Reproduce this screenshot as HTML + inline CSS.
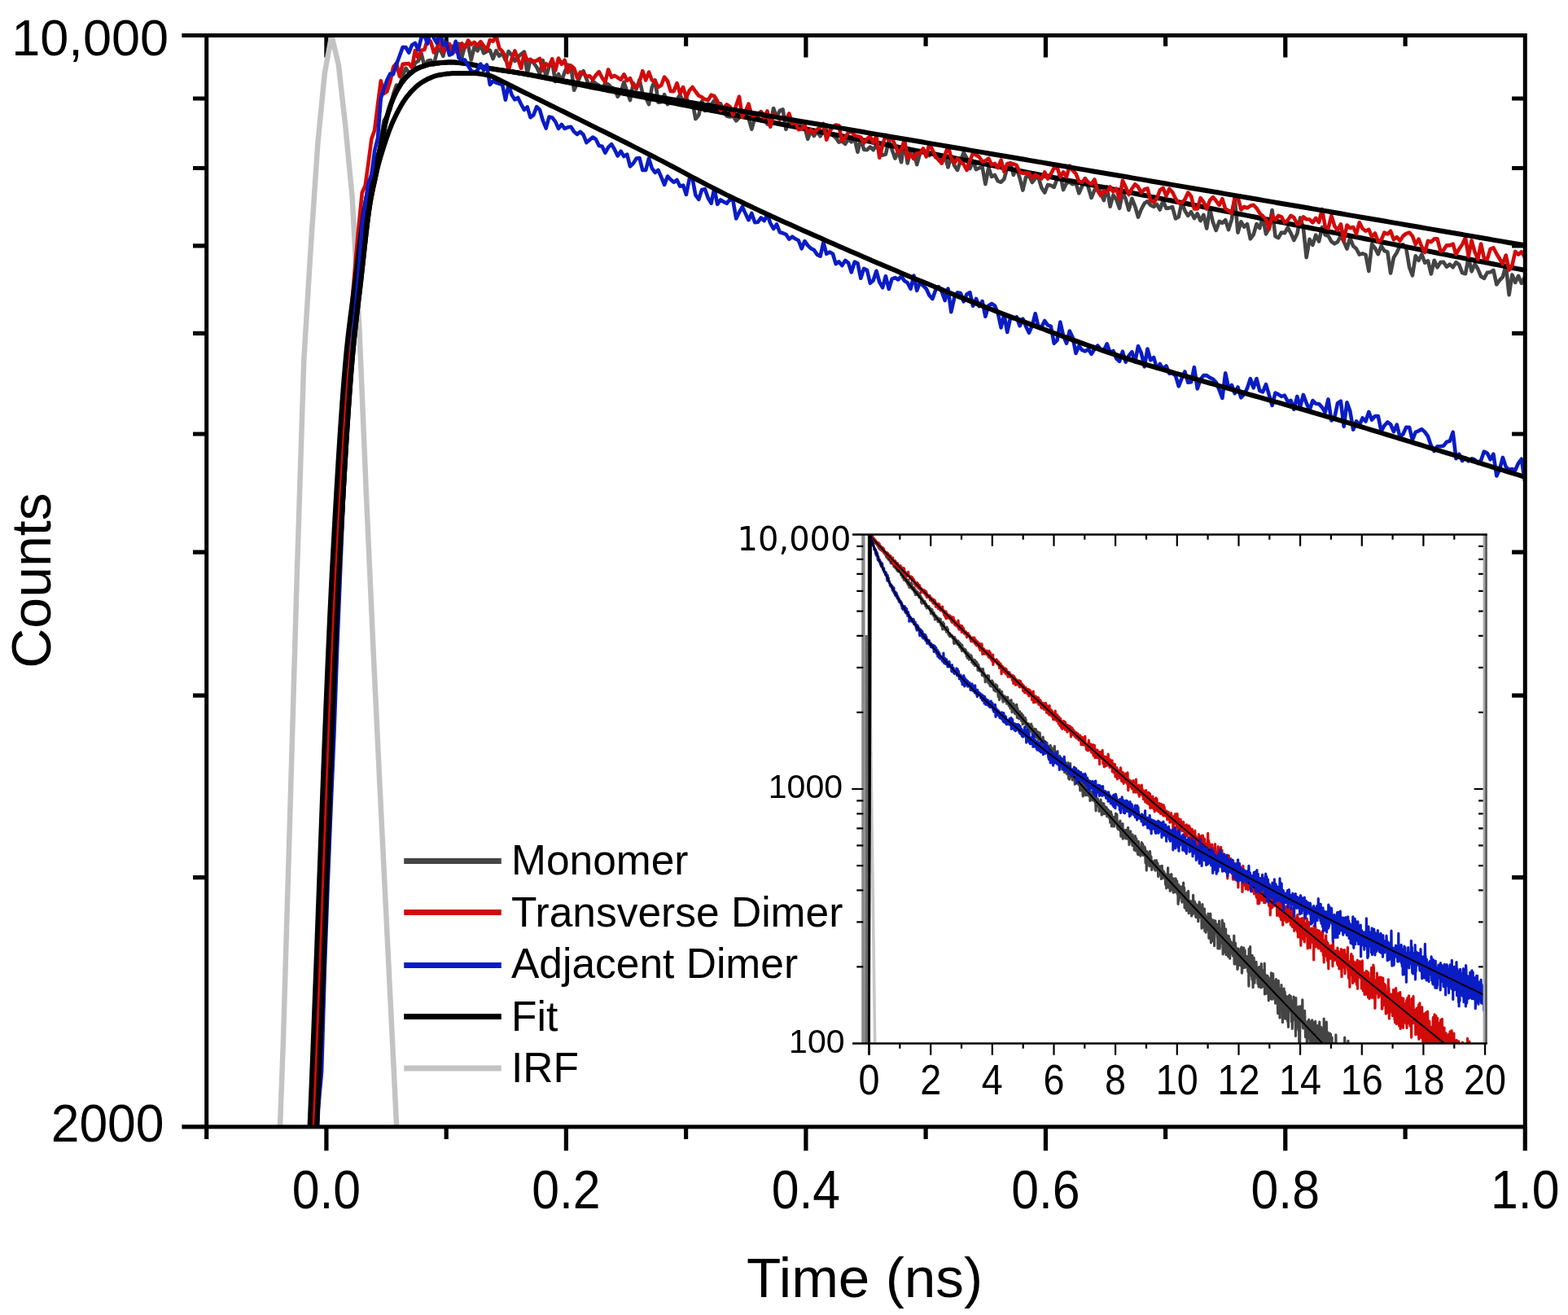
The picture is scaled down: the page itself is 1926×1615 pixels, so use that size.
<!DOCTYPE html>
<html><head><meta charset="utf-8"><title>Fluorescence decay</title>
<style>html,body{margin:0;padding:0;background:#fff;}svg{display:block;}</style>
</head><body>
<svg width="1926" height="1615" viewBox="0 0 1926 1615">
<rect width="1926" height="1615" fill="#fff"/>
<defs>
<clipPath id="cm"><rect x="253.7" y="43.5" width="1619.6" height="1340.4"/></clipPath>
<clipPath id="ci"><rect x="1060.3" y="656.5" width="764.2" height="625.0"/></clipPath>
</defs>
<path d="M253.7,1383.9 v15.1 M400.9,1383.9 v29.3 M400.9,43.5 v27 M548.2,1383.9 v15.1 M548.2,43.5 v13.3 M695.4,1383.9 v29.3 M695.4,43.5 v27 M842.6,1383.9 v15.1 M842.6,43.5 v13.3 M989.9,1383.9 v29.3 M989.9,43.5 v27 M1137.1,1383.9 v15.1 M1137.1,43.5 v13.3 M1284.4,1383.9 v29.3 M1284.4,43.5 v27 M1431.6,1383.9 v15.1 M1431.6,43.5 v13.3 M1578.8,1383.9 v29.3 M1578.8,43.5 v27 M1726.1,1383.9 v15.1 M1726.1,43.5 v13.3 M1873.3,1383.9 v29.3 M253.7,1077.7 h-16.7 M1873.3,1077.7 h-16.2 M253.7,854.2 h-16.7 M1873.3,854.2 h-16.2 M253.7,678.2 h-16.7 M1873.3,678.2 h-16.2 M253.7,533 h-16.7 M1873.3,533 h-16.2 M253.7,409.4 h-16.7 M1873.3,409.4 h-16.2 M253.7,301.8 h-16.7 M1873.3,301.8 h-16.2 M253.7,206.5 h-16.7 M1873.3,206.5 h-16.2 M253.7,121 h-16.7 M1873.3,121 h-16.2 M253.7,43.5 h-30.3 M253.7,1383.9 h-30.3" stroke="#000" stroke-width="5.2" fill="none"/>
<g clip-path="url(#cm)" fill="none" stroke-linejoin="round" stroke-linecap="round">
<polyline points="330.8,1685.5 339.3,1506.9 347.8,1282.4 356.3,997.2 364.8,706.4 373.3,441.6 381.8,302.5 390.3,176.6 398.8,90 407.3,43.5 415.8,79.4 424.3,154.6 432.8,244 441.3,402.3 449.8,604.9 458.3,793.4 466.8,970.9 475.3,1143.2 483.8,1315.2 492.3,1490.5 500.8,1666.6" stroke="#c3c3c3" stroke-width="6.5"/>
<polyline points="356.8,1913.2 360.6,1792.5 364.4,1717.7 368.3,1683.8 372.1,1615.7 375.9,1557.7 379.7,1473.5 383.6,1413.9 387.4,1319.1 391.2,1264.1 395.1,1107.9 398.9,1022.4 402.7,904.8 406.5,813.9 410.4,727.4 414.2,643.6 418,571.7 421.8,520.3 425.7,466.2 429.5,414.8 433.3,395 437.2,369.9 441,319.7 444.8,295.1 448.6,275.5 452.5,242.7 456.3,220.9 460.1,210.1 464,197.5 467.8,170.5 471.6,148.1 475.4,142 479.3,134.2 483.1,115.4 486.9,104.6 490.8,105.5 494.6,92.9 498.4,83.9 502.2,89 506.1,89.7 509.9,77.2 513.7,75 517.6,66 521.4,81.8 525.2,74.8 529,74.1 532.9,79.3 536.7,63.8 540.5,59.9 544.3,68.9 548.2,52.2 552,55.9 555.8,56.9 559.7,58.1 563.5,53.6 567.3,70.6 571.1,55.6 575,55.5 578.8,73.5 582.6,57.5 586.5,62.4 590.3,55.2 594.1,65.3 597.9,63.2 601.8,61.6 605.6,72.1 609.4,62.2 613.3,68.8 617.1,65.4 620.9,74.2 624.7,63.1 628.6,67.9 632.4,75 636.2,70 640.1,66.5 643.9,63.6 647.7,90.6 651.5,72.8 655.4,77.1 659.2,82.5 663,90.6 666.8,74.2 670.7,94.6 674.5,81.4 678.3,76.8 682.2,100.1 686,90.9 689.8,99.7 693.6,88.5 697.5,79.6 701.3,80.6 705.1,110.8 709,102.2 712.8,93.1 716.6,87.2 720.4,97 724.3,106.9 728.1,99.6 731.9,102.8 735.8,105.1 739.6,110.1 743.4,102.2 747.2,103.6 751.1,107.6 754.9,109.4 758.7,118.6 762.6,113.1 766.4,100.8 770.2,112.4 774,123.1 777.9,102.2 781.7,109.3 785.5,97.9 789.3,114.6 793.2,119.5 797,128.1 800.8,107.2 804.7,98.4 808.5,125.6 812.3,125.1 816.1,116.1 820,128.2 823.8,124.5 827.6,126 831.5,122.5 835.3,116.3 839.1,125.5 842.9,119.3 846.8,130.6 850.6,125.5 854.4,146 858.3,141.3 862.1,124.3 865.9,136 869.7,127.6 873.6,128.7 877.4,123.4 881.2,128.2 885.1,127.3 888.9,137 892.7,142.5 896.5,143.5 900.4,142.4 904.2,148.3 908,144.4 911.8,141.6 915.7,139.7 919.5,145.2 923.3,158.7 927.2,144.6 931,143.1 934.8,137.1 938.6,141.9 942.5,152.4 946.3,153.9 950.1,133 954,143.7 957.8,136 961.6,134.5 965.4,158.8 969.3,149.9 973.1,150.2 976.9,150.2 980.8,151.2 984.6,154.8 988.4,156 992.2,170.7 996.1,161 999.9,166.9 1003.7,161.2 1007.6,167.3 1011.4,159.9 1015.2,159.6 1019,164.9 1022.9,166.1 1026.7,169.1 1030.5,174.6 1034.3,173.3 1038.2,176.9 1042,170.5 1045.8,174.3 1049.7,170.4 1053.5,186.7 1057.3,169.4 1061.1,183.6 1065,184.1 1068.8,180.5 1072.6,184.2 1076.5,178 1080.3,185.8 1084.1,190.6 1087.9,189.5 1091.8,172.7 1095.6,183.8 1099.4,194.5 1103.3,185.6 1107.1,199.2 1110.9,172.6 1114.7,200.4 1118.6,184.7 1122.4,184.9 1126.2,202.1 1130.1,188.4 1133.9,183.5 1137.7,188.5 1141.5,191 1145.4,186.1 1149.2,193.3 1153,192.6 1156.8,197.2 1160.7,191.7 1164.5,205.4 1168.3,191.9 1172.2,203.3 1176,208.9 1179.8,197.6 1183.6,187.5 1187.5,194.2 1191.3,207.1 1195.1,197.9 1199,208.1 1202.8,206.2 1206.6,205.2 1210.4,226.1 1214.3,206 1218.1,217 1221.9,215 1225.8,222.4 1229.6,223.7 1233.4,219.8 1237.2,206 1241.1,200.1 1244.9,214.9 1248.7,206.6 1252.6,218.8 1256.4,233.6 1260.2,217.3 1264,215.8 1267.9,224 1271.7,218.9 1275.5,217.6 1279.3,230.5 1283.2,236.6 1287,227 1290.8,227.8 1294.7,229.9 1298.5,219.6 1302.3,214.4 1306.1,233.1 1310,224.7 1313.8,223.6 1317.6,226.3 1321.5,224.5 1325.3,237.4 1329.1,228.8 1332.9,219.1 1336.8,230.1 1340.6,243 1344.4,233.5 1348.3,229 1352.1,237.3 1355.9,246.1 1359.7,229.3 1363.6,253.7 1367.4,239.7 1371.2,244.9 1375.1,255.8 1378.9,236.2 1382.7,244.3 1386.5,258 1390.4,243.8 1394.2,253.3 1398,266.7 1401.9,257 1405.7,249.7 1409.5,247.3 1413.3,252 1417.2,253.8 1421,250.9 1424.8,257.5 1428.6,246.5 1432.5,255.9 1436.3,255.4 1440.1,254.1 1444,268.5 1447.8,266.3 1451.6,248 1455.4,258.8 1459.3,264.9 1463.1,260.3 1466.9,268.1 1470.8,262.3 1474.6,271.2 1478.4,263.8 1482.2,280.6 1486.1,256.4 1489.9,272.9 1493.7,282.9 1497.6,271.9 1501.4,273.9 1505.2,270.2 1509,282.1 1512.9,269.6 1516.7,243.1 1520.5,285.6 1524.4,272.3 1528.2,278.7 1532,275.1 1535.8,293.3 1539.7,288.2 1543.5,275 1547.3,280.1 1551.1,266.5 1555,287.4 1558.8,280.5 1562.6,258 1566.5,290.2 1570.3,292.2 1574.1,285.5 1577.9,286.3 1581.8,279.5 1585.6,286.4 1589.4,295 1593.3,287.3 1597.1,267.4 1600.9,279.8 1604.7,316.2 1608.6,293.7 1612.4,300.9 1616.2,288.7 1620.1,296.5 1623.9,279.1 1627.7,288.5 1631.5,289.7 1635.4,296.6 1639.2,299.4 1643,297 1646.9,289.5 1650.7,296.9 1654.5,305.5 1658.3,292.1 1662.2,302.3 1666,305.5 1669.8,312.6 1673.6,311.4 1677.5,312.8 1681.3,332.9 1685.1,299.9 1689,304.6 1692.8,312.2 1696.6,302 1700.4,308 1704.3,309.4 1708.1,335.5 1711.9,316.2 1715.8,310.2 1719.6,301.5 1723.4,300.3 1727.2,304.6 1731.1,328.2 1734.9,338.3 1738.7,314.3 1742.6,319.8 1746.4,312.3 1750.2,322.7 1754,320.3 1757.9,336.4 1761.7,319.8 1765.5,328.4 1769.4,322.1 1773.2,321.9 1777,327.7 1780.8,324.6 1784.7,328.2 1788.5,322.1 1792.3,325.1 1796.1,335.1 1800,336.2 1803.8,316.3 1807.6,333.3 1811.5,324.3 1815.3,330.3 1819.1,339.5 1822.9,341.9 1826.8,334.8 1830.6,334.3 1834.4,331.8 1838.3,349.3 1842.1,344 1845.9,340.2 1849.7,325.8 1853.6,362.1 1857.4,337.4 1861.2,346.9 1865.1,338.8 1868.9,347.8 1872.7,340.8 1876.5,330.8 1880.4,342.2 1884.2,342.2 1888,343.5 1891.9,354.4 1895.7,343.5 1899.5,351" stroke="#444444" stroke-width="4.6"/>
<polyline points="377,1596.5 377.5,1588.2 378,1579.9 378.5,1571.6 379,1563.3 379.5,1555 380,1546.7 380.5,1538.4 381,1530 381.5,1521.6 382,1513.1 382.5,1504.6 383,1496 383.5,1487.3 384,1478.5 384.5,1469.6 385,1460.6 385.5,1451.6 386,1442.3 386.5,1433 387,1423.5 387.5,1413.9 388,1404.1 388.5,1394.1 389,1384 389.5,1373.6 390,1363 390.5,1352.2 391,1341.1 391.5,1329.8 392,1318.3 392.5,1306.6 393,1294.7 393.5,1282.6 394,1270.4 394.5,1258 395,1245.4 395.5,1232.7 396,1219.9 396.5,1206.9 397,1193.8 397.5,1180.6 398,1167.4 398.5,1154 399,1140.6 399.5,1127.1 400,1113.5 400.5,1099.9 401,1086.3 401.5,1072.6 402,1058.9 402.5,1045.3 403,1031.6 403.5,1017.9 404,1004.3 404.5,990.7 405,977.1 405.5,963.6 406,950.2 406.5,936.8 407,923.5 407.5,910.3 408,897.2 408.5,884.2 409,871.3 409.5,858.6 410,846 410.5,833.6 411,821.3 411.5,809.2 412,797.2 412.5,785.5 413,774 413.5,762.6 414,751.5 414.5,740.6 415,730 415.5,719.6 416,709.5 416.5,699.6 417,690 417.5,680.6 418,671.2 418.5,661.9 419,652.7 419.5,643.5 420,634.4 420.5,625.4 421,616.5 421.5,607.7 422,598.9 422.5,590.3 423,581.7 423.5,573.3 424,564.9 424.5,556.7 425,548.6 425.5,540.6 426,532.7 426.5,525 427,517.4 427.5,509.9 428,502.5 428.5,495.3 429,488.3 429.5,481.4 430,474.6 430.5,468 431,461.6 431.5,455.3 432,449.3 432.5,443.3 433,437.6 433.5,432.1 434,426.7 434.5,421.5 435,416.5 435.5,411.6 436,406.9 436.5,402.3 437,397.8 437.5,393.4 438,389 438.5,384.7 439,380.5 439.5,376.3 440,372.2 440.5,368 441,363.8 441.5,359.6 442,355.4 442.5,351.1 443,346.8 443.5,342.4 444,337.9 444.5,333.4 445,328.8 445.5,324.3 446,319.7 446.5,315.1 447,310.5 447.5,305.9 448,301.3 448.5,296.8 449,292.3 449.5,287.9 450,283.6 450.5,279.4 451,275.3 451.5,271.2 452,267.3 452.5,263.5 453,259.9 453.5,256.4 454,253.1 454.5,250 455,247.1 455.5,244.3 456,241.6 456.5,239.1 457,236.7 457.5,234.4 458,232.1 458.5,229.9 459,227.7 459.5,225.5 460,223.3 460.5,221 461,218.6 461.5,216.2 462,213.7 462.5,211 463,208.2 463.5,205.2 464,202 464.5,198.8 465,195.6 465.5,192.4 466,189.2 466.5,186 467,183 467.5,180.1 468,177.4 468.5,174.7 469,172 469.5,169.4 470,166.8 470.5,164.2 471,161.7 471.5,159.3 472,156.9 472.5,154.7 473,152.5 473.5,150.4 474,148.5 474.5,146.6 475,144.8 475.5,143 476,141.2 476.5,139.5 477,137.8 477.5,136.2 478,134.6 478.5,133 479,131.5 479.5,130 480,128.5 480.5,127.1 481,125.7 481.5,124.4 482,123.1 482.5,121.8 483,120.6 483.5,119.5 484,118.4 484.5,117.3 485,116.3 485.5,115.3 486,114.3 486.5,113.3 487,112.3 487.5,111.4 488,110.5 488.5,109.6 489,108.7 489.5,107.8 490,107 490.5,106.1 491,105.3 491.5,104.5 492,103.8 492.5,103 493,102.3 493.5,101.6 494,100.9 494.5,100.2 495,99.5 495.5,98.9 496,98.3 496.5,97.7 497,97.1 497.5,96.5 498,96 498.5,95.5 499,94.9 499.5,94.4 500,93.9 502,91.9 504,90.1 506,88.4 508,86.9 510,85.6 512,84.5 514,83.6 516,82.7 518,82 520,81.2 522,80.6 524,80 526,79.4 528,78.9 530,78.5 532,78.2 534,77.9 536,77.7 538,77.5 540,77.3 542,77.1 544,76.9 546,76.8 548,76.7 550,76.6 552,76.5 554,76.5 556,76.5 558,76.6 560,76.7 562,76.9 564,77.1 566,77.3 568,77.6 570,77.8 572,78.1 574,78.4 576,78.6 578,79 580,79.4 582,79.8 584,80.3 586,80.7 588,81.2 590,81.7 592,82.2 594,82.6 596,83 598,83.4 600,83.7 602,84.1 604,84.4 606,84.7 608,85 610,85.3 612,85.6 614,85.9 616,86.2 618,86.5 620,86.8 622,87.1 624,87.4 626,87.7 628,88 630,88.3 632,88.7 634,89 636,89.3 638,89.7 640,90 642,90.4 644,90.7 646,91.1 648,91.5 650,91.9 652,92.2 654,92.6 656,93 658,93.4 660,93.8 662,94.2 664,94.6 666,95 668,95.4 670,95.8 672,96.2 674,96.6 676,97 678,97.4 680,97.8 682,98.2 684,98.6 686,99 688,99.4 690,99.8 692,100.2 694,100.6 696,101 698,101.4 700,101.8 706,103 712,104.1 718,105.3 724,106.5 730,107.7 736,108.8 742,110 748,111.2 754,112.3 760,113.5 766,114.7 772,115.9 778,117 784,118.2 790,119.4 796,120.5 802,121.7 808,122.9 814,124.1 820,125.2 826,126.4 832,127.6 838,128.7 844,129.9 850,131.1 856,132.3 862,133.4 868,134.6 874,135.8 880,136.9 886,138.1 892,139.3 898,140.5 904,141.6 910,142.8 916,144 922,145.1 928,146.3 934,147.5 940,148.7 946,149.8 952,151 958,152.2 964,153.4 970,154.5 976,155.7 982,156.9 988,158.1 994,159.2 1000,160.4 1006,161.6 1012,162.7 1018,163.9 1024,165.1 1030,166.3 1036,167.4 1042,168.6 1048,169.8 1054,171 1060,172.1 1066,173.3 1072,174.5 1078,175.7 1084,176.8 1090,178 1096,179.2 1102,180.4 1108,181.5 1114,182.7 1120,183.9 1126,185.1 1132,186.3 1138,187.4 1144,188.6 1150,189.8 1156,191 1162,192.1 1168,193.3 1174,194.5 1180,195.7 1186,196.8 1192,198 1198,199.2 1204,200.4 1210,201.5 1216,202.7 1222,203.9 1228,205.1 1234,206.3 1240,207.4 1246,208.6 1252,209.8 1258,211 1264,212.1 1270,213.3 1276,214.5 1282,215.7 1288,216.8 1294,218 1300,219.2 1306,220.4 1312,221.6 1318,222.7 1324,223.9 1330,225.1 1336,226.3 1342,227.4 1348,228.6 1354,229.8 1360,231 1366,232.1 1372,233.3 1378,234.5 1384,235.7 1390,236.9 1396,238 1402,239.2 1408,240.4 1414,241.6 1420,242.7 1426,243.9 1432,245.1 1438,246.3 1444,247.5 1450,248.6 1456,249.8 1462,251 1468,252.2 1474,253.3 1480,254.5 1486,255.7 1492,256.9 1498,258.1 1504,259.2 1510,260.4 1516,261.6 1522,262.8 1528,263.9 1534,265.1 1540,266.3 1546,267.5 1552,268.7 1558,269.8 1564,271 1570,272.2 1576,273.4 1582,274.6 1588,275.7 1594,276.9 1600,278.1 1606,279.3 1612,280.5 1618,281.6 1624,282.8 1630,284 1636,285.2 1642,286.4 1648,287.5 1654,288.7 1660,289.9 1666,291.1 1672,292.3 1678,293.5 1684,294.6 1690,295.8 1696,297 1702,298.2 1708,299.4 1714,300.5 1720,301.7 1726,302.9 1732,304.1 1738,305.3 1744,306.5 1750,307.6 1756,308.8 1762,310 1768,311.2 1774,312.4 1780,313.6 1786,314.7 1792,315.9 1798,317.1 1804,318.3 1810,319.5 1816,320.7 1822,321.8 1828,323 1834,324.2 1840,325.4 1846,326.6 1852,327.8 1858,329 1864,330.1 1870,331.3 1876,332.5" stroke="#000" stroke-width="6"/>
<polyline points="356.8,1999.6 360.6,1889.8 364.4,1796.7 368.3,1750.5 372.1,1630.6 375.9,1600.1 379.7,1485.2 383.6,1416.1 387.4,1330.6 391.2,1236.3 395.1,1139.9 398.9,1042.2 402.7,933.1 406.5,814 410.4,741.3 414.2,658 418,589.2 421.8,520.5 425.7,458.5 429.5,402.2 433.3,361 437.2,314.9 441,274.1 444.8,236.5 448.6,228 452.5,200.1 456.3,170.8 460.1,160.1 464,128.5 467.8,99.3 471.6,115 475.4,112.3 479.3,100 483.1,82.5 486.9,77.6 490.8,93.8 494.6,78.9 498.4,78.4 502.2,78.1 506.1,83.1 509.9,62 513.7,71 517.6,61.7 521.4,60.9 525.2,48.2 529,51.1 532.9,64.5 536.7,58.5 540.5,50.1 544.3,64 548.2,57.9 552,53.9 555.8,64.9 559.7,62.5 563.5,65.4 567.3,53.3 571.1,58.5 575,49.6 578.8,54.6 582.6,51.9 586.5,56 590.3,51.1 594.1,56.4 597.9,61.9 601.8,49 605.6,50.7 609.4,43.8 613.3,59.3 617.1,63.2 620.9,69.9 624.7,86.3 628.6,72 632.4,62.5 636.2,72.2 640.1,84 643.9,65.5 647.7,73.9 651.5,73.6 655.4,75.2 659.2,74.5 663,71.9 666.8,86.6 670.7,78.4 674.5,81.3 678.3,72.3 682.2,86.7 686,71.5 689.8,78.8 693.6,73.8 697.5,89.1 701.3,80.7 705.1,83.8 709,95.8 712.8,88.6 716.6,90.2 720.4,93.9 724.3,93.2 728.1,97.9 731.9,92.4 735.8,88.1 739.6,95.5 743.4,101 747.2,85.4 751.1,94.8 754.9,92.9 758.7,95.2 762.6,97.7 766.4,91.3 770.2,98.9 774,96.1 777.9,105.9 781.7,107.8 785.5,100.6 789.3,87.1 793.2,98.5 797,88.5 800.8,98.5 804.7,99.5 808.5,107 812.3,104.6 816.1,94.6 820,99.5 823.8,112 827.6,112.2 831.5,102.2 835.3,114.9 839.1,107.1 842.9,119.7 846.8,111.3 850.6,107 854.4,112.5 858.3,117.5 862.1,119.4 865.9,122.1 869.7,123 873.6,116.7 877.4,118 881.2,123.9 885.1,135.7 888.9,132.2 892.7,128.3 896.5,131.1 900.4,141.2 904.2,129.6 908,118.6 911.8,143.8 915.7,136.6 919.5,127.7 923.3,141.5 927.2,142.2 931,139.4 934.8,137.6 938.6,144.6 942.5,136.5 946.3,155.7 950.1,140.1 954,142.6 957.8,146.7 961.6,144 965.4,146.9 969.3,139.5 973.1,151.7 976.9,149.8 980.8,159.2 984.6,158.3 988.4,153.5 992.2,162.9 996.1,159.2 999.9,163.3 1003.7,159 1007.6,156.1 1011.4,151.9 1015.2,171.6 1019,161.4 1022.9,155.6 1026.7,153.4 1030.5,154.3 1034.3,173.7 1038.2,168.7 1042,162.8 1045.8,161.3 1049.7,166.4 1053.5,167.4 1057.3,168.4 1061.1,175.8 1065,170.7 1068.8,167.3 1072.6,175.6 1076.5,166.7 1080.3,193.8 1084.1,178.1 1087.9,165.8 1091.8,171.9 1095.6,169.1 1099.4,178.3 1103.3,187.7 1107.1,184.1 1110.9,171.8 1114.7,194.5 1118.6,189.4 1122.4,195.2 1126.2,188.2 1130.1,188.3 1133.9,182.5 1137.7,192.4 1141.5,176.6 1145.4,184.3 1149.2,192.3 1153,196.5 1156.8,200.6 1160.7,190.6 1164.5,179.2 1168.3,193.9 1172.2,200.4 1176,194.7 1179.8,198.4 1183.6,201.7 1187.5,209 1191.3,197.5 1195.1,188.1 1199,190.5 1202.8,192.8 1206.6,198.6 1210.4,197.5 1214.3,194.7 1218.1,202.4 1221.9,200.9 1225.8,206.1 1229.6,196.7 1233.4,211 1237.2,201 1241.1,200.6 1244.9,201.4 1248.7,202.9 1252.6,211.4 1256.4,212.7 1260.2,212.4 1264,212.8 1267.9,218.6 1271.7,214.7 1275.5,216.7 1279.3,219.5 1283.2,211.4 1287,219.6 1290.8,213.6 1294.7,206.2 1298.5,205.5 1302.3,217.2 1306.1,211.3 1310,217.1 1313.8,203.6 1317.6,209.2 1321.5,213.4 1325.3,222.6 1329.1,224 1332.9,219.4 1336.8,224 1340.6,226.1 1344.4,220.5 1348.3,234.3 1352.1,240.2 1355.9,234.2 1359.7,235.9 1363.6,229.4 1367.4,235.4 1371.2,231.6 1375.1,244.7 1378.9,221.8 1382.7,229.7 1386.5,239 1390.4,231.7 1394.2,226.3 1398,229.6 1401.9,236.6 1405.7,232.5 1409.5,231.4 1413.3,246.3 1417.2,248.6 1421,243.5 1424.8,233.5 1428.6,230.9 1432.5,240.6 1436.3,232 1440.1,236.1 1444,244 1447.8,249.2 1451.6,249.2 1455.4,244.9 1459.3,236.6 1463.1,241.1 1466.9,256.4 1470.8,256.5 1474.6,243.2 1478.4,248.1 1482.2,256.5 1486.1,246.1 1489.9,242.1 1493.7,246.6 1497.6,251.9 1501.4,244.2 1505.2,256.6 1509,258.7 1512.9,261.6 1516.7,243 1520.5,242.1 1524.4,257.5 1528.2,253.8 1532,255.4 1535.8,252.8 1539.7,251.7 1543.5,255.8 1547.3,261.8 1551.1,265.4 1555,269.5 1558.8,281.3 1562.6,264.4 1566.5,270.2 1570.3,264.9 1574.1,266.4 1577.9,273.5 1581.8,270.5 1585.6,264.8 1589.4,267.2 1593.3,275.1 1597.1,274.9 1600.9,266.4 1604.7,269.3 1608.6,269.5 1612.4,273.4 1616.2,267.9 1620.1,273 1623.9,257 1627.7,278.2 1631.5,280.5 1635.4,264.9 1639.2,277.4 1643,283 1646.9,275.3 1650.7,295.1 1654.5,276.5 1658.3,280.1 1662.2,279.1 1666,287.2 1669.8,273.2 1673.6,280.7 1677.5,283.7 1681.3,281.8 1685.1,290.8 1689,286.5 1692.8,296.8 1696.6,294.7 1700.4,285.6 1704.3,287.5 1708.1,283.8 1711.9,294.3 1715.8,291.1 1719.6,295.8 1723.4,289.9 1727.2,286.9 1731.1,285.6 1734.9,289.7 1738.7,300 1742.6,293.6 1746.4,303 1750.2,310 1754,295.9 1757.9,297.2 1761.7,293.3 1765.5,293.4 1769.4,308.5 1773.2,306.9 1777,301.3 1780.8,301.4 1784.7,299.7 1788.5,312.5 1792.3,305.7 1796.1,300.2 1800,292.1 1803.8,314.9 1807.6,295.4 1811.5,309.4 1815.3,318.3 1819.1,299.5 1822.9,317 1826.8,318.4 1830.6,305.8 1834.4,304.3 1838.3,311.7 1842.1,318 1845.9,324.2 1849.7,313.5 1853.6,331.6 1857.4,326 1861.2,308.9 1865.1,312.7 1868.9,309.1 1872.7,315.5 1876.5,327.2 1880.4,316.5 1884.2,333.4 1888,316.2 1891.9,312.2 1895.7,329.6 1899.5,315.9" stroke="#d20a0a" stroke-width="4.6"/>
<polyline points="377,1463.6 377.5,1452.5 378,1441.2 378.5,1429.9 379,1418.6 379.5,1407.1 380,1395.6 380.5,1384 381,1372.3 381.5,1360.4 382,1348.3 382.5,1336.1 383,1323.8 383.5,1311.3 384,1298.8 384.5,1286.1 385,1273.3 385.5,1260.4 386,1247.4 386.5,1234.4 387,1221.2 387.5,1208 388,1194.8 388.5,1181.5 389,1168.1 389.5,1154.7 390,1141.3 390.5,1127.8 391,1114.4 391.5,1100.9 392,1087.4 392.5,1073.9 393,1060.5 393.5,1047 394,1033.6 394.5,1020.2 395,1006.9 395.5,993.6 396,980.4 396.5,967.2 397,954.2 397.5,941.1 398,928.2 398.5,915.4 399,902.7 399.5,890.1 400,877.5 400.5,865.2 401,852.9 401.5,840.8 402,828.9 402.5,817.1 403,805.4 403.5,793.9 404,782.6 404.5,771.5 405,760.6 405.5,749.8 406,739.3 406.5,729 407,718.9 407.5,709 408,699.4 408.5,690 409,680.8 409.5,671.6 410,662.4 410.5,653.4 411,644.4 411.5,635.5 412,626.6 412.5,617.9 413,609.2 413.5,600.6 414,592.1 414.5,583.7 415,575.4 415.5,567.2 416,559.1 416.5,551.2 417,543.3 417.5,535.6 418,528 418.5,520.6 419,513.3 419.5,506.1 420,499 420.5,492.2 421,485.4 421.5,478.8 422,472.4 422.5,466.2 423,460.1 423.5,454.2 424,448.5 424.5,443 425,437.6 425.5,432.4 426,427.4 426.5,422.6 427,417.9 427.5,413.4 428,409 428.5,404.7 429,400.5 429.5,396.5 430,392.5 430.5,388.5 431,384.7 431.5,380.8 432,377.1 432.5,373.3 433,369.6 433.5,365.8 434,362.1 434.5,358.3 435,354.5 435.5,350.7 436,346.8 436.5,342.9 437,338.9 437.5,334.9 438,330.8 438.5,326.7 439,322.7 439.5,318.6 440,314.5 440.5,310.4 441,306.4 441.5,302.4 442,298.4 442.5,294.4 443,290.5 443.5,286.7 444,282.9 444.5,279.2 445,275.5 445.5,272 446,268.5 446.5,265.1 447,261.8 447.5,258.7 448,255.7 448.5,252.8 449,250 449.5,247.3 450,244.8 450.5,242.3 451,239.8 451.5,237.5 452,235.2 452.5,233 453,230.8 453.5,228.6 454,226.5 454.5,224.5 455,222.5 455.5,220.5 456,218.6 456.5,216.7 457,214.8 457.5,212.9 458,211 458.5,209.2 459,207.4 459.5,205.7 460,204.1 460.5,202.5 461,201 461.5,199.5 462,198 462.5,196.5 463,195 463.5,193.5 464,192 464.5,190.4 465,188.8 465.5,187.2 466,185.5 466.5,183.7 467,181.9 467.5,180 468,177.9 468.5,175.7 469,173.3 469.5,170.8 470,168.2 470.5,165.5 471,162.8 471.5,160.2 472,157.6 472.5,155.1 473,152.7 473.5,150.5 474,148.5 474.5,146.6 475,144.8 475.5,143 476,141.2 476.5,139.5 477,137.8 477.5,136.2 478,134.6 478.5,133 479,131.5 479.5,130 480,128.5 480.5,127.1 481,125.7 481.5,124.4 482,123.1 482.5,121.8 483,120.6 483.5,119.5 484,118.4 484.5,117.3 485,116.3 485.5,115.3 486,114.3 486.5,113.3 487,112.3 487.5,111.4 488,110.5 488.5,109.6 489,108.7 489.5,107.8 490,107 490.5,106.1 491,105.3 491.5,104.5 492,103.8 492.5,103 493,102.3 493.5,101.6 494,100.9 494.5,100.2 495,99.5 495.5,98.9 496,98.3 496.5,97.7 497,97.1 497.5,96.5 498,96 498.5,95.5 499,94.9 499.5,94.4 500,93.9 502,91.9 504,90.1 506,88.4 508,86.9 510,85.6 512,84.5 514,83.6 516,82.7 518,82 520,81.2 522,80.6 524,80 526,79.4 528,78.9 530,78.5 532,78.2 534,77.9 536,77.7 538,77.5 540,77.3 542,77.1 544,76.9 546,76.8 548,76.7 550,76.6 552,76.5 554,76.5 556,76.5 558,76.6 560,76.7 562,76.9 564,77.1 566,77.3 568,77.6 570,77.8 572,78.1 574,78.4 576,78.6 578,79 580,79.4 582,79.8 584,80.3 586,80.7 588,81.2 590,81.7 592,82.2 594,82.6 596,83 598,83.4 600,83.7 602,84.1 604,84.4 606,84.7 608,85 610,85.4 612,85.7 614,86 616,86.3 618,86.6 620,86.9 622,87.2 624,87.5 626,87.8 628,88.1 630,88.4 632,88.7 634,89 636,89.3 638,89.7 640,90 642,90.3 644,90.7 646,91 648,91.4 650,91.7 652,92 654,92.4 656,92.7 658,93.1 660,93.4 662,93.8 664,94.1 666,94.5 668,94.9 670,95.2 672,95.6 674,95.9 676,96.3 678,96.6 680,97 682,97.3 684,97.7 686,98 688,98.4 690,98.8 692,99.1 694,99.5 696,99.8 698,100.2 700,100.5 706,101.5 712,102.6 718,103.6 724,104.6 730,105.7 736,106.7 742,107.8 748,108.8 754,109.8 760,110.8 766,111.9 772,112.9 778,113.9 784,115 790,116 796,117 802,118 808,119.1 814,120.1 820,121.1 826,122.1 832,123.2 838,124.2 844,125.2 850,126.2 856,127.3 862,128.3 868,129.3 874,130.3 880,131.3 886,132.4 892,133.4 898,134.4 904,135.4 910,136.5 916,137.5 922,138.5 928,139.5 934,140.5 940,141.6 946,142.6 952,143.6 958,144.6 964,145.7 970,146.7 976,147.7 982,148.7 988,149.8 994,150.8 1000,151.8 1006,152.8 1012,153.8 1018,154.9 1024,155.9 1030,156.9 1036,157.9 1042,159 1048,160 1054,161 1060,162 1066,163.1 1072,164.1 1078,165.1 1084,166.1 1090,167.2 1096,168.2 1102,169.2 1108,170.2 1114,171.3 1120,172.3 1126,173.3 1132,174.3 1138,175.4 1144,176.4 1150,177.4 1156,178.4 1162,179.4 1168,180.5 1174,181.5 1180,182.5 1186,183.5 1192,184.6 1198,185.6 1204,186.6 1210,187.6 1216,188.7 1222,189.7 1228,190.7 1234,191.7 1240,192.8 1246,193.8 1252,194.8 1258,195.8 1264,196.9 1270,197.9 1276,198.9 1282,199.9 1288,201 1294,202 1300,203 1306,204 1312,205 1318,206.1 1324,207.1 1330,208.1 1336,209.1 1342,210.2 1348,211.2 1354,212.2 1360,213.2 1366,214.3 1372,215.3 1378,216.3 1384,217.3 1390,218.4 1396,219.4 1402,220.4 1408,221.4 1414,222.5 1420,223.5 1426,224.5 1432,225.5 1438,226.6 1444,227.6 1450,228.6 1456,229.6 1462,230.7 1468,231.7 1474,232.7 1480,233.8 1486,234.8 1492,235.8 1498,236.8 1504,237.9 1510,238.9 1516,239.9 1522,240.9 1528,242 1534,243 1540,244 1546,245 1552,246.1 1558,247.1 1564,248.1 1570,249.2 1576,250.2 1582,251.2 1588,252.2 1594,253.3 1600,254.3 1606,255.3 1612,256.4 1618,257.4 1624,258.4 1630,259.4 1636,260.5 1642,261.5 1648,262.5 1654,263.6 1660,264.6 1666,265.6 1672,266.7 1678,267.7 1684,268.7 1690,269.8 1696,270.8 1702,271.8 1708,272.9 1714,273.9 1720,274.9 1726,276 1732,277 1738,278 1744,279 1750,280.1 1756,281.1 1762,282.1 1768,283.2 1774,284.2 1780,285.2 1786,286.3 1792,287.3 1798,288.4 1804,289.4 1810,290.4 1816,291.5 1822,292.5 1828,293.5 1834,294.6 1840,295.6 1846,296.6 1852,297.7 1858,298.7 1864,299.7 1870,300.8 1876,301.8" stroke="#000" stroke-width="6"/>
<polyline points="356.8,1976.4 360.6,1907.2 364.4,1841.2 368.3,1735.5 372.1,1668.9 375.9,1618.8 379.7,1612.3 383.6,1537.1 387.4,1441.8 391.2,1359 395.1,1315.8 398.9,1188.4 402.7,1084.9 406.5,992.2 410.4,902.1 414.2,795.6 418,703.6 421.8,613.9 425.7,536.5 429.5,483.8 433.3,419.4 437.2,372.9 441,329.3 444.8,275.1 448.6,250.3 452.5,224.8 456.3,214.9 460.1,185.5 464,169.6 467.8,120.8 471.6,109.5 475.4,98.3 479.3,90.6 483.1,91.1 486.9,79.1 490.8,68.7 494.6,58.1 498.4,58 502.2,64.7 506.1,55.2 509.9,52.9 513.7,61.2 517.6,45.9 521.4,43.6 525.2,53.7 529,34.6 532.9,46.6 536.7,53 540.5,38 544.3,55.2 548.2,52.6 552,67.6 555.8,65.9 559.7,50.8 563.5,71.1 567.3,73.5 571.1,73.5 575,80.8 578.8,87 582.6,88.7 586.5,86.4 590.3,78.6 594.1,86.3 597.9,79.6 601.8,104 605.6,99.5 609.4,101.6 613.3,102.7 617.1,104 620.9,122.6 624.7,104.3 628.6,116.6 632.4,122.4 636.2,120 640.1,128 643.9,134.9 647.7,131.4 651.5,144.2 655.4,141.1 659.2,131.1 663,134.9 666.8,148 670.7,157.5 674.5,143.5 678.3,144.4 682.2,149.4 686,157.9 689.8,152.9 693.6,157.9 697.5,156.3 701.3,155.7 705.1,161.8 709,164.9 712.8,161.8 716.6,165.5 720.4,175.1 724.3,171.7 728.1,168.5 731.9,171 735.8,178.9 739.6,179.8 743.4,187.7 747.2,180.9 751.1,177.1 754.9,183.5 758.7,191.4 762.6,185.8 766.4,192 770.2,189.6 774,204.4 777.9,200.6 781.7,194.5 785.5,194.1 789.3,209 793.2,209 797,194.7 800.8,206.6 804.7,211.8 808.5,208.9 812.3,217.6 816.1,226.9 820,216.5 823.8,220.5 827.6,223.8 831.5,221 835.3,228.7 839.1,227.6 842.9,239 846.8,219.4 850.6,219.7 854.4,239.7 858.3,244.9 862.1,233 865.9,232.2 869.7,243 873.6,249.7 877.4,231.1 881.2,250.8 885.1,245.3 888.9,247.9 892.7,249.8 896.5,245 900.4,246.2 904.2,268.4 908,260.7 911.8,254 915.7,262.4 919.5,270.2 923.3,261.9 927.2,273.1 931,272.7 934.8,267.4 938.6,271.1 942.5,263.7 946.3,274.1 950.1,281 954,275.5 957.8,285.2 961.6,286.3 965.4,287.8 969.3,293.7 973.1,290.7 976.9,293.3 980.8,295.2 984.6,305.3 988.4,296.1 992.2,301.4 996.1,305.1 999.9,307 1003.7,312.6 1007.6,314.7 1011.4,297.8 1015.2,311.9 1019,309.6 1022.9,311.8 1026.7,324.1 1030.5,321.4 1034.3,326.1 1038.2,319.9 1042,322.8 1045.8,334.3 1049.7,321.7 1053.5,323.3 1057.3,341.7 1061.1,329.9 1065,331.8 1068.8,347.8 1072.6,344.5 1076.5,332.8 1080.3,346.7 1084.1,353.2 1087.9,339.1 1091.8,355 1095.6,342.6 1099.4,341.1 1103.3,343.4 1107.1,339.2 1110.9,344.9 1114.7,347.3 1118.6,354.7 1122.4,338.5 1126.2,356.8 1130.1,346.5 1133.9,350.9 1137.7,354.6 1141.5,362.7 1145.4,367 1149.2,356.3 1153,352.1 1156.8,358.2 1160.7,369 1164.5,354.5 1168.3,383.1 1172.2,365.7 1176,359.3 1179.8,359.9 1183.6,370.3 1187.5,361.5 1191.3,359.1 1195.1,375.8 1199,366.8 1202.8,376.2 1206.6,369.9 1210.4,388.7 1214.3,375.4 1218.1,373 1221.9,375.4 1225.8,384.7 1229.6,402.3 1233.4,386.2 1237.2,407.9 1241.1,390.2 1244.9,391.2 1248.7,389.2 1252.6,400.2 1256.4,391.7 1260.2,401 1264,408.7 1267.9,399.8 1271.7,385.2 1275.5,401.2 1279.3,401.6 1283.2,394 1287,399.4 1290.8,400.7 1294.7,421.7 1298.5,417.8 1302.3,395.6 1306.1,412.3 1310,421.7 1313.8,406.5 1317.6,414.4 1321.5,433.8 1325.3,424.9 1329.1,429.8 1332.9,431.4 1336.8,428.8 1340.6,434.8 1344.4,428.8 1348.3,424.5 1352.1,429.1 1355.9,430.2 1359.7,422.3 1363.6,433.2 1367.4,431 1371.2,440.2 1375.1,443.8 1378.9,431.6 1382.7,444.6 1386.5,437 1390.4,432.2 1394.2,444.4 1398,425.1 1401.9,433.8 1405.7,450.3 1409.5,428.5 1413.3,442.3 1417.2,439 1421,452.5 1424.8,447 1428.6,452.9 1432.5,449.5 1436.3,458.6 1440.1,458.2 1444,461.4 1447.8,474.4 1451.6,464.6 1455.4,456.5 1459.3,469.8 1463.1,469.2 1466.9,451 1470.8,477.4 1474.6,465.8 1478.4,461.1 1482.2,461 1486.1,463.9 1489.9,465.6 1493.7,469.5 1497.6,478.8 1501.4,488.9 1505.2,458.3 1509,476.2 1512.9,472.9 1516.7,483.1 1520.5,475.5 1524.4,488.3 1528.2,484.2 1532,476.9 1535.8,465.1 1539.7,476.3 1543.5,465 1547.3,479.9 1551.1,481.3 1555,472.2 1558.8,484.8 1562.6,497.9 1566.5,482.5 1570.3,484.3 1574.1,486.9 1577.9,485.7 1581.8,493.1 1585.6,491.9 1589.4,502.7 1593.3,486.9 1597.1,499.6 1600.9,484.9 1604.7,495 1608.6,503.8 1612.4,492 1616.2,495.7 1620.1,496.1 1623.9,500.2 1627.7,506.2 1631.5,490.4 1635.4,516.5 1639.2,513.2 1643,495.2 1646.9,492.7 1650.7,523.8 1654.5,494.3 1658.3,504.9 1662.2,527.6 1666,517.4 1669.8,522.2 1673.6,513.4 1677.5,517.5 1681.3,505.9 1685.1,515.6 1689,511.1 1692.8,511 1696.6,529.6 1700.4,522.7 1704.3,518.5 1708.1,521.1 1711.9,530.2 1715.8,521.7 1719.6,536.8 1723.4,533.2 1727.2,524.8 1731.1,524.7 1734.9,540.4 1738.7,530.8 1742.6,529.1 1746.4,527.1 1750.2,530.7 1754,535.9 1757.9,547.4 1761.7,554.1 1765.5,548.3 1769.4,548.2 1773.2,547.4 1777,542.7 1780.8,541.7 1784.7,530.7 1788.5,563.2 1792.3,557.8 1796.1,565.9 1800,562.5 1803.8,566.3 1807.6,563.2 1811.5,564.7 1815.3,569 1819.1,565.5 1822.9,554.6 1826.8,556.6 1830.6,564.3 1834.4,557.7 1838.3,584.5 1842.1,576.1 1845.9,561.9 1849.7,573.4 1853.6,576.7 1857.4,576.1 1861.2,577.5 1865.1,568.8 1868.9,563.8 1872.7,589.6 1876.5,588.7 1880.4,585.3 1884.2,579.2 1888,576.6 1891.9,584.4 1895.7,581.6 1899.5,588.7" stroke="#0a1cc4" stroke-width="4.6"/>
<polyline points="377,1596.5 377.5,1588.2 378,1579.9 378.5,1571.6 379,1563.3 379.5,1555 380,1546.7 380.5,1538.4 381,1530 381.5,1521.6 382,1513.1 382.5,1504.6 383,1496 383.5,1487.3 384,1478.5 384.5,1469.6 385,1460.6 385.5,1451.6 386,1442.3 386.5,1433 387,1423.5 387.5,1413.9 388,1404.1 388.5,1394.1 389,1384 389.5,1373.6 390,1363 390.5,1352.2 391,1341.1 391.5,1329.8 392,1318.3 392.5,1306.6 393,1294.7 393.5,1282.6 394,1270.4 394.5,1258 395,1245.4 395.5,1232.7 396,1219.9 396.5,1206.9 397,1193.8 397.5,1180.6 398,1167.4 398.5,1154 399,1140.6 399.5,1127.1 400,1113.5 400.5,1099.9 401,1086.3 401.5,1072.6 402,1058.9 402.5,1045.3 403,1031.6 403.5,1017.9 404,1004.3 404.5,990.7 405,977.1 405.5,963.6 406,950.2 406.5,936.8 407,923.5 407.5,910.3 408,897.2 408.5,884.2 409,871.3 409.5,858.6 410,846 410.5,833.6 411,821.3 411.5,809.2 412,797.2 412.5,785.5 413,774 413.5,762.6 414,751.5 414.5,740.6 415,730 415.5,719.6 416,709.5 416.5,699.6 417,690 417.5,680.6 418,671.2 418.5,661.9 419,652.7 419.5,643.5 420,634.4 420.5,625.4 421,616.5 421.5,607.7 422,598.9 422.5,590.3 423,581.7 423.5,573.3 424,564.9 424.5,556.7 425,548.6 425.5,540.6 426,532.7 426.5,525 427,517.4 427.5,509.9 428,502.5 428.5,495.3 429,488.3 429.5,481.4 430,474.6 430.5,468 431,461.6 431.5,455.3 432,449.3 432.5,443.3 433,437.6 433.5,432.1 434,426.7 434.5,421.5 435,416.5 435.5,411.6 436,406.9 436.5,402.3 437,397.8 437.5,393.4 438,389 438.5,384.7 439,380.5 439.5,376.3 440,372.2 440.5,368 441,363.8 441.5,359.6 442,355.4 442.5,351.1 443,346.8 443.5,342.4 444,337.9 444.5,333.4 445,328.8 445.5,324.3 446,319.7 446.5,315.1 447,310.5 447.5,305.9 448,301.3 448.5,296.8 449,292.3 449.5,287.9 450,283.6 450.5,279.4 451,275.3 451.5,271.2 452,267.3 452.5,263.5 453,259.9 453.5,256.4 454,253.1 454.5,250 455,247 455.5,244.1 456,241.3 456.5,238.6 457,236 457.5,233.4 458,230.9 458.5,228.5 459,226.1 459.5,223.8 460,221.6 460.5,219.4 461,217.3 461.5,215.1 462,213.1 462.5,211 463,209 463.5,207 464,205.1 464.5,203.2 465,201.3 465.5,199.5 466,197.7 466.5,195.9 467,194.2 467.5,192.4 468,190.8 468.5,189.1 469,187.5 469.5,185.9 470,184.3 470.5,182.7 471,181.1 471.5,179.6 472,178.1 472.5,176.6 473,175 473.5,173.5 474,172.1 474.5,170.6 475,169.1 475.5,167.7 476,166.2 476.5,164.8 477,163.4 477.5,162 478,160.7 478.5,159.4 479,158 479.5,156.8 480,155.5 480.5,154.3 481,153 481.5,151.9 482,150.7 482.5,149.6 483,148.5 483.5,147.4 484,146.4 484.5,145.3 485,144.3 485.5,143.2 486,142.2 486.5,141.2 487,140.2 487.5,139.2 488,138.2 488.5,137.2 489,136.3 489.5,135.3 490,134.4 490.5,133.5 491,132.6 491.5,131.7 492,130.8 492.5,129.9 493,129 493.5,128.2 494,127.3 494.5,126.5 495,125.7 495.5,124.9 496,124.2 496.5,123.4 497,122.7 497.5,121.9 498,121.2 498.5,120.5 499,119.8 499.5,119.2 500,118.5 502,116.1 504,113.8 506,111.6 508,109.6 510,107.6 512,105.8 514,104.1 516,102.6 518,101.2 520,100 522,98.9 524,97.8 526,96.8 528,95.9 530,95 532,94.2 534,93.5 536,92.9 538,92.4 540,92 542,91.7 544,91.4 546,91.1 548,90.8 550,90.6 552,90.4 554,90.2 556,90.1 558,90 560,90 562,90 564,90 566,90 568,90 570,90 572,90 574,90 576,90 578,90 580,90 582,90 584,90.1 586,90.3 588,90.5 590,90.8 592,91 594,91.4 596,91.7 598,92.1 600,92.5 602,93 604,93.7 606,94.5 608,95.5 610,96.5 612,97.5 614,98.5 616,99.5 618,100.4 620,101.4 622,102.4 624,103.4 626,104.4 628,105.4 630,106.5 632,107.5 634,108.5 636,109.5 638,110.5 640,111.5 642,112.5 644,113.5 646,114.5 648,115.4 650,116.4 652,117.4 654,118.4 656,119.4 658,120.4 660,121.3 662,122.3 664,123.3 666,124.3 668,125.3 670,126.2 672,127.2 674,128.2 676,129.2 678,130.2 680,131.1 682,132.1 684,133.1 686,134.1 688,135.1 690,136.1 692,137 694,138 696,139 698,140 700,141 706,144 712,146.9 718,149.9 724,152.9 730,155.9 736,158.9 742,161.8 748,164.8 754,167.8 760,170.8 766,173.8 772,176.8 778,179.9 784,182.9 790,185.9 796,189 802,192 808,195.1 814,198.2 820,201.4 826,204.5 832,207.7 838,210.9 844,214.1 850,217.3 856,220.5 862,223.6 868,226.8 874,229.9 880,233 886,236 892,239.1 898,242 904,244.9 910,247.8 916,250.7 922,253.5 928,256.4 934,259.2 940,262 946,264.7 952,267.5 958,270.2 964,272.9 970,275.6 976,278.3 982,281 988,283.7 994,286.3 1000,289 1006,291.6 1012,294.3 1018,296.9 1024,299.6 1030,302.2 1036,304.8 1042,307.4 1048,310 1054,312.6 1060,315.2 1066,317.8 1072,320.4 1078,323 1084,325.5 1090,328.1 1096,330.6 1102,333.1 1108,335.7 1114,338.2 1120,340.7 1126,343.2 1132,345.6 1138,348.1 1144,350.6 1150,353 1156,355.4 1162,357.9 1168,360.3 1174,362.7 1180,365.1 1186,367.5 1192,369.9 1198,372.2 1204,374.6 1210,377 1216,379.3 1222,381.6 1228,384 1234,386.3 1240,388.6 1246,390.8 1252,393.1 1258,395.4 1264,397.6 1270,399.9 1276,402.1 1282,404.3 1288,406.6 1294,408.8 1300,411 1306,413.2 1312,415.4 1318,417.6 1324,419.7 1330,421.9 1336,424 1342,426.1 1348,428.2 1354,430.3 1360,432.4 1366,434.4 1372,436.4 1378,438.4 1384,440.3 1390,442.2 1396,444.1 1402,445.9 1408,447.8 1414,449.6 1420,451.4 1426,453.2 1432,455 1438,456.7 1444,458.5 1450,460.2 1456,461.9 1462,463.6 1468,465.4 1474,467.1 1480,468.8 1486,470.5 1492,472.2 1498,474 1504,475.7 1510,477.4 1516,479.2 1522,480.9 1528,482.6 1534,484.3 1540,486 1546,487.7 1552,489.4 1558,491.1 1564,492.8 1570,494.4 1576,496.1 1582,497.8 1588,499.5 1594,501.2 1600,502.9 1606,504.6 1612,506.4 1618,508.1 1624,509.8 1630,511.6 1636,513.4 1642,515.1 1648,516.9 1654,518.7 1660,520.5 1666,522.3 1672,524.2 1678,526 1684,527.8 1690,529.6 1696,531.5 1702,533.3 1708,535.1 1714,537 1720,538.8 1726,540.7 1732,542.5 1738,544.3 1744,546.2 1750,548 1756,549.8 1762,551.7 1768,553.5 1774,555.3 1780,557.2 1786,559 1792,560.9 1798,562.7 1804,564.5 1810,566.4 1816,568.2 1822,570.1 1828,571.9 1834,573.8 1840,575.6 1846,577.5 1852,579.3 1858,581.2 1864,583 1870,584.9 1876,586.8" stroke="#000" stroke-width="6"/>
</g>
<rect x="253.7" y="43.5" width="1619.6" height="1340.4" fill="none" stroke="#000" stroke-width="5"/>
<rect x="1060.3" y="656.5" width="764.2" height="625.0" fill="#fff"/>
<g clip-path="url(#ci)" fill="none" stroke-linejoin="round">
<polyline points="1063.5,1289.5 1066.2,900 1067.3,656.5 1069.5,900 1074.8,1289.5" stroke="#c6c6c6" stroke-width="3.6"/>
<polyline points="1067.5,655.8 1067.8,656.9 1068.1,655.8 1068.4,655.2 1068.6,654.6 1068.9,656.4 1069.2,657.6 1069.5,658.3 1069.8,656.6 1070.1,655.8 1070.3,658 1070.6,660.4 1070.9,660.4 1071.2,657.3 1071.5,659.5 1071.8,662.6 1072,660.7 1072.3,662.5 1072.6,662.2 1072.9,662.3 1073.2,663 1073.5,661.6 1073.7,662.8 1074,663.9 1074.3,662.9 1074.6,662.7 1074.9,666.5 1075.2,664.9 1075.4,666.3 1075.7,665.6 1076,667.5 1076.3,666 1076.6,666.5 1076.9,667.2 1077.1,668.6 1077.4,668.1 1077.7,669.4 1078,670.2 1078.3,668.3 1078.6,670.5 1078.8,667.7 1079.1,668.7 1079.4,672.9 1079.7,670 1080,672.4 1080.3,671.1 1080.6,671.4 1080.8,674.7 1081.1,672.6 1081.4,673 1081.7,671.6 1082,675 1082.3,672.6 1082.5,675.6 1082.8,674.9 1083.1,676 1083.4,673 1083.7,674.7 1084,672.4 1084.2,675.3 1084.5,675.3 1084.8,675.7 1085.1,678.2 1085.4,677.8 1085.7,676.1 1085.9,679 1086.2,678.5 1086.5,679.1 1086.8,678.6 1087.1,680.4 1087.4,680.4 1087.6,680.2 1087.9,680.8 1088.2,682.6 1088.5,680.3 1088.8,684 1089.1,684.2 1089.3,684.7 1089.6,681.6 1089.9,684 1090.2,685.3 1090.5,685.9 1090.8,683.9 1091,686.5 1091.3,687.2 1091.6,684.7 1091.9,687.8 1092.2,686.8 1092.5,686.7 1092.8,687.7 1093,687.5 1093.3,685.7 1093.6,688.9 1093.9,690.4 1094.2,691.7 1094.5,689.5 1094.7,690.1 1095,689.5 1095.3,691 1095.6,691.4 1095.9,692.1 1096.2,692.2 1096.4,691.5 1096.7,692.7 1097,692.3 1097.3,689.9 1097.6,692.4 1097.9,696 1098.1,691.2 1098.4,693.7 1098.7,696.1 1099,693.5 1099.3,695.3 1099.6,696.6 1099.8,697 1100.1,697.9 1100.4,696.7 1100.7,695.4 1101,698 1101.3,697.1 1101.5,695.2 1101.8,700.5 1102.1,698.5 1102.4,699.7 1102.7,701.3 1103,701.6 1103.2,700.3 1103.5,700 1103.8,701.9 1104.1,701.3 1104.4,700.6 1104.7,701.6 1105,701.1 1105.2,702.1 1105.5,702.4 1105.8,700.6 1106.1,702.9 1106.4,704 1106.7,703.4 1106.9,706.4 1107.2,705.8 1107.5,704.4 1107.8,705 1108.1,703.9 1108.4,706.7 1108.6,709.5 1108.9,704.3 1109.2,706 1109.5,709.9 1109.8,706.3 1110.1,708.8 1110.3,712.2 1110.6,710.3 1110.9,710.8 1111.2,707.7 1111.5,711.9 1111.8,711.4 1112,711.8 1112.3,712.3 1112.6,713.6 1112.9,712 1113.2,711 1113.5,712.1 1113.7,715 1114,715.8 1114.3,714 1114.6,715.7 1114.9,715.9 1115.2,718.1 1115.4,712.3 1115.7,714.4 1116,717.9 1116.3,715.1 1116.6,714.7 1116.9,721.5 1117.2,718.6 1117.4,718.7 1117.7,717.3 1118,719 1118.3,719.5 1118.6,719.6 1118.9,716.7 1119.1,716.5 1119.4,721.4 1119.7,722.5 1120,716.7 1120.3,723.3 1120.6,722.9 1120.8,722.2 1121.1,721.8 1121.4,721.2 1121.7,722.7 1122,725.2 1122.3,723.2 1122.5,724 1122.8,721.5 1123.1,725.1 1123.4,727.8 1123.7,727.7 1124,723.6 1124.2,727.5 1124.5,730.6 1124.8,728.2 1125.1,727.6 1125.4,725.8 1125.7,730.1 1125.9,727.4 1126.2,727.6 1126.5,730.6 1126.8,730 1127.1,726.9 1127.4,727.3 1127.6,729.2 1127.9,730.5 1128.2,729.4 1128.5,732 1128.8,732.3 1129.1,734 1129.4,732.8 1129.6,733.3 1129.9,728.6 1130.2,734.2 1130.5,731.9 1130.8,732.2 1131.1,735.3 1131.3,733.2 1131.6,739.6 1131.9,735.8 1132.2,734.8 1132.5,741.1 1132.8,739.1 1133,735.4 1133.3,738.2 1133.6,740.1 1133.9,739.1 1134.2,739.8 1134.5,737.8 1134.7,738.6 1135,740.3 1135.3,741.4 1135.6,740.6 1135.9,738.4 1136.2,740.6 1136.4,740.4 1136.7,742.2 1137,744.7 1137.3,743.9 1137.6,741.7 1137.9,743.1 1138.1,745.3 1138.4,747 1138.7,744.1 1139,745.3 1139.3,745.7 1139.6,746 1139.8,745.2 1140.1,745.5 1140.4,744.6 1140.7,745 1141,744.6 1141.3,745.9 1141.6,748.4 1141.8,748.3 1142.1,747.6 1142.4,749.4 1142.7,748.1 1143,747.3 1143.3,751.4 1143.5,753.7 1143.8,748.3 1144.1,750.9 1144.4,749.9 1144.7,754.2 1145,748.7 1145.2,750.9 1145.5,752.9 1145.8,753.7 1146.1,753.1 1146.4,754 1146.7,754.6 1146.9,756.6 1147.2,752.3 1147.5,755.2 1147.8,755.3 1148.1,755.6 1148.4,760.8 1148.6,755.4 1148.9,757.4 1149.2,757.7 1149.5,757.4 1149.8,759.8 1150.1,756.5 1150.3,759.9 1150.6,760.7 1150.9,760.9 1151.2,759.2 1151.5,758.4 1151.8,761.4 1152.1,763.6 1152.3,758.8 1152.6,763.4 1152.9,759.3 1153.2,762.1 1153.5,763.7 1153.8,763.9 1154,762.1 1154.3,761.6 1154.6,764.1 1154.9,762.1 1155.2,760.2 1155.5,765.1 1155.7,767.4 1156,767.6 1156.3,768.6 1156.6,767.4 1156.9,767.9 1157.2,769.5 1157.4,766 1157.7,772.9 1158,770.5 1158.3,764.1 1158.6,766.4 1158.9,767.8 1159.1,768.2 1159.4,765.9 1159.7,768.8 1160,770 1160.3,773.1 1160.6,771 1160.8,772.8 1161.1,773.1 1161.4,773.4 1161.7,772.4 1162,773.3 1162.3,771.1 1162.5,776.1 1162.8,774 1163.1,770.1 1163.4,774.2 1163.7,772.2 1164,772.6 1164.3,772.6 1164.5,774.1 1164.8,779 1165.1,776.9 1165.4,777.5 1165.7,780.4 1166,778.4 1166.2,780.4 1166.5,781.7 1166.8,778 1167.1,778.8 1167.4,780.6 1167.7,781.5 1167.9,780.9 1168.2,781 1168.5,781.3 1168.8,780.9 1169.1,782.1 1169.4,780.6 1169.6,780.7 1169.9,781.4 1170.2,783.9 1170.5,784.2 1170.8,782.2 1171.1,783.9 1171.3,784 1171.6,789.7 1171.9,790.5 1172.2,784.1 1172.5,784.5 1172.8,782.5 1173,784.3 1173.3,785.8 1173.6,786.5 1173.9,790.1 1174.2,785.3 1174.5,788.9 1174.7,786.8 1175,787.8 1175.3,788 1175.6,787 1175.9,790.4 1176.2,790.5 1176.5,791.9 1176.7,791.1 1177,787 1177.3,791.8 1177.6,788.7 1177.9,789.8 1178.2,790.4 1178.4,790.5 1178.7,795 1179,792.2 1179.3,789.8 1179.6,795.3 1179.9,794.1 1180.1,795.9 1180.4,794 1180.7,797.5 1181,791.8 1181.3,796.6 1181.6,799.6 1181.8,792.4 1182.1,794.5 1182.4,795.9 1182.7,796.2 1183,798.6 1183.3,798.6 1183.5,796.8 1183.8,796.7 1184.1,797 1184.4,798.9 1184.7,800.8 1185,800.5 1185.2,797.9 1185.5,797.5 1185.8,801.9 1186.1,802.6 1186.4,798.9 1186.7,800.5 1186.9,800.8 1187.2,805.9 1187.5,804 1187.8,804.7 1188.1,803.3 1188.4,808.1 1188.7,801.5 1188.9,804.1 1189.2,804.1 1189.5,808.3 1189.8,805.9 1190.1,803.1 1190.4,810.2 1190.6,806.1 1190.9,805.5 1191.2,809.1 1191.5,805.9 1191.8,809 1192.1,805.6 1192.3,807.6 1192.6,808.6 1192.9,804.8 1193.2,807.9 1193.5,807.1 1193.8,813.4 1194,812.4 1194.3,809.2 1194.6,809.4 1194.9,812 1195.2,810.3 1195.5,815.1 1195.7,812.3 1196,816 1196.3,812.7 1196.6,815.1 1196.9,815.8 1197.2,814.4 1197.4,810.5 1197.7,817.7 1198,817 1198.3,813.3 1198.6,817.2 1198.9,812.3 1199.1,816.3 1199.4,817 1199.7,816.7 1200,813.7 1200.3,816.6 1200.6,817.3 1200.9,818.3 1201.1,823.1 1201.4,821.8 1201.7,816.3 1202,818.2 1202.3,819.3 1202.6,819.3 1202.8,822.6 1203.1,820.7 1203.4,824.1 1203.7,821.2 1204,824.3 1204.3,823.4 1204.5,822.1 1204.8,824.4 1205.1,822.3 1205.4,823.1 1205.7,823.6 1206,821.6 1206.2,829 1206.5,829.6 1206.8,824.3 1207.1,823.8 1207.4,821.5 1207.7,825 1207.9,825.1 1208.2,829.8 1208.5,826 1208.8,826.5 1209.1,831.3 1209.4,831.2 1209.6,829.5 1209.9,828.8 1210.2,837.7 1210.5,830 1210.8,829.9 1211.1,831.3 1211.3,830.5 1211.6,830.3 1211.9,834.5 1212.2,831.1 1212.5,833.2 1212.8,835.3 1213.1,832.6 1213.3,829.7 1213.6,837.7 1213.9,838.6 1214.2,838.9 1214.5,829.8 1214.8,835.8 1215,835.7 1215.3,837.9 1215.6,838.7 1215.9,841.9 1216.2,836.4 1216.5,836.5 1216.7,842.8 1217,840.6 1217.3,840.1 1217.6,838.5 1217.9,838.2 1218.2,836.2 1218.4,835.9 1218.7,837 1219,836.6 1219.3,843.6 1219.6,842.3 1219.9,838.1 1220.1,840.7 1220.4,841.7 1220.7,847.5 1221,847.5 1221.3,840.8 1221.6,842.2 1221.8,844.2 1222.1,844.9 1222.4,848.8 1222.7,843.4 1223,842 1223.3,840.7 1223.5,845.3 1223.8,846.3 1224.1,849.1 1224.4,843.1 1224.7,842.1 1225,848.7 1225.3,846.6 1225.5,847.5 1225.8,849.6 1226.1,855.4 1226.4,849.7 1226.7,847.4 1227,853.4 1227.2,852 1227.5,859.4 1227.8,846.8 1228.1,849.3 1228.4,850.9 1228.7,852.1 1228.9,853.4 1229.2,852.2 1229.5,853.2 1229.8,853.3 1230.1,853.1 1230.4,852.9 1230.6,849.3 1230.9,858.1 1231.2,853.5 1231.5,856.4 1231.8,858.2 1232.1,862.1 1232.3,853.9 1232.6,858.8 1232.9,858.4 1233.2,855.3 1233.5,860 1233.8,857.2 1234,857.8 1234.3,855.6 1234.6,855.4 1234.9,861.1 1235.2,856.3 1235.5,859.5 1235.7,859.2 1236,860.5 1236.3,858 1236.6,864.1 1236.9,860.1 1237.2,857.8 1237.5,862.3 1237.7,856.1 1238,864.3 1238.3,861.9 1238.6,864.2 1238.9,865 1239.2,866.8 1239.4,865.4 1239.7,864.3 1240,866.8 1240.3,862.2 1240.6,860.7 1240.9,870 1241.1,863.3 1241.4,865.5 1241.7,865.7 1242,859.7 1242.3,863.6 1242.6,866.4 1242.8,867.2 1243.1,874.6 1243.4,866.1 1243.7,870.9 1244,868.5 1244.3,869 1244.5,866.8 1244.8,864.1 1245.1,867.4 1245.4,866.9 1245.7,871.7 1246,869.9 1246.2,869.3 1246.5,876.3 1246.8,866.3 1247.1,874.7 1247.4,876.8 1247.7,868.4 1247.9,867.3 1248.2,876 1248.5,876.1 1248.8,865.4 1249.1,874.5 1249.4,881.3 1249.7,877.4 1249.9,869.9 1250.2,874.2 1250.5,874.2 1250.8,873.1 1251.1,875.1 1251.4,878.5 1251.6,882.8 1251.9,876.7 1252.2,881.9 1252.5,878.9 1252.8,873.8 1253.1,877.7 1253.3,879.5 1253.6,879.8 1253.9,878.1 1254.2,877.9 1254.5,885.2 1254.8,880.8 1255,876.4 1255.3,879.7 1255.6,884.7 1255.9,884.8 1256.2,889.6 1256.5,885.8 1256.7,878.7 1257,884.2 1257.3,887 1257.6,886.4 1257.9,885.3 1258.2,885.6 1258.4,886.7 1258.7,888.3 1259,884.2 1259.3,881.7 1259.6,888.7 1259.9,888.9 1260.1,883.8 1260.4,892.6 1260.7,890 1261,889.7 1261.3,888.3 1261.6,890 1261.9,892.3 1262.1,888.8 1262.4,893.9 1262.7,896.1 1263,897.4 1263.3,888.7 1263.6,897.1 1263.8,890.3 1264.1,889.9 1264.4,889.8 1264.7,893.2 1265,894.8 1265.3,893 1265.5,895.6 1265.8,898.2 1266.1,890.2 1266.4,897.5 1266.7,889.2 1267,893.6 1267.2,897.1 1267.5,894.5 1267.8,892.2 1268.1,901.1 1268.4,899.9 1268.7,900.7 1268.9,897 1269.2,896.5 1269.5,898 1269.8,900.9 1270.1,900.5 1270.4,895.2 1270.6,895.8 1270.9,899.3 1271.2,904.5 1271.5,898.3 1271.8,899.8 1272.1,900.2 1272.3,895.7 1272.6,899 1272.9,905.3 1273.2,905.6 1273.5,898.1 1273.8,902.3 1274.1,900.3 1274.3,904 1274.6,907.2 1274.9,903.2 1275.2,899.2 1275.5,903.5 1275.8,908.9 1276,906.4 1276.3,907.3 1276.6,905.3 1276.9,902.8 1277.2,900 1277.5,906.1 1277.7,908.6 1278,907.2 1278.3,907.7 1278.6,909.6 1278.9,908.3 1279.2,908.7 1279.4,913.2 1279.7,907.5 1280,910.9 1280.3,913.5 1280.6,908.7 1280.9,912.4 1281.1,905.1 1281.4,909.7 1281.7,911.4 1282,914.6 1282.3,913.7 1282.6,909.7 1282.8,915.3 1283.1,910.6 1283.4,921.1 1283.7,913.2 1284,911.4 1284.3,913.4 1284.5,914.9 1284.8,911.7 1285.1,918.6 1285.4,919.4 1285.7,915.8 1286,912.3 1286.3,915.3 1286.5,917.8 1286.8,916.4 1287.1,916.2 1287.4,922.6 1287.7,928.8 1288,922.4 1288.2,924.5 1288.5,921.4 1288.8,924 1289.1,923.1 1289.4,918.8 1289.7,920.3 1289.9,921 1290.2,915.4 1290.5,923.2 1290.8,923.2 1291.1,917.7 1291.4,926.6 1291.6,928.8 1291.9,918.5 1292.2,922.2 1292.5,921.6 1292.8,921.8 1293.1,921.1 1293.3,926.4 1293.6,925.3 1293.9,929.4 1294.2,925.1 1294.5,925.1 1294.8,927.9 1295,924.1 1295.3,916.4 1295.6,931.5 1295.9,924.5 1296.2,924.4 1296.5,924.2 1296.7,931.4 1297,924.4 1297.3,926.6 1297.6,929.8 1297.9,930.9 1298.2,929 1298.5,926.8 1298.7,927.3 1299,922.6 1299.3,932.5 1299.6,929.2 1299.9,933.4 1300.2,929.2 1300.4,931.9 1300.7,935 1301,938.1 1301.3,936.3 1301.6,932.8 1301.9,928.6 1302.1,931.4 1302.4,939.2 1302.7,936.8 1303,935.2 1303.3,936.1 1303.6,935.8 1303.8,933.4 1304.1,935.9 1304.4,939.8 1304.7,945 1305,939.1 1305.3,944.7 1305.5,939.1 1305.8,937.6 1306.1,944.4 1306.4,940.1 1306.7,941.2 1307,933.1 1307.2,938.9 1307.5,948.5 1307.8,939.6 1308.1,940.1 1308.4,942.8 1308.7,943.8 1308.9,940.4 1309.2,940.5 1309.5,941.7 1309.8,947.6 1310.1,945 1310.4,950.6 1310.7,950.7 1310.9,947.2 1311.2,949.6 1311.5,947.3 1311.8,936.6 1312.1,944.4 1312.4,950.2 1312.6,955.9 1312.9,950.7 1313.2,953.5 1313.5,957.1 1313.8,945.5 1314.1,950.6 1314.3,947.3 1314.6,937.5 1314.9,948.6 1315.2,949.5 1315.5,948.9 1315.8,951.7 1316,954.3 1316.3,952.1 1316.6,947 1316.9,952.9 1317.2,957.8 1317.5,957.6 1317.7,957 1318,953.1 1318.3,951.5 1318.6,951.8 1318.9,949.3 1319.2,955.1 1319.4,951.2 1319.7,953.6 1320,952.3 1320.3,963.2 1320.6,950.7 1320.9,962.5 1321.2,961 1321.4,953.5 1321.7,958.5 1322,950.1 1322.3,956.8 1322.6,962.1 1322.9,957.5 1323.1,960.1 1323.4,952.4 1323.7,952.4 1324,956.3 1324.3,961.3 1324.6,959.6 1324.8,955.9 1325.1,963.9 1325.4,964.2 1325.7,957.7 1326,958.4 1326.3,962.8 1326.5,963.2 1326.8,970.9 1327.1,957.9 1327.4,963.5 1327.7,969.5 1328,968.5 1328.2,967.8 1328.5,957.3 1328.8,961.7 1329.1,970.7 1329.4,957.6 1329.7,960 1329.9,970.4 1330.2,978 1330.5,962.4 1330.8,969.4 1331.1,967.7 1331.4,969.7 1331.6,962.5 1331.9,961.9 1332.2,964.9 1332.5,969.3 1332.8,967.9 1333.1,966.7 1333.4,976.6 1333.6,964.7 1333.9,971.6 1334.2,969.4 1334.5,970.3 1334.8,967.3 1335.1,966.9 1335.3,962.5 1335.6,973.6 1335.9,976.4 1336.2,972.1 1336.5,975.9 1336.8,969.6 1337,977.2 1337.3,973.3 1337.6,970.2 1337.9,970.2 1338.2,974 1338.5,969.1 1338.7,969.9 1339,983.5 1339.3,974.5 1339.6,975.6 1339.9,978 1340.2,979.8 1340.4,977.1 1340.7,975.9 1341,976.7 1341.3,972.3 1341.6,974.2 1341.9,981.5 1342.1,982.6 1342.4,975.7 1342.7,982.9 1343,979.4 1343.3,978.3 1343.6,976.2 1343.8,978.7 1344.1,975 1344.4,983.7 1344.7,979 1345,985.3 1345.3,981.7 1345.6,982.3 1345.8,987.5 1346.1,995.8 1346.4,979.6 1346.7,982.5 1347,983.8 1347.3,988 1347.5,986.6 1347.8,983.3 1348.1,985.6 1348.4,980.8 1348.7,985.8 1349,990.4 1349.2,984.2 1349.5,990.2 1349.8,986.6 1350.1,996.5 1350.4,989.8 1350.7,986 1350.9,991.9 1351.2,989.3 1351.5,986.8 1351.8,989.5 1352.1,982.1 1352.4,991.6 1352.6,991.6 1352.9,991.8 1353.2,1000.9 1353.5,999 1353.8,989.5 1354.1,993.9 1354.3,986.3 1354.6,993.3 1354.9,994 1355.2,988.8 1355.5,992.6 1355.8,986.8 1356,999.6 1356.3,992.7 1356.6,991.9 1356.9,992.8 1357.2,990.4 1357.5,991.2 1357.8,996.2 1358,999.3 1358.3,992.3 1358.6,997 1358.9,993 1359.2,991.5 1359.5,997.1 1359.7,1002.7 1360,999.9 1360.3,995.2 1360.6,1000.4 1360.9,994 1361.2,999.6 1361.4,999.5 1361.7,1003.5 1362,1001.2 1362.3,995.8 1362.6,1003 1362.9,1003.3 1363.1,1005.8 1363.4,998.6 1363.7,1010.2 1364,1006.2 1364.3,998.9 1364.6,996.8 1364.8,1005 1365.1,999.6 1365.4,1014.6 1365.7,1001.2 1366,1003.8 1366.3,1011.6 1366.5,1014.8 1366.8,1008.6 1367.1,1005.2 1367.4,1005 1367.7,1006.5 1368,1003.6 1368.2,1004.3 1368.5,1015 1368.8,1010.2 1369.1,1011.2 1369.4,1003.9 1369.7,1011.7 1370,1004.7 1370.2,1009.4 1370.5,999 1370.8,1010.8 1371.1,1010.8 1371.4,1011.7 1371.7,1010.7 1371.9,1000.1 1372.2,1014.6 1372.5,1016.8 1372.8,1013.7 1373.1,1009.7 1373.4,1018.4 1373.6,1009.7 1373.9,1010.1 1374.2,1015.1 1374.5,1015.9 1374.8,1018.9 1375.1,1016.6 1375.3,1019.6 1375.6,1009.6 1375.9,1008.1 1376.2,1017.9 1376.5,1017 1376.8,1027.2 1377,1020.1 1377.3,1016 1377.6,1016.6 1377.9,1017.7 1378.2,1014.4 1378.5,1018.5 1378.7,1021.3 1379,1011.6 1379.3,1030.2 1379.6,1026.3 1379.9,1024.4 1380.2,1024.7 1380.4,1025.2 1380.7,1022.7 1381,1025.6 1381.3,1022.4 1381.6,1019.4 1381.9,1022.6 1382.2,1022.4 1382.4,1028.4 1382.7,1029.8 1383,1025.6 1383.3,1019.6 1383.6,1022.7 1383.9,1019.4 1384.1,1020.1 1384.4,1019.8 1384.7,1030.2 1385,1019.8 1385.3,1022.6 1385.6,1016.3 1385.8,1024 1386.1,1025.7 1386.4,1028.4 1386.7,1027.2 1387,1037.4 1387.3,1030 1387.5,1029.2 1387.8,1024.1 1388.1,1033.1 1388.4,1029.2 1388.7,1020.8 1389,1033.4 1389.2,1026.4 1389.5,1034 1389.8,1032 1390.1,1029.3 1390.4,1027.4 1390.7,1035 1390.9,1038.3 1391.2,1025 1391.5,1032.3 1391.8,1029.4 1392.1,1029 1392.4,1030.2 1392.6,1035.9 1392.9,1035.6 1393.2,1043.8 1393.5,1034.5 1393.8,1038.3 1394.1,1036.2 1394.4,1026.5 1394.6,1033 1394.9,1036.7 1395.2,1044.9 1395.5,1033.7 1395.8,1029.8 1396.1,1042.8 1396.3,1036.2 1396.6,1041.7 1396.9,1040 1397.2,1041.5 1397.5,1048.9 1397.8,1042.9 1398,1049.6 1398.3,1033.3 1398.6,1035.4 1398.9,1041.1 1399.2,1040.1 1399.5,1041.6 1399.7,1041.1 1400,1041.4 1400.3,1044.2 1400.6,1044.1 1400.9,1051.1 1401.2,1049.4 1401.4,1047.5 1401.7,1043.2 1402,1046.8 1402.3,1034.7 1402.6,1046.3 1402.9,1047.6 1403.1,1043.5 1403.4,1040.6 1403.7,1036.5 1404,1041.5 1404.3,1050.5 1404.6,1048.4 1404.8,1041.9 1405.1,1046.6 1405.4,1043.9 1405.7,1049.1 1406,1040.2 1406.3,1041.3 1406.6,1043.3 1406.8,1049 1407.1,1059.6 1407.4,1058.3 1407.7,1048.9 1408,1047.4 1408.3,1069 1408.5,1054.4 1408.8,1045.6 1409.1,1046.9 1409.4,1055.4 1409.7,1049.3 1410,1053 1410.2,1054.7 1410.5,1047.5 1410.8,1047.7 1411.1,1057.4 1411.4,1060.2 1411.7,1062.7 1411.9,1063.8 1412.2,1048.1 1412.5,1045.5 1412.8,1055 1413.1,1050.6 1413.4,1060.8 1413.6,1057.5 1413.9,1052.2 1414.2,1055.9 1414.5,1058.2 1414.8,1068.4 1415.1,1067.4 1415.3,1061.4 1415.6,1062.5 1415.9,1060 1416.2,1063.6 1416.5,1061.4 1416.8,1060.1 1417,1057.8 1417.3,1060.7 1417.6,1064.7 1417.9,1063.4 1418.2,1056.8 1418.5,1063.5 1418.8,1068.5 1419,1069 1419.3,1061.6 1419.6,1060.3 1419.9,1056.8 1420.2,1066.1 1420.5,1056.6 1420.7,1066.9 1421,1066.5 1421.3,1068.8 1421.6,1062.6 1421.9,1059.9 1422.2,1066.5 1422.4,1069.7 1422.7,1076.5 1423,1066.4 1423.3,1069.7 1423.6,1069.1 1423.9,1072 1424.1,1073.9 1424.4,1071.4 1424.7,1066.5 1425,1063.8 1425.3,1069.8 1425.6,1068.1 1425.8,1071.6 1426.1,1071.4 1426.4,1079.5 1426.7,1066 1427,1068 1427.3,1063.3 1427.5,1076 1427.8,1071.7 1428.1,1078.6 1428.4,1071.7 1428.7,1074.2 1429,1069.7 1429.2,1074.9 1429.5,1070.5 1429.8,1077.7 1430.1,1071.3 1430.4,1077.1 1430.7,1078.3 1431,1075.3 1431.2,1073.9 1431.5,1085.5 1431.8,1086.5 1432.1,1075.9 1432.4,1077.7 1432.7,1090.9 1432.9,1089 1433.2,1083.2 1433.5,1076.6 1433.8,1077.6 1434.1,1073.1 1434.4,1072.4 1434.6,1065.8 1434.9,1089.5 1435.2,1080.7 1435.5,1074.2 1435.8,1089.2 1436.1,1090.5 1436.3,1080.4 1436.6,1075.2 1436.9,1074.6 1437.2,1094.3 1437.5,1090.8 1437.8,1083.8 1438,1086.9 1438.3,1081.7 1438.6,1083.2 1438.9,1073.6 1439.2,1085.1 1439.5,1083.8 1439.7,1084.8 1440,1078.7 1440.3,1093.2 1440.6,1083.7 1440.9,1091.5 1441.2,1096.2 1441.4,1079.7 1441.7,1084 1442,1079 1442.3,1086.3 1442.6,1084.1 1442.9,1087.7 1443.2,1085.2 1443.4,1091.9 1443.7,1078.8 1444,1095.6 1444.3,1079.4 1444.6,1091.6 1444.9,1085.1 1445.1,1090 1445.4,1088.3 1445.7,1082.1 1446,1090.9 1446.3,1098.5 1446.6,1090.9 1446.8,1088.5 1447.1,1110.3 1447.4,1087 1447.7,1086.6 1448,1106.2 1448.3,1095.3 1448.5,1089.2 1448.8,1102.8 1449.1,1098 1449.4,1097.7 1449.7,1092.1 1450,1088.8 1450.2,1096.6 1450.5,1096.2 1450.8,1090.9 1451.1,1093.7 1451.4,1098.3 1451.7,1089.2 1451.9,1108.1 1452.2,1097.5 1452.5,1101.7 1452.8,1102.6 1453.1,1098.1 1453.4,1099.5 1453.6,1084.2 1453.9,1096 1454.2,1098.3 1454.5,1090.1 1454.8,1094.5 1455.1,1115 1455.4,1101 1455.6,1097.1 1455.9,1106.7 1456.2,1100.8 1456.5,1106.3 1456.8,1100.8 1457.1,1115.5 1457.3,1118.3 1457.6,1108.2 1457.9,1103.1 1458.2,1096 1458.5,1107.2 1458.8,1110.9 1459,1099.6 1459.3,1105.9 1459.6,1094.4 1459.9,1107.4 1460.2,1121.6 1460.5,1113.2 1460.7,1114.6 1461,1118.2 1461.3,1114 1461.6,1113.6 1461.9,1111 1462.2,1113.2 1462.4,1106.7 1462.7,1107 1463,1109 1463.3,1109.1 1463.6,1125 1463.9,1123.6 1464.1,1117.9 1464.4,1109.9 1464.7,1123 1465,1115.4 1465.3,1110.9 1465.6,1099.4 1465.8,1111.4 1466.1,1117.5 1466.4,1106.2 1466.7,1112.7 1467,1116.7 1467.3,1107 1467.6,1122 1467.8,1114.1 1468.1,1115.2 1468.4,1109.6 1468.7,1125.1 1469,1126.5 1469.3,1119.9 1469.5,1119.4 1469.8,1117.4 1470.1,1120.8 1470.4,1115.1 1470.7,1113.6 1471,1117.3 1471.2,1127.3 1471.5,1111.2 1471.8,1131.7 1472.1,1121.7 1472.4,1114 1472.7,1125.4 1472.9,1111.8 1473.2,1107.8 1473.5,1110.4 1473.8,1118.8 1474.1,1115.1 1474.4,1126.5 1474.6,1119.9 1474.9,1119.8 1475.2,1122.8 1475.5,1122.7 1475.8,1125.7 1476.1,1140.1 1476.3,1121.7 1476.6,1122.7 1476.9,1110.6 1477.2,1120.3 1477.5,1125.4 1477.8,1119.7 1478.1,1121.9 1478.3,1127 1478.6,1130.1 1478.9,1139.2 1479.2,1126.8 1479.5,1116.1 1479.8,1143.5 1480,1136.2 1480.3,1123.3 1480.6,1127.8 1480.9,1126.4 1481.2,1145.1 1481.5,1134.8 1481.7,1126.6 1482,1126.3 1482.3,1128.8 1482.6,1138.4 1482.9,1127.6 1483.2,1141.6 1483.4,1139.8 1483.7,1142 1484,1122.1 1484.3,1136.5 1484.6,1133.1 1484.9,1152.3 1485.1,1125.8 1485.4,1130.8 1485.7,1148.4 1486,1148.3 1486.3,1122.8 1486.6,1143.3 1486.8,1122.1 1487.1,1140 1487.4,1157.8 1487.7,1128.3 1488,1133.2 1488.3,1132.1 1488.5,1141.9 1488.8,1139.8 1489.1,1130.9 1489.4,1145.4 1489.7,1155.7 1490,1132.2 1490.3,1144.7 1490.5,1130 1490.8,1144.1 1491.1,1144 1491.4,1142.9 1491.7,1161.6 1492,1132.2 1492.2,1146.9 1492.5,1143.6 1492.8,1130.9 1493.1,1141.7 1493.4,1135.8 1493.7,1140.5 1493.9,1137.4 1494.2,1141.6 1494.5,1135 1494.8,1146.2 1495.1,1141 1495.4,1151 1495.6,1135.9 1495.9,1164.9 1496.2,1144.4 1496.5,1143.3 1496.8,1143.7 1497.1,1146.9 1497.3,1136.5 1497.6,1131 1497.9,1152.8 1498.2,1164.9 1498.5,1157.7 1498.8,1155.6 1499,1150.1 1499.3,1149.7 1499.6,1140.8 1499.9,1153.5 1500.2,1150.5 1500.5,1149.5 1500.7,1158.3 1501,1153.8 1501.3,1130 1501.6,1152.5 1501.9,1160.3 1502.2,1172 1502.5,1144.1 1502.7,1155.6 1503,1158.7 1503.3,1134.2 1503.6,1142.2 1503.9,1169.5 1504.2,1157.4 1504.4,1146.5 1504.7,1148.1 1505,1165.1 1505.3,1141.2 1505.6,1140.9 1505.9,1166 1506.1,1172.6 1506.4,1169.3 1506.7,1151.5 1507,1148.5 1507.3,1156.2 1507.6,1163.3 1507.8,1159.2 1508.1,1153.9 1508.4,1169.9 1508.7,1174.8 1509,1160.3 1509.3,1149.6 1509.5,1158.5 1509.8,1158.8 1510.1,1166.8 1510.4,1153.3 1510.7,1177.2 1511,1162.3 1511.2,1167.3 1511.5,1163.7 1511.8,1171 1512.1,1156.5 1512.4,1163.9 1512.7,1168.9 1512.9,1159.5 1513.2,1164.6 1513.5,1169.2 1513.8,1170.1 1514.1,1158.4 1514.4,1174 1514.7,1167.7 1514.9,1168.4 1515.2,1163.6 1515.5,1168.4 1515.8,1149 1516.1,1183.8 1516.4,1162.4 1516.6,1168.2 1516.9,1158.6 1517.2,1183.9 1517.5,1158.3 1517.8,1182.1 1518.1,1163.3 1518.3,1165.2 1518.6,1169.7 1518.9,1177.1 1519.2,1178.2 1519.5,1170 1519.8,1178.2 1520,1190.4 1520.3,1189.3 1520.6,1165 1520.9,1165.1 1521.2,1168.1 1521.5,1172.5 1521.7,1169.8 1522,1169.1 1522.3,1171.6 1522.6,1181.6 1522.9,1181.3 1523.2,1185.7 1523.4,1173.6 1523.7,1184.7 1524,1177.1 1524.3,1164.3 1524.6,1179.7 1524.9,1167.8 1525.1,1163.1 1525.4,1195.1 1525.7,1191.3 1526,1173.3 1526.3,1184.7 1526.6,1173.4 1526.9,1172.1 1527.1,1183.7 1527.4,1171.6 1527.7,1164 1528,1171 1528.3,1188.4 1528.6,1181.6 1528.8,1185.7 1529.1,1166.9 1529.4,1182.9 1529.7,1188.1 1530,1181.3 1530.3,1177.2 1530.5,1185.9 1530.8,1181.6 1531.1,1182.9 1531.4,1176.3 1531.7,1174.5 1532,1181.2 1532.2,1188.5 1532.5,1180.5 1532.8,1193.3 1533.1,1175 1533.4,1181.9 1533.7,1183.1 1533.9,1211.1 1534.2,1165.1 1534.5,1173.1 1534.8,1175 1535.1,1185.7 1535.4,1180.9 1535.6,1162.5 1535.9,1194.4 1536.2,1181 1536.5,1182.6 1536.8,1187.2 1537.1,1185.5 1537.3,1198.9 1537.6,1183.3 1537.9,1202.9 1538.2,1173.3 1538.5,1182.7 1538.8,1199 1539.1,1212.7 1539.3,1190 1539.6,1186.5 1539.9,1201.6 1540.2,1176.4 1540.5,1189.5 1540.8,1197 1541,1207.1 1541.3,1194.2 1541.6,1195.2 1541.9,1187.3 1542.2,1183.9 1542.5,1193.8 1542.7,1190 1543,1181.4 1543.3,1189.1 1543.6,1197.9 1543.9,1189.6 1544.2,1201.2 1544.4,1191.8 1544.7,1196 1545,1208.1 1545.3,1191.2 1545.6,1196.6 1545.9,1190.6 1546.1,1211.9 1546.4,1187.7 1546.7,1187.6 1547,1202.5 1547.3,1200.2 1547.6,1199.1 1547.8,1200.1 1548.1,1192 1548.4,1207.8 1548.7,1212.9 1549,1203.6 1549.3,1183.5 1549.5,1205.8 1549.8,1212.6 1550.1,1212 1550.4,1201.1 1550.7,1191.6 1551,1211.1 1551.3,1201.9 1551.5,1201.8 1551.8,1199.7 1552.1,1203.2 1552.4,1194.6 1552.7,1198.4 1553,1212 1553.2,1183 1553.5,1220.9 1553.8,1220.7 1554.1,1196.5 1554.4,1205.2 1554.7,1210 1554.9,1205.6 1555.2,1201.1 1555.5,1212.7 1555.8,1215.3 1556.1,1220.2 1556.4,1218.5 1556.6,1218.1 1556.9,1198.4 1557.2,1207.3 1557.5,1204.9 1557.8,1216.8 1558.1,1200.5 1558.3,1228.8 1558.6,1206.8 1558.9,1204.9 1559.2,1218.5 1559.5,1223.8 1559.8,1207.5 1560,1220.9 1560.3,1223.3 1560.6,1214.1 1560.9,1226.5 1561.2,1215.9 1561.5,1194.8 1561.7,1219.8 1562,1206 1562.3,1227.3 1562.6,1215.1 1562.9,1219.2 1563.2,1218.3 1563.5,1209 1563.7,1195.9 1564,1218.8 1564.3,1204.4 1564.6,1214.3 1564.9,1210.7 1565.2,1223.8 1565.4,1226.8 1565.7,1221.4 1566,1228.2 1566.3,1220 1566.6,1232.1 1566.9,1220.4 1567.1,1218.9 1567.4,1202.7 1567.7,1203.8 1568,1216.2 1568.3,1227.5 1568.6,1215.8 1568.8,1213.9 1569.1,1225 1569.4,1232.8 1569.7,1244.6 1570,1224.2 1570.3,1204.4 1570.5,1226.6 1570.8,1220.5 1571.1,1221 1571.4,1220 1571.7,1217.2 1572,1250 1572.2,1227.8 1572.5,1222.3 1572.8,1227.7 1573.1,1214.1 1573.4,1231.5 1573.7,1217.7 1573.9,1209.5 1574.2,1231 1574.5,1228.1 1574.8,1232 1575.1,1220.7 1575.4,1255.6 1575.7,1247 1575.9,1233.2 1576.2,1220.7 1576.5,1223.9 1576.8,1240.2 1577.1,1214 1577.4,1230 1577.6,1238.8 1577.9,1226 1578.2,1218.2 1578.5,1233.2 1578.8,1251.1 1579.1,1239.4 1579.3,1232.3 1579.6,1223.3 1579.9,1245.8 1580.2,1231.2 1580.5,1248.7 1580.8,1233.9 1581,1251.2 1581.3,1240.8 1581.6,1254.3 1581.9,1247.7 1582.2,1255.9 1582.5,1261.3 1582.7,1223.5 1583,1224.2 1583.3,1232 1583.6,1241.9 1583.9,1222 1584.2,1241.6 1584.4,1233.7 1584.7,1226.3 1585,1236.6 1585.3,1223.3 1585.6,1241.4 1585.9,1241.8 1586.1,1238.8 1586.4,1254.8 1586.7,1254 1587,1232.4 1587.3,1263.3 1587.6,1229.1 1587.9,1238.9 1588.1,1229.1 1588.4,1233.9 1588.7,1236 1589,1224.1 1589.3,1244.4 1589.6,1245 1589.8,1231.3 1590.1,1252.4 1590.4,1231.8 1590.7,1237 1591,1251.3 1591.3,1261.6 1591.5,1272.3 1591.8,1225.5 1592.1,1265.5 1592.4,1262 1592.7,1237.1 1593,1241.8 1593.2,1245.2 1593.5,1247 1593.8,1253.5 1594.1,1260.2 1594.4,1258.2 1594.7,1242.3 1594.9,1237.2 1595.2,1236.3 1595.5,1250.7 1595.8,1280.9 1596.1,1244.8 1596.4,1253 1596.6,1288.7 1596.9,1235.9 1597.2,1249.4 1597.5,1253 1597.8,1250.2 1598.1,1251.4 1598.3,1250.3 1598.6,1252.1 1598.9,1253.5 1599.2,1247.2 1599.5,1250.1 1599.8,1227.8 1600.1,1253.1 1600.3,1261.6 1600.6,1263 1600.9,1251 1601.2,1254.4 1601.5,1253.2 1601.8,1259 1602,1259 1602.3,1248 1602.6,1241.4 1602.9,1253.4 1603.2,1259.3 1603.5,1273.5 1603.7,1273.8 1604,1258.3 1604.3,1262.3 1604.6,1260.8 1604.9,1274.5 1605.2,1261.8 1605.4,1287.5 1605.7,1276.8 1606,1271.6 1606.3,1254.3 1606.6,1269.8 1606.9,1274.7 1607.1,1259.2 1607.4,1264.2 1607.7,1252 1608,1259.5 1608.3,1261.2 1608.6,1266.7 1608.8,1256.4 1609.1,1274.6 1609.4,1286.4 1609.7,1254.5 1610,1272.2 1610.3,1265.6 1610.5,1258.8 1610.8,1254.4 1611.1,1311 1611.4,1281.8 1611.7,1252.8 1612,1292.2 1612.3,1262.4 1612.5,1273.5 1612.8,1281.1 1613.1,1271.1 1613.4,1293.7 1613.7,1264.8 1614,1255.7 1614.2,1290.6 1614.5,1279.9 1614.8,1256.3 1615.1,1266.7 1615.4,1276.1 1615.7,1254.4 1615.9,1296.5 1616.2,1276.4 1616.5,1271.8 1616.8,1277.6 1617.1,1263.4 1617.4,1298.1 1617.6,1273.6 1617.9,1285.4 1618.2,1259.7 1618.5,1261.8 1618.8,1285.7 1619.1,1291.2 1619.3,1276.6 1619.6,1288.3 1619.9,1284.4 1620.2,1271.3 1620.5,1283.5 1620.8,1255.1 1621,1276.9 1621.3,1285.3 1621.6,1294.4 1621.9,1285.9 1622.2,1264.8 1622.5,1272.1 1622.7,1261.5 1623,1263.2 1623.3,1272.9 1623.6,1290.3 1623.9,1282.9 1624.2,1280.2 1624.5,1306 1624.7,1277.3 1625,1297 1625.3,1283.5 1625.6,1289.8 1625.9,1275.1 1626.2,1251.2 1626.4,1300.9 1626.7,1284 1627,1258.5 1627.3,1297.8 1627.6,1287.8 1627.9,1286.4 1628.1,1281 1628.4,1310 1628.7,1281.6 1629,1277.9 1629.3,1255 1629.6,1287.7 1629.8,1295.2 1630.1,1285.4 1630.4,1329.9 1630.7,1283.2 1631,1267.9 1631.3,1288.9 1631.5,1289.2 1631.8,1292.4 1632.1,1287.3 1632.4,1308.2 1632.7,1269.7 1633,1296.7 1633.2,1297 1633.5,1269.1 1633.8,1290.6 1634.1,1297.3 1634.4,1270 1634.7,1289.2 1634.9,1279.3 1635.2,1300.6 1635.5,1320.3 1635.8,1290.4 1636.1,1274.2 1636.4,1300.2 1636.7,1288.6 1636.9,1284.1 1637.2,1290.6 1637.5,1293.5 1637.8,1284.2 1638.1,1292.1 1638.4,1303.3 1638.6,1281.3 1638.9,1284.9 1639.2,1290.9 1639.5,1286.5 1639.8,1341.4 1640.1,1293.3 1640.3,1296.8 1640.6,1330 1640.9,1270.9 1641.2,1293.3 1641.5,1305.1 1641.8,1304.4 1642,1295.3 1642.3,1299.7 1642.6,1325.4 1642.9,1306 1643.2,1293.9 1643.5,1291.9 1643.7,1288.8 1644,1317.6 1644.3,1311 1644.6,1296.4 1644.9,1311.2 1645.2,1299.2 1645.4,1315.4 1645.7,1294.5 1646,1302.2 1646.3,1295 1646.6,1303.1 1646.9,1316 1647.2,1323.5 1647.4,1303.8 1647.7,1314.1 1648,1329 1648.3,1313.6 1648.6,1294.3 1648.9,1288.6 1649.1,1295.2 1649.4,1287.5 1649.7,1312.2 1650,1309.1 1650.3,1322.2 1650.6,1319.5 1650.8,1285.5 1651.1,1301.6 1651.4,1298.9 1651.7,1274.2 1652,1282.6 1652.3,1322.8 1652.5,1295.4 1652.8,1321.6 1653.1,1295.8 1653.4,1342.1 1653.7,1325.5 1654,1325.5 1654.2,1283.7 1654.5,1341.5 1654.8,1295.8 1655.1,1296.6 1655.4,1310.5 1655.7,1300.4 1655.9,1278.3 1656.2,1309.4 1656.5,1317.8 1656.8,1294.5 1657.1,1302.5 1657.4,1333.3 1657.6,1311.8 1657.9,1310.6 1658.2,1334.2 1658.5,1331.1 1658.8,1326.5 1659.1,1336.2 1659.4,1308.7 1659.6,1312.2 1659.9,1357 1660.2,1324.2 1660.5,1315.3 1660.8,1341 1661.1,1322.8 1661.3,1314.2 1661.6,1348.8 1661.9,1324.3 1662.2,1363.3 1662.5,1308.7 1662.8,1332.5 1663,1345.9 1663.3,1354.1 1663.6,1350.6 1663.9,1302.9 1664.2,1336.3 1664.5,1332 1664.7,1329.4 1665,1349.8 1665.3,1311.9 1665.6,1371.7 1665.9,1310.6 1666.2,1337.4 1666.4,1324.3 1666.7,1320.6 1667,1312.7 1667.3,1347.7 1667.6,1316.7 1667.9,1327.4 1668.1,1329.5 1668.4,1331.9 1668.7,1310.4 1669,1320.4 1669.3,1308.8 1669.6,1314.2 1669.8,1365.9 1670.1,1330.8 1670.4,1313.7 1670.7,1345.5 1671,1361.1 1671.3,1374.8 1671.6,1301.2 1671.8,1347.2 1672.1,1328.5 1672.4,1350.8 1672.7,1325 1673,1307.1 1673.3,1359.2 1673.5,1333.9 1673.8,1346.6 1674.1,1369.2 1674.4,1349.6 1674.7,1333.5 1675,1314.9 1675.2,1314.6 1675.5,1335.1 1675.8,1366.4 1676.1,1324.7 1676.4,1335.8 1676.7,1336.3 1676.9,1357.3 1677.2,1339.3 1677.5,1307 1677.8,1313.9 1678.1,1317.3 1678.4,1326.8 1678.6,1345 1678.9,1338.3 1679.2,1336.1 1679.5,1332.4 1679.8,1345.3 1680.1,1355.3 1680.3,1321.8 1680.6,1346.7 1680.9,1326.6 1681.2,1343.7 1681.5,1329.7 1681.8,1332.6 1682,1329.3 1682.3,1330.4 1682.6,1359.7 1682.9,1368.3 1683.2,1343.5 1683.5,1316.9 1683.8,1358.7 1684,1360.9 1684.3,1309.1 1684.6,1374.3 1684.9,1354.9 1685.2,1352.2 1685.5,1357.6 1685.7,1357.2 1686,1328 1686.3,1342.4 1686.6,1343.2 1686.9,1379.5 1687.2,1333.6 1687.4,1344.3 1687.7,1344.9 1688,1333.9 1688.3,1342.7 1688.6,1348.9 1688.9,1341.5 1689.1,1362.1 1689.4,1366.4 1689.7,1376 1690,1333.7 1690.3,1362.3 1690.6,1347.3 1690.8,1332.2 1691.1,1322 1691.4,1357.9 1691.7,1348.7 1692,1350.2 1692.3,1377.9 1692.5,1361.4 1692.8,1310 1693.1,1354.2 1693.4,1324.7 1693.7,1340.5 1694,1325.4 1694.2,1332.2 1694.5,1350.5 1694.8,1379.3 1695.1,1331.4 1695.4,1343.1 1695.7,1347.2 1696,1341.1 1696.2,1371.6 1696.5,1354.3 1696.8,1357 1697.1,1387.5 1697.4,1381.5 1697.7,1360.1 1697.9,1406.4 1698.2,1345.6 1698.5,1345.3 1698.8,1360.5 1699.1,1354.3 1699.4,1398.2 1699.6,1356.9 1699.9,1347.1 1700.2,1351.6 1700.5,1344.9 1700.8,1362.4 1701.1,1328.8 1701.3,1354 1701.6,1348.1 1701.9,1343.7 1702.2,1377.8 1702.5,1385.8 1702.8,1349.5 1703,1389.4 1703.3,1375.7 1703.6,1346.9 1703.9,1386.8 1704.2,1384.7 1704.5,1390.8 1704.7,1386.7 1705,1334.4 1705.3,1356.1 1705.6,1349.3 1705.9,1409.4 1706.2,1422.5 1706.4,1391 1706.7,1349 1707,1347.2 1707.3,1412.3 1707.6,1406.7 1707.9,1356.9 1708.2,1364.5 1708.4,1361.4 1708.7,1357.7 1709,1391 1709.3,1368.1 1709.6,1376.3 1709.9,1349.2 1710.1,1377.5 1710.4,1414.2 1710.7,1349.5 1711,1341.2 1711.3,1355 1711.6,1379.4 1711.8,1393 1712.1,1355.2 1712.4,1384.5 1712.7,1364.3 1713,1360 1713.3,1377.4 1713.5,1421.2 1713.8,1365.9 1714.1,1396.9 1714.4,1410.7 1714.7,1377.2 1715,1373.9 1715.2,1378.7 1715.5,1365.3 1715.8,1421.7 1716.1,1366.8 1716.4,1349.2 1716.7,1380 1716.9,1389 1717.2,1382.5 1717.5,1356.9 1717.8,1383.4 1718.1,1396.6 1718.4,1419 1718.6,1354.9 1718.9,1354.8 1719.2,1380.8 1719.5,1345.1 1719.8,1389.7 1720.1,1368 1720.4,1411.3 1720.6,1404.3 1720.9,1382.8 1721.2,1373.7 1721.5,1371.4 1721.8,1402.9 1722.1,1394.9 1722.3,1386.4 1722.6,1390.2 1722.9,1390 1723.2,1369.4 1723.5,1363.5 1723.8,1429.4 1724,1361.4 1724.3,1382.5 1724.6,1379.9 1724.9,1380 1725.2,1369.1 1725.5,1373.7 1725.7,1423 1726,1371.1 1726.3,1413.3 1726.6,1380.7 1726.9,1384.3 1727.2,1424.9 1727.4,1388.9 1727.7,1394.8 1728,1404.3 1728.3,1353.6 1728.6,1387.1 1728.9,1398.5 1729.1,1359 1729.4,1391.8 1729.7,1394.3 1730,1441.3 1730.3,1380.2 1730.6,1373.1 1730.8,1357.9 1731.1,1415.8 1731.4,1373.1 1731.7,1367.1 1732,1379.5 1732.3,1394.1 1732.6,1434.2 1732.8,1390.8 1733.1,1407.2 1733.4,1437.9 1733.7,1383.5 1734,1398.5 1734.3,1401.3 1734.5,1360.3 1734.8,1408.6 1735.1,1450.1 1735.4,1455 1735.7,1387.1 1736,1402.8 1736.2,1415.5 1736.5,1453.5 1736.8,1417.9 1737.1,1425.7 1737.4,1402.1 1737.7,1419.7 1737.9,1420.5 1738.2,1401.7 1738.5,1419.1 1738.8,1394.6 1739.1,1499.9 1739.4,1431.7 1739.6,1378.4 1739.9,1398.3 1740.2,1428.7 1740.5,1407.4 1740.8,1416.7 1741.1,1412.2 1741.3,1376.3 1741.6,1413.9 1741.9,1400.4 1742.2,1425.1 1742.5,1422.7 1742.8,1444.6 1743,1421.2 1743.3,1415.7 1743.6,1413.6 1743.9,1405.8 1744.2,1405.2 1744.5,1393.9 1744.8,1412.6 1745,1382 1745.3,1395.7 1745.6,1381.2 1745.9,1410.1 1746.2,1384.8 1746.5,1407.5 1746.7,1452.4 1747,1410.6 1747.3,1414.4 1747.6,1447.6 1747.9,1434.9 1748.2,1425.5 1748.4,1368.5 1748.7,1405.1 1749,1376.8 1749.3,1393 1749.6,1390.5 1749.9,1395.9 1750.1,1451.4 1750.4,1388 1750.7,1438.3 1751,1404.6 1751.3,1416.6 1751.6,1382.4 1751.8,1390.3 1752.1,1379.2 1752.4,1404.8 1752.7,1415.5 1753,1399.6 1753.3,1370.8 1753.5,1405.2 1753.8,1415.8 1754.1,1448.1 1754.4,1435.3 1754.7,1419.5 1755,1403.4 1755.2,1404.8 1755.5,1420.7 1755.8,1415.8 1756.1,1388.1 1756.4,1382.8 1756.7,1394.8 1757,1388.9 1757.2,1394.4 1757.5,1384.2 1757.8,1453 1758.1,1433.2 1758.4,1416 1758.7,1413 1758.9,1394.2 1759.2,1472.6 1759.5,1419.1 1759.8,1416.8 1760.1,1439.5 1760.4,1426.5 1760.6,1402.3 1760.9,1413.5 1761.2,1427.1 1761.5,1419.7 1761.8,1427.6 1762.1,1404.9 1762.3,1427.6 1762.6,1404.5 1762.9,1439.4 1763.2,1426.9 1763.5,1455.2 1763.8,1431.5 1764,1408.7 1764.3,1453.2 1764.6,1436 1764.9,1425.3 1765.2,1436.6 1765.5,1410 1765.7,1461.3 1766,1410.1 1766.3,1401.3 1766.6,1395.2 1766.9,1431.3 1767.2,1450.4 1767.4,1473.8 1767.7,1415.4 1768,1412.7 1768.3,1424.5 1768.6,1423.5 1768.9,1416.7 1769.2,1440.9 1769.4,1472.7 1769.7,1471.7 1770,1453.1 1770.3,1457.1 1770.6,1478 1770.9,1444.5 1771.1,1461.5 1771.4,1419.5 1771.7,1436.4 1772,1417.1 1772.3,1471.5 1772.6,1465 1772.8,1481 1773.1,1429.4 1773.4,1376.6 1773.7,1431.5 1774,1447.9 1774.3,1432.2 1774.5,1438.3 1774.8,1416.3 1775.1,1438.3 1775.4,1461.8 1775.7,1495.4 1776,1430.6 1776.2,1416.9 1776.5,1436 1776.8,1463.6 1777.1,1451.3 1777.4,1448.7 1777.7,1427.3 1777.9,1442.6 1778.2,1415.3 1778.5,1446.7 1778.8,1458.9 1779.1,1403 1779.4,1469.8 1779.6,1463.9 1779.9,1399.5 1780.2,1436.7 1780.5,1405.4 1780.8,1499.9 1781.1,1416.3 1781.4,1444.7 1781.6,1442.4 1781.9,1433.5 1782.2,1499.9 1782.5,1470.4 1782.8,1435.4 1783.1,1382.9 1783.3,1467 1783.6,1397.8 1783.9,1432.2 1784.2,1423.9 1784.5,1474.6 1784.8,1433.6 1785,1472.1 1785.3,1483.5 1785.6,1420.1 1785.9,1468.5 1786.2,1463.3 1786.5,1433.4 1786.7,1472.7 1787,1487.3 1787.3,1445.2 1787.6,1444.4 1787.9,1417.3 1788.2,1484.1 1788.4,1434.9 1788.7,1435.2 1789,1464.5 1789.3,1457.4 1789.6,1452.8 1789.9,1483.2 1790.1,1493.2 1790.4,1437.1 1790.7,1485.4 1791,1482.9 1791.3,1436.1 1791.6,1470.4 1791.8,1466.8 1792.1,1498.7 1792.4,1493.3 1792.7,1499 1793,1499.1 1793.3,1428.4 1793.6,1486.1 1793.8,1499.9 1794.1,1491.6 1794.4,1441.8 1794.7,1494.5 1795,1461.3 1795.3,1488.1 1795.5,1499.9 1795.8,1476.7 1796.1,1492.1 1796.4,1457.3 1796.7,1444.5 1797,1464.4 1797.2,1406 1797.5,1495.1 1797.8,1431.6 1798.1,1453 1798.4,1430.9 1798.7,1450.8 1798.9,1499.9 1799.2,1473.5 1799.5,1440 1799.8,1465.2 1800.1,1499.9 1800.4,1482.2 1800.6,1458.1 1800.9,1437.2 1801.2,1484.9 1801.5,1465.1 1801.8,1496.4 1802.1,1499.9 1802.3,1483.9 1802.6,1436.4 1802.9,1451 1803.2,1477.7 1803.5,1470.9 1803.8,1456.5 1804.1,1474.4 1804.3,1483.9 1804.6,1480.2 1804.9,1455.2 1805.2,1483.8 1805.5,1452.4 1805.8,1499.9 1806,1496.5 1806.3,1486.2 1806.6,1458.4 1806.9,1499.9 1807.2,1490.8 1807.5,1466.4 1807.7,1478.4 1808,1496.2 1808.3,1485.8 1808.6,1499.9 1808.9,1455.6 1809.2,1465.1 1809.4,1454.8 1809.7,1425 1810,1445.9 1810.3,1464.2 1810.6,1480.4 1810.9,1425.2 1811.1,1471 1811.4,1484 1811.7,1445.4 1812,1466.1 1812.3,1485 1812.6,1465.9 1812.8,1431.6 1813.1,1473.7 1813.4,1467.4 1813.7,1499.9 1814,1491.5 1814.3,1454.9 1814.5,1480.4 1814.8,1474.7 1815.1,1450.5 1815.4,1487.8 1815.7,1440.9 1816,1498 1816.3,1499.9 1816.5,1499.9 1816.8,1499.9 1817.1,1465.3 1817.4,1479.7 1817.7,1446.7 1818,1499.9 1818.2,1461.6 1818.5,1448.4 1818.8,1488.5 1819.1,1487.3 1819.4,1499.9 1819.7,1437 1819.9,1487.3 1820.2,1465.6 1820.5,1499.9 1820.8,1475.1 1821.1,1499.9 1821.4,1465.4 1821.6,1482.7 1821.9,1497 1822.2,1474.3 1822.5,1499.9 1822.8,1482.3 1823.1,1499.9 1823.3,1451.1 1823.6,1467.3 1823.9,1493.8 1824.2,1497.5 1824.5,1421.9 1824.8,1499.9 1825,1443.2 1825.3,1465.4 1825.6,1469.2 1825.9,1499.9 1826.2,1468.7 1826.5,1499.9 1826.7,1499.9 1827,1475.6 1827.3,1499.9 1827.6,1476.8 1827.9,1499.9 1828.2,1477 1828.5,1481.4 1828.7,1499.9 1829,1499.9 1829.3,1499.9 1829.6,1499.9 1829.9,1499.9 1830.2,1449.6 1830.4,1484.5 1830.7,1499.9 1831,1499.9 1831.3,1499.9 1831.6,1489.8" stroke="#444444" stroke-width="3.2"/>
<polyline points="1067.5,1291.5 1067.5,654.7 1069.4,657.1 1071.3,659.6 1073.2,662 1075.1,664.5 1077,666.9 1078.8,669.3 1080.7,671.7 1082.6,674.2 1084.5,676.6 1086.4,679 1088.3,681.4 1090.2,683.8 1092.1,686.2 1094,688.6 1095.9,691 1097.8,693.4 1099.7,695.8 1101.5,698.2 1103.4,700.5 1105.3,702.9 1114.8,714.8 1124.2,726.5 1133.7,738.2 1143.2,749.8 1152.6,761.3 1162.1,772.7 1171.5,784.1 1181,795.4 1190.4,806.6 1199.9,817.8 1209.4,828.9 1218.8,839.9 1228.3,850.9 1237.7,861.8 1247.2,872.7 1256.7,883.5 1266.1,894.3 1275.6,905 1285,915.7 1294.5,926.3 1303.9,936.9 1313.4,947.5 1322.9,958 1332.3,968.5 1341.8,978.9 1351.2,989.3 1360.7,999.7 1370.1,1010.1 1379.6,1020.4 1389.1,1030.7 1398.5,1040.9 1408,1051.2 1417.4,1061.4 1426.9,1071.6 1436.3,1081.8 1445.8,1092 1455.3,1102.1 1464.7,1112.2 1474.2,1122.3 1483.6,1132.4 1493.1,1142.5 1502.5,1152.6 1512,1162.6 1521.5,1172.7 1530.9,1182.7 1540.4,1192.7 1549.8,1202.7 1559.3,1212.7 1568.7,1222.7 1578.2,1232.6 1587.7,1242.6 1597.1,1252.5 1606.6,1262.5 1616,1272.4 1625.5,1282.4 1634.9,1292.3 1644.4,1302.2 1653.9,1312.1 1663.3,1322 1672.8,1331.9 1682.2,1341.8 1691.7,1351.7 1701.2,1361.6 1710.6,1371.5 1720.1,1381.3 1729.5,1391.2 1739,1401.1 1748.4,1410.9 1757.9,1420.8 1767.4,1430.7 1776.8,1440.5 1786.3,1450.4 1795.7,1460.2 1805.2,1470.1 1814.6,1479.9 1824.1,1489.8" stroke="#000" stroke-width="2"/>
<polyline points="1067.5,655.6 1067.8,654.9 1068.1,661.1 1068.4,658.1 1068.6,656.8 1068.9,656.7 1069.2,657.9 1069.5,657.1 1069.8,659 1070.1,659 1070.3,659.8 1070.6,661.8 1070.9,661.8 1071.2,660.4 1071.5,662 1071.8,659.8 1072,660.1 1072.3,659.7 1072.6,662.5 1072.9,660.8 1073.2,664.3 1073.5,664.5 1073.7,663.5 1074,663.6 1074.3,666.5 1074.6,667 1074.9,664.3 1075.2,666.4 1075.4,663.8 1075.7,665.2 1076,665.6 1076.3,666.1 1076.6,665.4 1076.9,667.2 1077.1,665.7 1077.4,668.3 1077.7,668.2 1078,669.1 1078.3,667.6 1078.6,668.7 1078.8,670.3 1079.1,666.5 1079.4,670.2 1079.7,670.1 1080,669.7 1080.3,668.1 1080.6,671 1080.8,670.1 1081.1,671.3 1081.4,673.8 1081.7,670.9 1082,670.9 1082.3,673 1082.5,672.9 1082.8,675.4 1083.1,675.7 1083.4,674.4 1083.7,673.2 1084,675.1 1084.2,674.3 1084.5,673.6 1084.8,675.2 1085.1,674.8 1085.4,673.8 1085.7,678 1085.9,675.4 1086.2,679.6 1086.5,676.5 1086.8,677.1 1087.1,678.5 1087.4,679.6 1087.6,678.4 1087.9,679.2 1088.2,678.7 1088.5,680.5 1088.8,678.7 1089.1,681.3 1089.3,680.5 1089.6,680.9 1089.9,678.8 1090.2,683.2 1090.5,681.9 1090.8,679.8 1091,682.8 1091.3,684 1091.6,682 1091.9,683.2 1092.2,681.8 1092.5,684.7 1092.8,683.3 1093,682.9 1093.3,682.7 1093.6,686.2 1093.9,682.7 1094.2,686.5 1094.5,687.7 1094.7,687.1 1095,685.7 1095.3,686.8 1095.6,685.9 1095.9,686.1 1096.2,686.7 1096.4,687.8 1096.7,685 1097,691.5 1097.3,691 1097.6,689.4 1097.9,690.9 1098.1,693.2 1098.4,690.7 1098.7,691 1099,693.9 1099.3,689.1 1099.6,688.7 1099.8,689.1 1100.1,692.1 1100.4,691.3 1100.7,693.6 1101,691.8 1101.3,693.5 1101.5,692.1 1101.8,693.6 1102.1,691.7 1102.4,692.3 1102.7,692 1103,696.7 1103.2,697.4 1103.5,694.2 1103.8,696 1104.1,694.8 1104.4,695.2 1104.7,695.7 1105,694.8 1105.2,695.7 1105.5,696.1 1105.8,698.6 1106.1,694.7 1106.4,697.5 1106.7,696.3 1106.9,697.8 1107.2,696.6 1107.5,698.7 1107.8,698.8 1108.1,699.3 1108.4,700.9 1108.6,701 1108.9,700.6 1109.2,700.8 1109.5,702.5 1109.8,697.5 1110.1,703.1 1110.3,702.3 1110.6,698.2 1110.9,703.5 1111.2,701.5 1111.5,701.9 1111.8,703.6 1112,705.9 1112.3,706.4 1112.6,704.2 1112.9,703.7 1113.2,708.3 1113.5,704.8 1113.7,706.4 1114,704.1 1114.3,705.6 1114.6,707.5 1114.9,707.2 1115.2,706.7 1115.4,704.9 1115.7,702.4 1116,707 1116.3,707.7 1116.6,707 1116.9,708.4 1117.2,707.6 1117.4,708.3 1117.7,709.2 1118,710.8 1118.3,709.5 1118.6,708.6 1118.9,710.2 1119.1,708.2 1119.4,709.4 1119.7,711.4 1120,708.7 1120.3,713.7 1120.6,710.2 1120.8,709.3 1121.1,713.1 1121.4,713.1 1121.7,711.7 1122,711.1 1122.3,713.1 1122.5,713.7 1122.8,712.8 1123.1,714.2 1123.4,717 1123.7,715.5 1124,715.5 1124.2,718.4 1124.5,715.4 1124.8,717.6 1125.1,715.4 1125.4,719.5 1125.7,718.8 1125.9,720 1126.2,715.6 1126.5,716 1126.8,715.9 1127.1,716.2 1127.4,717.4 1127.6,717.7 1127.9,722.5 1128.2,719.3 1128.5,721 1128.8,720.9 1129.1,722.8 1129.4,718.7 1129.6,721 1129.9,724.1 1130.2,721 1130.5,722.3 1130.8,724.3 1131.1,723.3 1131.3,724.4 1131.6,727.4 1131.9,726.3 1132.2,723.1 1132.5,723.7 1132.8,724.1 1133,726.9 1133.3,726.2 1133.6,725.4 1133.9,724.5 1134.2,727.5 1134.5,728.2 1134.7,724.6 1135,726.8 1135.3,727.9 1135.6,728.8 1135.9,728.9 1136.2,725.3 1136.4,726.6 1136.7,729.3 1137,731.1 1137.3,726.2 1137.6,726.7 1137.9,727.6 1138.1,728.5 1138.4,733.7 1138.7,732.9 1139,729.9 1139.3,731.7 1139.6,731 1139.8,732.7 1140.1,733.2 1140.4,731.3 1140.7,733.3 1141,732.9 1141.3,732.7 1141.6,733 1141.8,731.7 1142.1,731.6 1142.4,736.8 1142.7,735.1 1143,736 1143.3,733.8 1143.5,737.4 1143.8,734.3 1144.1,734.7 1144.4,735.2 1144.7,738.4 1145,737.2 1145.2,739.1 1145.5,736.7 1145.8,736 1146.1,740.8 1146.4,739.8 1146.7,738.8 1146.9,739.8 1147.2,736.4 1147.5,739.7 1147.8,739.2 1148.1,742 1148.4,737.4 1148.6,740.2 1148.9,739.4 1149.2,740.9 1149.5,745.4 1149.8,744.7 1150.1,744.4 1150.3,741.3 1150.6,743.5 1150.9,742 1151.2,742.5 1151.5,742.9 1151.8,741.9 1152.1,743.6 1152.3,747.3 1152.6,745.7 1152.9,741.7 1153.2,747.1 1153.5,742.8 1153.8,742.5 1154,747 1154.3,745.5 1154.6,749.1 1154.9,745.3 1155.2,748.5 1155.5,749.8 1155.7,748.3 1156,748.7 1156.3,749.2 1156.6,748 1156.9,749 1157.2,750.2 1157.4,747.4 1157.7,745 1158,749.7 1158.3,751.4 1158.6,752.3 1158.9,749.5 1159.1,751.4 1159.4,751.2 1159.7,755.4 1160,754 1160.3,754.3 1160.6,750.5 1160.8,753.1 1161.1,757.8 1161.4,752.2 1161.7,751.3 1162,751.2 1162.3,759.6 1162.5,754 1162.8,753 1163.1,753.7 1163.4,755.6 1163.7,759 1164,756.5 1164.3,756.6 1164.5,755.1 1164.8,755.3 1165.1,757.3 1165.4,755.4 1165.7,759.4 1166,759 1166.2,758 1166.5,757.1 1166.8,759.1 1167.1,756.3 1167.4,758.2 1167.7,761.2 1167.9,759.4 1168.2,761.6 1168.5,762.1 1168.8,763.3 1169.1,757.9 1169.4,759.2 1169.6,764.5 1169.9,759.3 1170.2,759.9 1170.5,762.8 1170.8,761.3 1171.1,758.2 1171.3,762.3 1171.6,762.3 1171.9,761.2 1172.2,765.8 1172.5,766.6 1172.8,767.2 1173,764.7 1173.3,763.1 1173.6,766.9 1173.9,768.2 1174.2,765.2 1174.5,766.7 1174.7,765 1175,766.7 1175.3,767.1 1175.6,767.2 1175.9,767.2 1176.2,769.5 1176.5,770.1 1176.7,764.9 1177,762.2 1177.3,766.3 1177.6,772.3 1177.9,769.1 1178.2,767 1178.4,773.1 1178.7,771 1179,771.1 1179.3,772.4 1179.6,772.6 1179.9,769 1180.1,772.3 1180.4,772.1 1180.7,768.4 1181,774 1181.3,776.5 1181.6,771.4 1181.8,768.9 1182.1,772.8 1182.4,772.9 1182.7,776.6 1183,776.1 1183.3,771.4 1183.5,772 1183.8,773.7 1184.1,776.6 1184.4,778 1184.7,778 1185,778.6 1185.2,775.1 1185.5,778.3 1185.8,778 1186.1,775.7 1186.4,776.1 1186.7,777.6 1186.9,777 1187.2,778.3 1187.5,782.8 1187.8,779 1188.1,780.1 1188.4,780.2 1188.7,779.2 1188.9,781.2 1189.2,777.7 1189.5,780.9 1189.8,780.5 1190.1,780.4 1190.4,781.7 1190.6,780.2 1190.9,780.3 1191.2,780.8 1191.5,784 1191.8,784.7 1192.1,784.3 1192.3,783.3 1192.6,787.7 1192.9,785.7 1193.2,786.7 1193.5,785.9 1193.8,786.7 1194,783.2 1194.3,784.3 1194.6,783.4 1194.9,788 1195.2,787.8 1195.5,787 1195.7,783 1196,783.2 1196.3,788.5 1196.6,786 1196.9,783 1197.2,790.2 1197.4,788.6 1197.7,785.6 1198,787.2 1198.3,791.2 1198.6,786 1198.9,787.4 1199.1,788.3 1199.4,792.9 1199.7,790.7 1200,787.7 1200.3,789.8 1200.6,789.4 1200.9,792.1 1201.1,788.4 1201.4,792.5 1201.7,790.2 1202,791.8 1202.3,795 1202.6,789.8 1202.8,796.2 1203.1,795.3 1203.4,793.6 1203.7,797.4 1204,798.6 1204.3,795 1204.5,796 1204.8,795.9 1205.1,794.4 1205.4,790.8 1205.7,797 1206,790.9 1206.2,796.1 1206.5,797.1 1206.8,803.5 1207.1,801 1207.4,797.1 1207.7,796.7 1207.9,800.2 1208.2,797.9 1208.5,796.8 1208.8,800.4 1209.1,803.2 1209.4,801.9 1209.6,800.6 1209.9,799.5 1210.2,798.7 1210.5,802.9 1210.8,800.9 1211.1,801.9 1211.3,801.5 1211.6,799.3 1211.9,799.1 1212.2,803.5 1212.5,804 1212.8,804.5 1213.1,804.4 1213.3,804.4 1213.6,804.1 1213.9,805.2 1214.2,806.8 1214.5,807.3 1214.8,804.6 1215,799.4 1215.3,804 1215.6,804.1 1215.9,805 1216.2,806.5 1216.5,801.7 1216.7,807.4 1217,809.2 1217.3,810.1 1217.6,807 1217.9,810.1 1218.2,810.1 1218.4,810.3 1218.7,811.7 1219,808.4 1219.3,813.1 1219.6,804 1219.9,816.4 1220.1,813.2 1220.4,810 1220.7,809.4 1221,811.5 1221.3,810.2 1221.6,810.8 1221.8,811.1 1222.1,810.3 1222.4,811.4 1222.7,812.5 1223,812.8 1223.3,810.6 1223.5,813.5 1223.8,811.9 1224.1,809.8 1224.4,812.9 1224.7,811.2 1225,815.4 1225.3,813.9 1225.5,813.6 1225.8,814.6 1226.1,814.2 1226.4,812.3 1226.7,816.7 1227,817.8 1227.2,815.7 1227.5,820.3 1227.8,817 1228.1,814.4 1228.4,817.6 1228.7,816.5 1228.9,817.1 1229.2,815.4 1229.5,817.4 1229.8,818.4 1230.1,827.6 1230.4,820.7 1230.6,817.9 1230.9,820.3 1231.2,822.1 1231.5,818.3 1231.8,823 1232.1,821.9 1232.3,819.6 1232.6,822.9 1232.9,821.4 1233.2,822.2 1233.5,825.5 1233.8,824 1234,823.9 1234.3,824.9 1234.6,820.8 1234.9,823.8 1235.2,825.7 1235.5,827.9 1235.7,825.4 1236,821.6 1236.3,825.9 1236.6,823.5 1236.9,824.5 1237.2,827.3 1237.5,828.7 1237.7,825.1 1238,831.1 1238.3,825.6 1238.6,830.3 1238.9,825.4 1239.2,828.8 1239.4,828.3 1239.7,825.6 1240,831.2 1240.3,828.7 1240.6,829.9 1240.9,828.1 1241.1,827.8 1241.4,829.1 1241.7,829.6 1242,831.4 1242.3,829.1 1242.6,831.5 1242.8,830.8 1243.1,831 1243.4,835.3 1243.7,834.9 1244,831.7 1244.3,832.5 1244.5,829.5 1244.8,839.5 1245.1,832.7 1245.4,830.7 1245.7,833.6 1246,832 1246.2,834.3 1246.5,834.7 1246.8,832.5 1247.1,838.5 1247.4,841.4 1247.7,834.4 1247.9,835.6 1248.2,835.9 1248.5,835.7 1248.8,835 1249.1,838.2 1249.4,836 1249.7,836.6 1249.9,840.8 1250.2,838.4 1250.5,837.5 1250.8,840.6 1251.1,836 1251.4,839.8 1251.6,837.2 1251.9,835.7 1252.2,843.8 1252.5,843.6 1252.8,838.8 1253.1,841.1 1253.3,839.5 1253.6,836.6 1253.9,842.7 1254.2,839.3 1254.5,842.6 1254.8,843.9 1255,841.1 1255.3,842 1255.6,840.1 1255.9,842.3 1256.2,841.1 1256.5,842.3 1256.7,848.6 1257,845.2 1257.3,845.4 1257.6,842.3 1257.9,847.9 1258.2,844.7 1258.4,846.6 1258.7,850.8 1259,846.4 1259.3,844.6 1259.6,847.6 1259.9,844.3 1260.1,846 1260.4,846.5 1260.7,849 1261,848.3 1261.3,846.8 1261.6,848.3 1261.9,852.1 1262.1,849.4 1262.4,848.1 1262.7,846.4 1263,847.4 1263.3,852.7 1263.6,848.3 1263.8,855 1264.1,852.5 1264.4,853.3 1264.7,847.1 1265,849.6 1265.3,850.9 1265.5,853.8 1265.8,848.9 1266.1,853.2 1266.4,851.5 1266.7,850 1267,854.2 1267.2,852.1 1267.5,859.5 1267.8,852.5 1268.1,859.2 1268.4,853.5 1268.7,854.1 1268.9,853.8 1269.2,849 1269.5,862.9 1269.8,854.6 1270.1,857.3 1270.4,854.3 1270.6,855.8 1270.9,856.6 1271.2,858.6 1271.5,859.5 1271.8,856.7 1272.1,862.3 1272.3,855.2 1272.6,860.1 1272.9,857.4 1273.2,862.4 1273.5,857.9 1273.8,860.2 1274.1,857.6 1274.3,856.6 1274.6,861.8 1274.9,860.2 1275.2,860.1 1275.5,856.9 1275.8,865.1 1276,859.9 1276.3,861.9 1276.6,865.6 1276.9,863.3 1277.2,864.5 1277.5,859.7 1277.7,865.9 1278,860.4 1278.3,865 1278.6,861.9 1278.9,869.2 1279.2,866.6 1279.4,864.2 1279.7,867.6 1280,869.8 1280.3,865.4 1280.6,863.4 1280.9,865.9 1281.1,866.8 1281.4,865.3 1281.7,868 1282,864.3 1282.3,864 1282.6,871.3 1282.8,864.7 1283.1,866 1283.4,867.4 1283.7,866.5 1284,864.6 1284.3,863.4 1284.5,864.5 1284.8,870.2 1285.1,865.8 1285.4,875.1 1285.7,867.6 1286,868.4 1286.3,867.9 1286.5,873.7 1286.8,867 1287.1,867.8 1287.4,871.2 1287.7,876.4 1288,871.3 1288.2,875.1 1288.5,877.6 1288.8,875.3 1289.1,866.5 1289.4,878.1 1289.7,874.9 1289.9,873.6 1290.2,871.6 1290.5,877.8 1290.8,878 1291.1,872.6 1291.4,874.7 1291.6,872.1 1291.9,879.6 1292.2,876.6 1292.5,873.8 1292.8,876.5 1293.1,880.6 1293.3,877 1293.6,883.5 1293.9,880.3 1294.2,875.8 1294.5,875.7 1294.8,877.4 1295,876.8 1295.3,883.9 1295.6,881.5 1295.9,876.5 1296.2,873.1 1296.5,878.8 1296.7,883.3 1297,883.7 1297.3,877.3 1297.6,877.9 1297.9,885.3 1298.2,881.3 1298.5,877.8 1298.7,878 1299,884.1 1299.3,883.3 1299.6,881.6 1299.9,886.7 1300.2,888.7 1300.4,885.9 1300.7,880.3 1301,880.9 1301.3,883.1 1301.6,888.6 1301.9,891.4 1302.1,888.7 1302.4,885.5 1302.7,882.7 1303,889 1303.3,886.2 1303.6,892.5 1303.8,893.9 1304.1,887.3 1304.4,891.4 1304.7,891.2 1305,895.5 1305.3,885.8 1305.5,894.5 1305.8,888.9 1306.1,894.1 1306.4,890.7 1306.7,885.5 1307,889.3 1307.2,889.9 1307.5,887.7 1307.8,889.1 1308.1,886.7 1308.4,896.1 1308.7,887.2 1308.9,891.6 1309.2,895.5 1309.5,890.4 1309.8,890.8 1310.1,892.8 1310.4,890.3 1310.7,897.6 1310.9,899 1311.2,895.7 1311.5,890.5 1311.8,892.6 1312.1,894.5 1312.4,896.8 1312.6,895 1312.9,891.5 1313.2,897.3 1313.5,897.7 1313.8,894.6 1314.1,894.1 1314.3,896 1314.6,892 1314.9,896.3 1315.2,900.4 1315.5,904.9 1315.8,893.8 1316,898.4 1316.3,897 1316.6,896.9 1316.9,894.2 1317.2,895.4 1317.5,895.8 1317.7,898.3 1318,900.3 1318.3,898.9 1318.6,902.7 1318.9,899 1319.2,897 1319.4,898.4 1319.7,900.5 1320,904.2 1320.3,904.5 1320.6,904.2 1320.9,903.4 1321.2,900.8 1321.4,900.9 1321.7,900.8 1322,899.7 1322.3,906.6 1322.6,904.2 1322.9,902 1323.1,901.4 1323.4,906.6 1323.7,906.9 1324,901 1324.3,902.7 1324.6,903.8 1324.8,906.5 1325.1,909.1 1325.4,906.1 1325.7,905.2 1326,904.9 1326.3,903.9 1326.5,906.7 1326.8,903.1 1327.1,908.7 1327.4,906.7 1327.7,907.8 1328,914.6 1328.2,913.1 1328.5,910.6 1328.8,908.6 1329.1,908.2 1329.4,905.3 1329.7,909.9 1329.9,911.2 1330.2,909.3 1330.5,914.9 1330.8,911.5 1331.1,914.7 1331.4,911.2 1331.6,914.1 1331.9,913.4 1332.2,905.7 1332.5,908.6 1332.8,904.3 1333.1,912.3 1333.4,913.8 1333.6,916.2 1333.9,913.8 1334.2,920.2 1334.5,913.9 1334.8,916.4 1335.1,919.5 1335.3,921.4 1335.6,918.4 1335.9,916.9 1336.2,915.9 1336.5,921.8 1336.8,916.4 1337,915.4 1337.3,909.2 1337.6,915.7 1337.9,914 1338.2,920 1338.5,917.7 1338.7,920.6 1339,921.2 1339.3,916.7 1339.6,919.5 1339.9,913.9 1340.2,919.3 1340.4,918 1340.7,924.1 1341,923.6 1341.3,917.9 1341.6,922.9 1341.9,916.2 1342.1,923.9 1342.4,924.4 1342.7,914.7 1343,927.9 1343.3,923.8 1343.6,920.3 1343.8,920.3 1344.1,926.8 1344.4,915.4 1344.7,924.8 1345,930.6 1345.3,920.4 1345.6,925.7 1345.8,924 1346.1,921.7 1346.4,928 1346.7,927.6 1347,925.6 1347.3,922.4 1347.5,930.6 1347.8,920.8 1348.1,924.9 1348.4,930.6 1348.7,926.5 1349,924.9 1349.2,922.8 1349.5,924.3 1349.8,923.6 1350.1,928.5 1350.4,925.5 1350.7,938.6 1350.9,925 1351.2,929.1 1351.5,923.4 1351.8,931.6 1352.1,931.4 1352.4,929.8 1352.6,927.2 1352.9,929.2 1353.2,926.9 1353.5,930.7 1353.8,927.3 1354.1,921.3 1354.3,927.1 1354.6,929.6 1354.9,937.7 1355.2,930 1355.5,928.6 1355.8,933.5 1356,929.2 1356.3,941.8 1356.6,936.2 1356.9,937.4 1357.2,932.1 1357.5,937.4 1357.8,938.3 1358,929.4 1358.3,940.7 1358.6,933.4 1358.9,931.5 1359.2,936.9 1359.5,939.6 1359.7,937.1 1360,938.8 1360.3,939.9 1360.6,936.2 1360.9,937.5 1361.2,926.2 1361.4,933 1361.7,937.4 1362,936.2 1362.3,932.2 1362.6,934.4 1362.9,938.8 1363.1,942.3 1363.4,932.9 1363.7,939.8 1364,939.1 1364.3,935.1 1364.6,939.8 1364.8,935.8 1365.1,942.1 1365.4,940.5 1365.7,942.2 1366,933.8 1366.3,947.8 1366.5,943 1366.8,946 1367.1,945.7 1367.4,948.2 1367.7,946.5 1368,938.9 1368.2,938.3 1368.5,946.7 1368.8,949.2 1369.1,946.5 1369.4,938.6 1369.7,945.4 1370,954 1370.2,942.3 1370.5,946.3 1370.8,943.7 1371.1,944.8 1371.4,951.8 1371.7,942.9 1371.9,944.5 1372.2,950.1 1372.5,956.9 1372.8,952.6 1373.1,952.7 1373.4,945.7 1373.6,951 1373.9,950.6 1374.2,949 1374.5,951.1 1374.8,948.1 1375.1,948.6 1375.3,946.4 1375.6,955.4 1375.9,949.2 1376.2,951.9 1376.5,942.9 1376.8,945.6 1377,953.2 1377.3,948 1377.6,959.3 1377.9,956.6 1378.2,953.6 1378.5,951.7 1378.7,957.6 1379,953.1 1379.3,948.6 1379.6,960.5 1379.9,959.6 1380.2,962.3 1380.4,950 1380.7,959.2 1381,956.6 1381.3,959 1381.6,955.9 1381.9,957.2 1382.2,955.3 1382.4,955.6 1382.7,950.2 1383,960.7 1383.3,956.3 1383.6,957.6 1383.9,961.4 1384.1,954.4 1384.4,950.7 1384.7,963 1385,948.8 1385.3,959.5 1385.6,959.4 1385.8,970.6 1386.1,959.3 1386.4,960.4 1386.7,961.2 1387,957.6 1387.3,961.3 1387.5,959.3 1387.8,963.8 1388.1,966.1 1388.4,961.1 1388.7,959.4 1389,959.2 1389.2,961.9 1389.5,965.7 1389.8,962.6 1390.1,964.1 1390.4,968.7 1390.7,962.1 1390.9,964.5 1391.2,968.7 1391.5,965.5 1391.8,962 1392.1,958.5 1392.4,972.9 1392.6,966.8 1392.9,963.2 1393.2,960.9 1393.5,964.3 1393.8,970.6 1394.1,968.6 1394.4,966.9 1394.6,970.4 1394.9,971.8 1395.2,973.1 1395.5,957.2 1395.8,967.8 1396.1,969.2 1396.3,965.5 1396.6,968.4 1396.9,969.5 1397.2,968.1 1397.5,972.7 1397.8,971.3 1398,965.9 1398.3,967.4 1398.6,975.1 1398.9,964.2 1399.2,972.5 1399.5,978.1 1399.7,968.2 1400,968.7 1400.3,970.3 1400.6,976.2 1400.9,967.1 1401.2,970.2 1401.4,971.1 1401.7,971.9 1402,971.5 1402.3,964 1402.6,975.8 1402.9,972.5 1403.1,969.2 1403.4,970.9 1403.7,977.9 1404,975.2 1404.3,976.6 1404.6,981.7 1404.8,976.3 1405.1,971.5 1405.4,974.6 1405.7,971.3 1406,974.4 1406.3,979.8 1406.6,974.5 1406.8,985 1407.1,971.9 1407.4,979.3 1407.7,970.7 1408,984.4 1408.3,982.8 1408.5,980.6 1408.8,980.1 1409.1,986.5 1409.4,985.3 1409.7,977.6 1410,983.7 1410.2,976.4 1410.5,973.3 1410.8,987.5 1411.1,982.7 1411.4,973.6 1411.7,976.6 1411.9,987.9 1412.2,980.2 1412.5,974.8 1412.8,992.5 1413.1,981 1413.4,978.1 1413.6,985.4 1413.9,986.3 1414.2,980.2 1414.5,991.3 1414.8,981.5 1415.1,978.8 1415.3,984.1 1415.6,992.1 1415.9,978 1416.2,985.4 1416.5,982.9 1416.8,989.8 1417,986.4 1417.3,981.3 1417.6,993.7 1417.9,993 1418.2,997 1418.5,985.2 1418.8,985.5 1419,991.8 1419.3,986.5 1419.6,988.1 1419.9,979.8 1420.2,994.4 1420.5,987.8 1420.7,991.3 1421,981.2 1421.3,987.6 1421.6,995.7 1421.9,988.2 1422.2,991.2 1422.4,995.3 1422.7,989.1 1423,990.6 1423.3,997.1 1423.6,993.9 1423.9,986.7 1424.1,987.6 1424.4,993.1 1424.7,994.4 1425,991.7 1425.3,993.8 1425.6,999.3 1425.8,990.7 1426.1,997.8 1426.4,987.4 1426.7,991.7 1427,991.3 1427.3,996.4 1427.5,994.3 1427.8,998.2 1428.1,997.5 1428.4,1000.9 1428.7,989.5 1429,1001.8 1429.2,988.7 1429.5,993.3 1429.8,1001.4 1430.1,991.1 1430.4,995.5 1430.7,1001.6 1431,996.7 1431.2,999.8 1431.5,1002.1 1431.8,998.9 1432.1,997.6 1432.4,1000.7 1432.7,999.6 1432.9,995.9 1433.2,1000.4 1433.5,1001.9 1433.8,1006.7 1434.1,1000.9 1434.4,1003.1 1434.6,1002.1 1434.9,997.5 1435.2,997.4 1435.5,1001.6 1435.8,1004.8 1436.1,1001.6 1436.3,1000.9 1436.6,1001.5 1436.9,1010.1 1437.2,1001.7 1437.5,1008.4 1437.8,1002.2 1438,1001.9 1438.3,1003.4 1438.6,998.7 1438.9,1004.6 1439.2,1003.3 1439.5,1009.6 1439.7,1005.9 1440,1006.7 1440.3,1005.6 1440.6,1007 1440.9,1018.5 1441.2,1002.7 1441.4,1003.5 1441.7,1017.8 1442,1006.1 1442.3,1002.7 1442.6,1004.2 1442.9,1004.6 1443.2,1009.2 1443.4,1011.1 1443.7,999.6 1444,1006.9 1444.3,1001.3 1444.6,1009.8 1444.9,1005.1 1445.1,1005.9 1445.4,1006.2 1445.7,1016.6 1446,999.3 1446.3,1009.3 1446.6,1012.7 1446.8,1009.8 1447.1,1020.7 1447.4,1005 1447.7,1013.9 1448,1010.8 1448.3,1011.5 1448.5,1021.8 1448.8,1014.6 1449.1,1007 1449.4,1017.4 1449.7,1012.3 1450,1008.8 1450.2,1006.3 1450.5,1018.5 1450.8,1009.3 1451.1,1011.3 1451.4,1012.2 1451.7,1010.4 1451.9,1011.7 1452.2,1020.7 1452.5,1013.4 1452.8,1019.2 1453.1,1014.7 1453.4,1018.7 1453.6,1009.4 1453.9,1012.3 1454.2,1014.8 1454.5,1021 1454.8,1015.6 1455.1,1023.7 1455.4,1022.7 1455.6,1027.3 1455.9,1014.3 1456.2,1021.5 1456.5,1014.5 1456.8,1013.7 1457.1,1014.5 1457.3,1022 1457.6,1012.8 1457.9,1014.4 1458.2,1027.2 1458.5,1018.9 1458.8,1025.2 1459,1021.9 1459.3,1015.4 1459.6,1020.1 1459.9,1014 1460.2,1019 1460.5,1018.6 1460.7,1014.3 1461,1016.6 1461.3,1019 1461.6,1016.4 1461.9,1017.4 1462.2,1031.1 1462.4,1029.5 1462.7,1023.8 1463,1018.9 1463.3,1028.7 1463.6,1034 1463.9,1025.6 1464.1,1028.7 1464.4,1018.3 1464.7,1039.1 1465,1022.1 1465.3,1023.2 1465.6,1041.7 1465.8,1032.6 1466.1,1028.7 1466.4,1025.7 1466.7,1027.8 1467,1024.9 1467.3,1027.3 1467.6,1032.9 1467.8,1020.2 1468.1,1027.5 1468.4,1033.9 1468.7,1027 1469,1030.5 1469.3,1032.3 1469.5,1033.7 1469.8,1038.7 1470.1,1035.6 1470.4,1038 1470.7,1042.3 1471,1028.9 1471.2,1030.2 1471.5,1033.2 1471.8,1038.4 1472.1,1036.8 1472.4,1024.5 1472.7,1037.7 1472.9,1028.7 1473.2,1031.5 1473.5,1031 1473.8,1036.5 1474.1,1035.4 1474.4,1034.7 1474.6,1040.7 1474.9,1027.6 1475.2,1039.6 1475.5,1034.4 1475.8,1026.3 1476.1,1028 1476.3,1039.4 1476.6,1033.5 1476.9,1031 1477.2,1048 1477.5,1026.2 1477.8,1034.3 1478.1,1039.1 1478.3,1038.2 1478.6,1050.9 1478.9,1034.4 1479.2,1029.9 1479.5,1039.7 1479.8,1030.3 1480,1035.4 1480.3,1047 1480.6,1036.5 1480.9,1051.6 1481.2,1051 1481.5,1036.8 1481.7,1037.5 1482,1041.3 1482.3,1041.7 1482.6,1050.2 1482.9,1036 1483.2,1041.9 1483.4,1043.1 1483.7,1023.4 1484,1040.9 1484.3,1042.8 1484.6,1032 1484.9,1041.4 1485.1,1046 1485.4,1035.1 1485.7,1044.5 1486,1048.5 1486.3,1046.1 1486.6,1044.2 1486.8,1039.4 1487.1,1037.7 1487.4,1052 1487.7,1038.2 1488,1049.1 1488.3,1048.3 1488.5,1061.7 1488.8,1037.1 1489.1,1043.1 1489.4,1047.9 1489.7,1047.9 1490,1041.6 1490.3,1047.2 1490.5,1065.8 1490.8,1046.3 1491.1,1048.2 1491.4,1047.6 1491.7,1048.3 1492,1043.9 1492.2,1053.3 1492.5,1036.5 1492.8,1048.7 1493.1,1054.1 1493.4,1049.4 1493.7,1060.6 1493.9,1051.4 1494.2,1055.1 1494.5,1056.8 1494.8,1046.5 1495.1,1049.8 1495.4,1057.5 1495.6,1055.7 1495.9,1050.3 1496.2,1039.6 1496.5,1053.4 1496.8,1053.8 1497.1,1050.4 1497.3,1061 1497.6,1054.2 1497.9,1049.7 1498.2,1051.8 1498.5,1052.4 1498.8,1062 1499,1054.6 1499.3,1046.8 1499.6,1040.3 1499.9,1049.7 1500.2,1058.9 1500.5,1058.6 1500.7,1057.2 1501,1044.2 1501.3,1064.9 1501.6,1058.2 1501.9,1067.4 1502.2,1059.8 1502.5,1059.4 1502.7,1052.5 1503,1053.3 1503.3,1057 1503.6,1060.2 1503.9,1061.3 1504.2,1049.5 1504.4,1059.9 1504.7,1066.3 1505,1064.3 1505.3,1059.8 1505.6,1065.1 1505.9,1070.4 1506.1,1055.2 1506.4,1065.3 1506.7,1062 1507,1060.9 1507.3,1063.4 1507.6,1063 1507.8,1078.9 1508.1,1062.3 1508.4,1064.2 1508.7,1065.6 1509,1063.7 1509.3,1050.6 1509.5,1053.9 1509.8,1059.5 1510.1,1055 1510.4,1067 1510.7,1065 1511,1062 1511.2,1059.7 1511.5,1060.4 1511.8,1054.7 1512.1,1066.6 1512.4,1057.9 1512.7,1070.2 1512.9,1063.1 1513.2,1072.9 1513.5,1059.4 1513.8,1070.6 1514.1,1059.5 1514.4,1080.1 1514.7,1057.1 1514.9,1068.3 1515.2,1065.7 1515.5,1066.9 1515.8,1079.8 1516.1,1073 1516.4,1073.3 1516.6,1070.2 1516.9,1080.1 1517.2,1074.3 1517.5,1069.9 1517.8,1063.8 1518.1,1066.4 1518.3,1078.8 1518.6,1066.1 1518.9,1061.9 1519.2,1067.1 1519.5,1074.3 1519.8,1078.1 1520,1075.3 1520.3,1062.8 1520.6,1079.5 1520.9,1090 1521.2,1067.9 1521.5,1077.9 1521.7,1074.4 1522,1076.8 1522.3,1067.6 1522.6,1077.2 1522.9,1079.7 1523.2,1080.3 1523.4,1064.6 1523.7,1066.3 1524,1078.2 1524.3,1079.2 1524.6,1076.9 1524.9,1072.9 1525.1,1082.2 1525.4,1067.4 1525.7,1075.4 1526,1095.4 1526.3,1084.6 1526.6,1079.8 1526.9,1063.4 1527.1,1068.4 1527.4,1077.2 1527.7,1086.5 1528,1079.6 1528.3,1079.2 1528.6,1082.6 1528.8,1079.1 1529.1,1075.7 1529.4,1083.7 1529.7,1088.5 1530,1080.1 1530.3,1092 1530.5,1084.8 1530.8,1074.5 1531.1,1081.1 1531.4,1090.9 1531.7,1083.3 1532,1085.1 1532.2,1082.8 1532.5,1077.3 1532.8,1087.6 1533.1,1092.9 1533.4,1074.6 1533.7,1090.7 1533.9,1081.1 1534.2,1082.6 1534.5,1087.7 1534.8,1082 1535.1,1083.8 1535.4,1084.9 1535.6,1081.4 1535.9,1091.4 1536.2,1080.7 1536.5,1092.8 1536.8,1080.9 1537.1,1078.8 1537.3,1093.2 1537.6,1075.3 1537.9,1092.5 1538.2,1088.9 1538.5,1094.4 1538.8,1090.9 1539.1,1088.8 1539.3,1093.7 1539.6,1083.3 1539.9,1095.4 1540.2,1088.1 1540.5,1097.9 1540.8,1097.2 1541,1090.3 1541.3,1089.3 1541.6,1094.1 1541.9,1089.6 1542.2,1088.9 1542.5,1096.9 1542.7,1092.2 1543,1098.7 1543.3,1102.2 1543.6,1097.3 1543.9,1094.9 1544.2,1085.8 1544.4,1090.3 1544.7,1093.2 1545,1109.9 1545.3,1100.9 1545.6,1091.3 1545.9,1090.9 1546.1,1095.1 1546.4,1103.8 1546.7,1109.6 1547,1107.7 1547.3,1094.8 1547.6,1093.5 1547.8,1084.6 1548.1,1101.2 1548.4,1094.5 1548.7,1102.5 1549,1098.6 1549.3,1096.8 1549.5,1101.3 1549.8,1088.4 1550.1,1105.8 1550.4,1092.9 1550.7,1100 1551,1102.2 1551.3,1092 1551.5,1103.3 1551.8,1097.3 1552.1,1099.6 1552.4,1095 1552.7,1108.6 1553,1098.3 1553.2,1097.2 1553.5,1105.4 1553.8,1108.2 1554.1,1108.6 1554.4,1101.7 1554.7,1107.2 1554.9,1098.2 1555.2,1103 1555.5,1104.2 1555.8,1102.9 1556.1,1102.4 1556.4,1102.3 1556.6,1099.3 1556.9,1095.7 1557.2,1100.8 1557.5,1100.4 1557.8,1093.9 1558.1,1094.1 1558.3,1104 1558.6,1112.5 1558.9,1096.9 1559.2,1111 1559.5,1110.9 1559.8,1111.5 1560,1108.4 1560.3,1123.8 1560.6,1110.1 1560.9,1098.9 1561.2,1089.7 1561.5,1103.7 1561.7,1101.6 1562,1101.2 1562.3,1111.8 1562.6,1114.8 1562.9,1105.4 1563.2,1100.4 1563.5,1107.4 1563.7,1106.1 1564,1109 1564.3,1110 1564.6,1113 1564.9,1101.9 1565.2,1103.7 1565.4,1110.8 1565.7,1108.1 1566,1105.9 1566.3,1102.7 1566.6,1097.4 1566.9,1098.9 1567.1,1111 1567.4,1109.5 1567.7,1113.4 1568,1106.2 1568.3,1104.2 1568.6,1124.4 1568.8,1111.5 1569.1,1102.6 1569.4,1123.6 1569.7,1102.5 1570,1105.4 1570.3,1117.4 1570.5,1121.4 1570.8,1102.1 1571.1,1117.1 1571.4,1124.2 1571.7,1114.4 1572,1125.7 1572.2,1123.1 1572.5,1103.4 1572.8,1119.3 1573.1,1117.5 1573.4,1129.4 1573.7,1123.6 1573.9,1109.9 1574.2,1114.6 1574.5,1110.2 1574.8,1111 1575.1,1116.7 1575.4,1121.7 1575.7,1136.1 1575.9,1111.2 1576.2,1118.5 1576.5,1101.6 1576.8,1120.8 1577.1,1120.9 1577.4,1123.9 1577.6,1130 1577.9,1120.6 1578.2,1118.6 1578.5,1119.6 1578.8,1123.7 1579.1,1127.8 1579.3,1113.7 1579.6,1115 1579.9,1127.4 1580.2,1132.7 1580.5,1128 1580.8,1128.3 1581,1115.7 1581.3,1130.2 1581.6,1120.9 1581.9,1131.8 1582.2,1124.9 1582.5,1105.6 1582.7,1129.6 1583,1121.5 1583.3,1128.5 1583.6,1116.7 1583.9,1122.7 1584.2,1125.4 1584.4,1115.1 1584.7,1119.7 1585,1121.3 1585.3,1135.7 1585.6,1133.7 1585.9,1116.3 1586.1,1136.5 1586.4,1115.6 1586.7,1116 1587,1129.8 1587.3,1135.2 1587.6,1138.5 1587.9,1122.9 1588.1,1125.1 1588.4,1135.8 1588.7,1138.3 1589,1126.5 1589.3,1135.5 1589.6,1131 1589.8,1143.4 1590.1,1128.1 1590.4,1130.5 1590.7,1135.6 1591,1141.6 1591.3,1132.9 1591.5,1129.8 1591.8,1129.6 1592.1,1132.1 1592.4,1139.3 1592.7,1128.4 1593,1125 1593.2,1138.8 1593.5,1144.5 1593.8,1123.4 1594.1,1133.2 1594.4,1150.9 1594.7,1128.8 1594.9,1134.2 1595.2,1141.4 1595.5,1135.4 1595.8,1145.3 1596.1,1143.7 1596.4,1150.7 1596.6,1128.4 1596.9,1141.9 1597.2,1136.3 1597.5,1135.5 1597.8,1161.3 1598.1,1137.6 1598.3,1148.7 1598.6,1129.9 1598.9,1150 1599.2,1133.5 1599.5,1127.6 1599.8,1138.4 1600.1,1132.6 1600.3,1130.3 1600.6,1139.6 1600.9,1143.2 1601.2,1153.8 1601.5,1127.5 1601.8,1133.9 1602,1137 1602.3,1157 1602.6,1133.8 1602.9,1145.9 1603.2,1141.6 1603.5,1140.3 1603.7,1134.4 1604,1146.1 1604.3,1149.4 1604.6,1139.3 1604.9,1142 1605.2,1149.4 1605.4,1128.3 1605.7,1135.7 1606,1158.6 1606.3,1164.8 1606.6,1162.2 1606.9,1149.4 1607.1,1142.3 1607.4,1132.7 1607.7,1145 1608,1152.1 1608.3,1145.7 1608.6,1146.7 1608.8,1155.1 1609.1,1146.2 1609.4,1164.1 1609.7,1151 1610,1144.4 1610.3,1150.1 1610.5,1144.2 1610.8,1140 1611.1,1144 1611.4,1143.6 1611.7,1143.9 1612,1151 1612.3,1141.4 1612.5,1147.5 1612.8,1158.2 1613.1,1142.3 1613.4,1150.3 1613.7,1179 1614,1137 1614.2,1150.3 1614.5,1157.3 1614.8,1144.7 1615.1,1148 1615.4,1149.2 1615.7,1137.6 1615.9,1142.4 1616.2,1153.8 1616.5,1157.6 1616.8,1162.8 1617.1,1148.6 1617.4,1151.4 1617.6,1143.8 1617.9,1151 1618.2,1147 1618.5,1142.3 1618.8,1157.4 1619.1,1161.6 1619.3,1153.6 1619.6,1165 1619.9,1155.6 1620.2,1156.5 1620.5,1143.1 1620.8,1157.6 1621,1145.3 1621.3,1158.6 1621.6,1155.9 1621.9,1159.8 1622.2,1156.7 1622.5,1161.4 1622.7,1166.1 1623,1167.9 1623.3,1149.7 1623.6,1155.9 1623.9,1144.6 1624.2,1145.6 1624.5,1166.9 1624.7,1143.1 1625,1162.4 1625.3,1173 1625.6,1169.3 1625.9,1164 1626.2,1182 1626.4,1155.9 1626.7,1163.1 1627,1155 1627.3,1157.7 1627.6,1158.5 1627.9,1154.9 1628.1,1157 1628.4,1174.1 1628.7,1148.9 1629,1166 1629.3,1161.8 1629.6,1156.4 1629.8,1169 1630.1,1167.6 1630.4,1179.8 1630.7,1157.9 1631,1158.1 1631.3,1167.7 1631.5,1171.4 1631.8,1189.8 1632.1,1161 1632.4,1173.7 1632.7,1170 1633,1169.1 1633.2,1169.4 1633.5,1165.2 1633.8,1161.6 1634.1,1165.6 1634.4,1177.2 1634.7,1168 1634.9,1168.8 1635.2,1176.6 1635.5,1170.5 1635.8,1160.8 1636.1,1162.1 1636.4,1164.2 1636.7,1163.6 1636.9,1186.8 1637.2,1167.5 1637.5,1156.9 1637.8,1172.3 1638.1,1172.5 1638.4,1176.6 1638.6,1167.5 1638.9,1170.6 1639.2,1179.5 1639.5,1169.9 1639.8,1170.8 1640.1,1168 1640.3,1167.8 1640.6,1178.3 1640.9,1168.2 1641.2,1172.4 1641.5,1173.1 1641.8,1176.1 1642,1172.1 1642.3,1178.6 1642.6,1183.3 1642.9,1164.2 1643.2,1185.3 1643.5,1172 1643.7,1168 1644,1172.8 1644.3,1177.9 1644.6,1176.8 1644.9,1189.9 1645.2,1173.1 1645.4,1184.7 1645.7,1177.6 1646,1185 1646.3,1169.6 1646.6,1180.9 1646.9,1177.9 1647.2,1165.7 1647.4,1186.8 1647.7,1180.5 1648,1199.7 1648.3,1181.8 1648.6,1183.2 1648.9,1185.2 1649.1,1173.7 1649.4,1166.9 1649.7,1173 1650,1173.8 1650.3,1171.4 1650.6,1186 1650.8,1188 1651.1,1178.2 1651.4,1166.5 1651.7,1186.6 1652,1195.6 1652.3,1181.3 1652.5,1173.2 1652.8,1176.2 1653.1,1178.3 1653.4,1183.6 1653.7,1176.2 1654,1186.7 1654.2,1172.6 1654.5,1171.9 1654.8,1176.5 1655.1,1166.8 1655.4,1163.6 1655.7,1191.6 1655.9,1186.2 1656.2,1193.7 1656.5,1201.2 1656.8,1195.8 1657.1,1187.1 1657.4,1181.1 1657.6,1182.2 1657.9,1212.3 1658.2,1187.2 1658.5,1198.1 1658.8,1181.3 1659.1,1195.4 1659.4,1178.9 1659.6,1172.8 1659.9,1171.6 1660.2,1190.2 1660.5,1186.4 1660.8,1192 1661.1,1189.4 1661.3,1174 1661.6,1207.5 1661.9,1195.6 1662.2,1189.4 1662.5,1195 1662.8,1201.8 1663,1181.2 1663.3,1191.9 1663.6,1195.7 1663.9,1205.2 1664.2,1193.2 1664.5,1183.6 1664.7,1194 1665,1182.2 1665.3,1196 1665.6,1201.4 1665.9,1192.9 1666.2,1202.7 1666.4,1209.1 1666.7,1189 1667,1185.1 1667.3,1179.1 1667.6,1214.3 1667.9,1185.9 1668.1,1188.9 1668.4,1193.8 1668.7,1190.9 1669,1189.2 1669.3,1190.9 1669.6,1190.7 1669.8,1199.1 1670.1,1180.6 1670.4,1196.9 1670.7,1186.7 1671,1200.9 1671.3,1197.9 1671.6,1198.9 1671.8,1195.7 1672.1,1185.3 1672.4,1214.1 1672.7,1187.1 1673,1206 1673.3,1179.9 1673.5,1209.2 1673.8,1198 1674.1,1193.6 1674.4,1216.9 1674.7,1200.3 1675,1199.8 1675.2,1196.9 1675.5,1202.8 1675.8,1211.9 1676.1,1221.4 1676.4,1207.4 1676.7,1206 1676.9,1206 1677.2,1194.4 1677.5,1201.6 1677.8,1221.2 1678.1,1212 1678.4,1192.4 1678.6,1197.2 1678.9,1202.3 1679.2,1207.4 1679.5,1193.8 1679.8,1212.5 1680.1,1211.6 1680.3,1194.2 1680.6,1225.1 1680.9,1194.4 1681.2,1210.3 1681.5,1201.8 1681.8,1210.4 1682,1226.5 1682.3,1202.7 1682.6,1213.9 1682.9,1207.8 1683.2,1203.1 1683.5,1205.6 1683.8,1206.2 1684,1201.4 1684.3,1223.2 1684.6,1188.4 1684.9,1225.2 1685.2,1210.8 1685.5,1209 1685.7,1214.5 1686,1201.9 1686.3,1214.8 1686.6,1209.4 1686.9,1185.1 1687.2,1215 1687.4,1188.1 1687.7,1226.1 1688,1205 1688.3,1208.9 1688.6,1204.6 1688.9,1238.3 1689.1,1235.3 1689.4,1205.5 1689.7,1203.8 1690,1205.7 1690.3,1218 1690.6,1207.8 1690.8,1209.2 1691.1,1219.9 1691.4,1195.2 1691.7,1214.4 1692,1219.7 1692.3,1210.5 1692.5,1218.9 1692.8,1212.2 1693.1,1225.2 1693.4,1224.8 1693.7,1221.4 1694,1205.2 1694.2,1218.8 1694.5,1200.2 1694.8,1201.8 1695.1,1222.7 1695.4,1222 1695.7,1205.2 1696,1220.6 1696.2,1221.4 1696.5,1200 1696.8,1205 1697.1,1212 1697.4,1239.2 1697.7,1216.9 1697.9,1238.4 1698.2,1216.6 1698.5,1215.4 1698.8,1201.2 1699.1,1234.6 1699.4,1218 1699.6,1216.5 1699.9,1215.6 1700.2,1214.7 1700.5,1208.6 1700.8,1215.2 1701.1,1225.2 1701.3,1223.8 1701.6,1209.9 1701.9,1225 1702.2,1245.1 1702.5,1240.3 1702.8,1236.2 1703,1237.2 1703.3,1220 1703.6,1221.1 1703.9,1244 1704.2,1235.3 1704.5,1219.2 1704.7,1219.6 1705,1225.6 1705.3,1202.8 1705.6,1234.6 1705.9,1213.3 1706.2,1222.6 1706.4,1250.9 1706.7,1238.8 1707,1225.4 1707.3,1235.7 1707.6,1231.3 1707.9,1229 1708.2,1224 1708.4,1231.4 1708.7,1221 1709,1230.7 1709.3,1240.5 1709.6,1233.7 1709.9,1243.8 1710.1,1220.8 1710.4,1247.5 1710.7,1236.5 1711,1235 1711.3,1224.6 1711.6,1215.4 1711.8,1244.8 1712.1,1235.2 1712.4,1237.2 1712.7,1240.5 1713,1252.5 1713.3,1231.2 1713.5,1255.8 1713.8,1216.9 1714.1,1223.5 1714.4,1221.3 1714.7,1213.5 1715,1234.7 1715.2,1242.5 1715.5,1257.6 1715.8,1221.7 1716.1,1225.6 1716.4,1240.6 1716.7,1248.1 1716.9,1231.6 1717.2,1232.3 1717.5,1249.9 1717.8,1219.9 1718.1,1242.7 1718.4,1229.8 1718.6,1260 1718.9,1250.2 1719.2,1235.8 1719.5,1250.4 1719.8,1218.7 1720.1,1263.4 1720.4,1244.7 1720.6,1262.3 1720.9,1243.7 1721.2,1225.2 1721.5,1236.4 1721.8,1242.1 1722.1,1225.8 1722.3,1260.1 1722.6,1256.2 1722.9,1261.1 1723.2,1228.5 1723.5,1262.3 1723.8,1226.1 1724,1250.5 1724.3,1244.4 1724.6,1246.5 1724.9,1232.4 1725.2,1248.5 1725.5,1246.3 1725.7,1246.4 1726,1244.6 1726.3,1254.6 1726.6,1243.3 1726.9,1256.9 1727.2,1237.5 1727.4,1250.2 1727.7,1228.4 1728,1262.5 1728.3,1243 1728.6,1246.5 1728.9,1225.5 1729.1,1239.4 1729.4,1248.1 1729.7,1248.2 1730,1255.1 1730.3,1223.7 1730.6,1223 1730.8,1248 1731.1,1256.9 1731.4,1242.3 1731.7,1239.1 1732,1260 1732.3,1253.5 1732.6,1255.4 1732.8,1252.4 1733.1,1243.3 1733.4,1263 1733.7,1274.1 1734,1226.6 1734.3,1254.7 1734.5,1244.6 1734.8,1257 1735.1,1249.3 1735.4,1247.6 1735.7,1253.3 1736,1223.5 1736.2,1244.2 1736.5,1256.1 1736.8,1251.3 1737.1,1252.6 1737.4,1255.8 1737.7,1240.2 1737.9,1240.6 1738.2,1254.3 1738.5,1250.8 1738.8,1270.7 1739.1,1248.3 1739.4,1256.2 1739.6,1265.9 1739.9,1259.6 1740.2,1238.2 1740.5,1268.2 1740.8,1267.4 1741.1,1251.2 1741.3,1250.7 1741.6,1258.2 1741.9,1270.8 1742.2,1264.9 1742.5,1234.2 1742.8,1276.2 1743,1255 1743.3,1246.8 1743.6,1249.2 1743.9,1231.8 1744.2,1253.4 1744.5,1264 1744.8,1268 1745,1262.4 1745.3,1242.6 1745.6,1274.3 1745.9,1256.3 1746.2,1270.7 1746.5,1261.4 1746.7,1236.9 1747,1257.4 1747.3,1255.1 1747.6,1267.5 1747.9,1282.6 1748.2,1272.9 1748.4,1267.7 1748.7,1262.4 1749,1290.1 1749.3,1264.2 1749.6,1245.1 1749.9,1269.1 1750.1,1253.4 1750.4,1260.2 1750.7,1263.9 1751,1266.9 1751.3,1254.6 1751.6,1243.6 1751.8,1289.5 1752.1,1251.5 1752.4,1269.6 1752.7,1260.1 1753,1251.5 1753.3,1262.7 1753.5,1242.1 1753.8,1252.1 1754.1,1269.6 1754.4,1254.9 1754.7,1286.6 1755,1263 1755.2,1273.9 1755.5,1278 1755.8,1254 1756.1,1264 1756.4,1273.7 1756.7,1262.8 1757,1268.8 1757.2,1269.7 1757.5,1290.7 1757.8,1275.2 1758.1,1261.7 1758.4,1263.8 1758.7,1268.1 1758.9,1285.3 1759.2,1279.7 1759.5,1306 1759.8,1284.3 1760.1,1254.5 1760.4,1249.4 1760.6,1269.4 1760.9,1270.9 1761.2,1291.4 1761.5,1268.3 1761.8,1278.9 1762.1,1245.9 1762.3,1265.2 1762.6,1273.3 1762.9,1294.5 1763.2,1254.2 1763.5,1271.6 1763.8,1247.5 1764,1264.4 1764.3,1275.2 1764.6,1263.8 1764.9,1263.2 1765.2,1281.4 1765.5,1256.8 1765.7,1250.3 1766,1283.7 1766.3,1310.5 1766.6,1265.1 1766.9,1273.3 1767.2,1274.9 1767.4,1288.4 1767.7,1256.4 1768,1307.8 1768.3,1260.2 1768.6,1283.2 1768.9,1308.9 1769.2,1288.7 1769.4,1277.9 1769.7,1252.7 1770,1262.8 1770.3,1280.3 1770.6,1277.9 1770.9,1261.5 1771.1,1268.1 1771.4,1251.4 1771.7,1288.8 1772,1273.7 1772.3,1287.4 1772.6,1278 1772.8,1302.3 1773.1,1280.1 1773.4,1302.2 1773.7,1276.1 1774,1262.2 1774.3,1277.9 1774.5,1279.3 1774.8,1283.9 1775.1,1302.4 1775.4,1292.5 1775.7,1288.7 1776,1298.2 1776.2,1268.9 1776.5,1312 1776.8,1299.4 1777.1,1297.4 1777.4,1288.7 1777.7,1301.4 1777.9,1306.3 1778.2,1304.1 1778.5,1295.6 1778.8,1307.3 1779.1,1271.6 1779.4,1286.3 1779.6,1270 1779.9,1295 1780.2,1278.7 1780.5,1287.9 1780.8,1284.5 1781.1,1266.9 1781.4,1277.7 1781.6,1284.2 1781.9,1290.1 1782.2,1315.9 1782.5,1291.8 1782.8,1298.3 1783.1,1265.5 1783.3,1296.8 1783.6,1287.3 1783.9,1291.5 1784.2,1299.1 1784.5,1276.4 1784.8,1306.7 1785,1282.5 1785.3,1320.9 1785.6,1299.5 1785.9,1269.2 1786.2,1294.3 1786.5,1288.4 1786.7,1287.9 1787,1291.4 1787.3,1336.3 1787.6,1316.9 1787.9,1280.7 1788.2,1291.1 1788.4,1315.4 1788.7,1314.8 1789,1277.3 1789.3,1301.6 1789.6,1298 1789.9,1301.5 1790.1,1307.5 1790.4,1291.2 1790.7,1288.6 1791,1299.5 1791.3,1297.1 1791.6,1308.8 1791.8,1278.8 1792.1,1319.9 1792.4,1293.1 1792.7,1287.6 1793,1281.9 1793.3,1297.2 1793.6,1290.8 1793.8,1301.1 1794.1,1311 1794.4,1296.9 1794.7,1284.6 1795,1289.3 1795.3,1318.3 1795.5,1298.6 1795.8,1282 1796.1,1294.4 1796.4,1280.1 1796.7,1299 1797,1302.6 1797.2,1360.9 1797.5,1282.9 1797.8,1328.1 1798.1,1308.3 1798.4,1316.7 1798.7,1313.3 1798.9,1290.4 1799.2,1328.5 1799.5,1298 1799.8,1322.5 1800.1,1303.5 1800.4,1297.2 1800.6,1306.6 1800.9,1308.3 1801.2,1306.3 1801.5,1307 1801.8,1295.7 1802.1,1298.9 1802.3,1311.2 1802.6,1275.3 1802.9,1316 1803.2,1280.9 1803.5,1308.5 1803.8,1287.6 1804.1,1291.1 1804.3,1311.3 1804.6,1294.9 1804.9,1279.1 1805.2,1332.8 1805.5,1328.1 1805.8,1320.1 1806,1282.7 1806.3,1300.2 1806.6,1318.6 1806.9,1310.9 1807.2,1304.2 1807.5,1321.7 1807.7,1312.7 1808,1307.2 1808.3,1301.9 1808.6,1295.5 1808.9,1316.9 1809.2,1312.7 1809.4,1330.6 1809.7,1312 1810,1308.7 1810.3,1311.6 1810.6,1304.3 1810.9,1328.4 1811.1,1295.4 1811.4,1309.1 1811.7,1294.8 1812,1327.3 1812.3,1315.2 1812.6,1310.8 1812.8,1322.9 1813.1,1297.4 1813.4,1313.2 1813.7,1336.4 1814,1299.7 1814.3,1323.8 1814.5,1309.7 1814.8,1302.4 1815.1,1331.3 1815.4,1295.3 1815.7,1303.4 1816,1341.2 1816.3,1298.6 1816.5,1329.2 1816.8,1328.1 1817.1,1293.3 1817.4,1339.8 1817.7,1363.7 1818,1314.3 1818.2,1320.6 1818.5,1332.5 1818.8,1303.2 1819.1,1343.8 1819.4,1334.1 1819.7,1306.9 1819.9,1330 1820.2,1334.7 1820.5,1325.2 1820.8,1340.3 1821.1,1341.5 1821.4,1321.9 1821.6,1328.5 1821.9,1323.1 1822.2,1334.9 1822.5,1318 1822.8,1315.1 1823.1,1310.2 1823.3,1331.8 1823.6,1333.1 1823.9,1342.5 1824.2,1318.4 1824.5,1309.7 1824.8,1309.6 1825,1311.9 1825.3,1306.4 1825.6,1298.9 1825.9,1320.4 1826.2,1314.5 1826.5,1336.8 1826.7,1317.6 1827,1311.1 1827.3,1334.3 1827.6,1296.4 1827.9,1316.3 1828.2,1312.7 1828.5,1320.5 1828.7,1297.1 1829,1321.6 1829.3,1311.8 1829.6,1321.4 1829.9,1332.3 1830.2,1327.8 1830.4,1334.8 1830.7,1331.5 1831,1313.7 1831.3,1339.4 1831.6,1331.8" stroke="#d20a0a" stroke-width="3.2"/>
<polyline points="1067.5,1291.5 1067.5,657 1069.4,659 1071.3,661 1073.2,663 1075.1,665 1077,667 1078.8,669 1080.7,671 1082.6,673 1084.5,675 1086.4,677 1088.3,679 1090.2,681 1092.1,682.9 1094,684.9 1095.9,686.9 1097.8,688.8 1099.7,690.8 1101.5,692.7 1103.4,694.7 1105.3,696.7 1114.8,706.4 1124.2,716 1133.7,725.6 1143.2,735 1152.6,744.5 1162.1,753.8 1171.5,763.1 1181,772.3 1190.4,781.5 1199.9,790.5 1209.4,799.6 1218.8,808.5 1228.3,817.4 1237.7,826.3 1247.2,835.1 1256.7,843.9 1266.1,852.6 1275.6,861.2 1285,869.8 1294.5,878.4 1303.9,886.9 1313.4,895.4 1322.9,903.8 1332.3,912.2 1341.8,920.6 1351.2,928.9 1360.7,937.2 1370.1,945.5 1379.6,953.7 1389.1,961.9 1398.5,970.1 1408,978.2 1417.4,986.4 1426.9,994.4 1436.3,1002.5 1445.8,1010.6 1455.3,1018.6 1464.7,1026.6 1474.2,1034.6 1483.6,1042.5 1493.1,1050.5 1502.5,1058.4 1512,1066.3 1521.5,1074.2 1530.9,1082.1 1540.4,1090 1549.8,1097.8 1559.3,1105.7 1568.7,1113.5 1578.2,1121.3 1587.7,1129.1 1597.1,1136.9 1606.6,1144.7 1616,1152.5 1625.5,1160.3 1634.9,1168 1644.4,1175.8 1653.9,1183.5 1663.3,1191.2 1672.8,1199 1682.2,1206.7 1691.7,1214.4 1701.2,1222.1 1710.6,1229.8 1720.1,1237.5 1729.5,1245.2 1739,1252.9 1748.4,1260.6 1757.9,1268.2 1767.4,1275.9 1776.8,1283.6 1786.3,1291.2 1795.7,1298.9 1805.2,1306.5 1814.6,1314.2 1824.1,1321.8" stroke="#000" stroke-width="2"/>
<polyline points="1067.5,657.9 1067.8,658.2 1068.1,659 1068.4,658.4 1068.6,661.9 1068.9,659.8 1069.2,661.6 1069.5,659.8 1069.8,660.5 1070.1,660.7 1070.3,662.3 1070.6,664.2 1070.9,663.7 1071.2,663.6 1071.5,667.3 1071.8,666.3 1072,668 1072.3,666.7 1072.6,670.6 1072.9,670.6 1073.2,670.4 1073.5,671.3 1073.7,674.8 1074,672.6 1074.3,674 1074.6,674.9 1074.9,675.5 1075.2,675.7 1075.4,679.4 1075.7,675.2 1076,679.4 1076.3,682.2 1076.6,679.7 1076.9,678.1 1077.1,681.7 1077.4,679.4 1077.7,680.1 1078,684.3 1078.3,687.5 1078.6,686.3 1078.8,683.3 1079.1,687 1079.4,688.8 1079.7,689.2 1080,687.8 1080.3,688.5 1080.6,687.8 1080.8,688.3 1081.1,691.9 1081.4,691.4 1081.7,693.6 1082,692.3 1082.3,694.9 1082.5,695.6 1082.8,691.1 1083.1,695 1083.4,694.7 1083.7,692.4 1084,695.7 1084.2,697.8 1084.5,698.1 1084.8,700 1085.1,697.7 1085.4,700.6 1085.7,697.9 1085.9,701.9 1086.2,702.5 1086.5,703.2 1086.8,702.2 1087.1,703.5 1087.4,702.2 1087.6,705.9 1087.9,705.1 1088.2,703.1 1088.5,707.2 1088.8,706.5 1089.1,705.4 1089.3,707.7 1089.6,710.2 1089.9,713.2 1090.2,706.4 1090.5,710.2 1090.8,709.4 1091,712.9 1091.3,709.6 1091.6,712.4 1091.9,713.7 1092.2,715.9 1092.5,714.3 1092.8,716.3 1093,716.4 1093.3,719.4 1093.6,718 1093.9,717.5 1094.2,720.4 1094.5,718.7 1094.7,718.2 1095,720.5 1095.3,721.5 1095.6,722.1 1095.9,719.9 1096.2,724.8 1096.4,723.2 1096.7,723.9 1097,723.5 1097.3,724.4 1097.6,726.7 1097.9,721.8 1098.1,725.5 1098.4,728.7 1098.7,728.4 1099,727.2 1099.3,726.8 1099.6,730.8 1099.8,727.7 1100.1,731.9 1100.4,731.4 1100.7,728.9 1101,728 1101.3,731.6 1101.5,732.5 1101.8,730.2 1102.1,734.9 1102.4,733 1102.7,733.5 1103,732.7 1103.2,734.4 1103.5,735.9 1103.8,734.8 1104.1,738.5 1104.4,735.4 1104.7,738.6 1105,739.6 1105.2,739 1105.5,738.8 1105.8,738 1106.1,740.2 1106.4,738.9 1106.7,738.9 1106.9,741.4 1107.2,743.5 1107.5,740.5 1107.8,742.1 1108.1,747.1 1108.4,745.4 1108.6,743.7 1108.9,747.1 1109.2,746.2 1109.5,748.7 1109.8,745.1 1110.1,745.8 1110.3,746.4 1110.6,744.5 1110.9,748.3 1111.2,748.7 1111.5,744.8 1111.8,751.5 1112,748.1 1112.3,752.4 1112.6,749.9 1112.9,746.8 1113.2,750.7 1113.5,753.1 1113.7,747.6 1114,753.6 1114.3,753.4 1114.6,752.8 1114.9,756.5 1115.2,752.1 1115.4,751.6 1115.7,753.6 1116,754.9 1116.3,756.3 1116.6,754.7 1116.9,763.1 1117.2,757.5 1117.4,757.1 1117.7,762 1118,757.6 1118.3,759.2 1118.6,759.4 1118.9,759.5 1119.1,759 1119.4,759.6 1119.7,763.1 1120,761.6 1120.3,762.2 1120.6,762.1 1120.8,763.8 1121.1,761.1 1121.4,760.8 1121.7,760.8 1122,760.4 1122.3,761.6 1122.5,766 1122.8,766.7 1123.1,766.6 1123.4,765.1 1123.7,766.9 1124,765 1124.2,764.1 1124.5,768.7 1124.8,766.2 1125.1,769.4 1125.4,771.6 1125.7,772 1125.9,770.4 1126.2,774.1 1126.5,769.5 1126.8,767.8 1127.1,773.7 1127.4,772.4 1127.6,768.9 1127.9,771.7 1128.2,772.4 1128.5,773.7 1128.8,771.4 1129.1,773.2 1129.4,776.6 1129.6,779.9 1129.9,780.8 1130.2,774.1 1130.5,776.4 1130.8,773.2 1131.1,775.5 1131.3,779.6 1131.6,776.7 1131.9,775.2 1132.2,780 1132.5,779.5 1132.8,775.1 1133,782.9 1133.3,781.8 1133.6,777.6 1133.9,779.8 1134.2,783.1 1134.5,784.1 1134.7,780.3 1135,779.1 1135.3,780.3 1135.6,781.5 1135.9,779.5 1136.2,782.4 1136.4,785.3 1136.7,779.5 1137,786.9 1137.3,784.8 1137.6,785 1137.9,782.1 1138.1,787.2 1138.4,786.5 1138.7,790.2 1139,785.9 1139.3,786 1139.6,785.9 1139.8,789.7 1140.1,787.5 1140.4,790.3 1140.7,789.8 1141,789.2 1141.3,786.6 1141.6,790.7 1141.8,789.7 1142.1,792.3 1142.4,792 1142.7,792.7 1143,791.8 1143.3,790.1 1143.5,794.6 1143.8,790.9 1144.1,795 1144.4,792.4 1144.7,794.7 1145,794.5 1145.2,795 1145.5,792 1145.8,794.3 1146.1,792.8 1146.4,796.3 1146.7,796.4 1146.9,792.6 1147.2,800.3 1147.5,798.9 1147.8,797.6 1148.1,793.4 1148.4,799.2 1148.6,796.4 1148.9,794.9 1149.2,799.4 1149.5,799.5 1149.8,795.7 1150.1,801.1 1150.3,802.6 1150.6,798.6 1150.9,802 1151.2,798.1 1151.5,800.2 1151.8,805.9 1152.1,801.4 1152.3,802.4 1152.6,804.3 1152.9,800.5 1153.2,807.5 1153.5,806.6 1153.8,805.2 1154,802.5 1154.3,808.3 1154.6,806.5 1154.9,807 1155.2,809.2 1155.5,806.8 1155.7,809 1156,807.6 1156.3,806.2 1156.6,809.4 1156.9,809.6 1157.2,810.2 1157.4,810.2 1157.7,812.2 1158,811.6 1158.3,808.8 1158.6,811.5 1158.9,802.1 1159.1,812 1159.4,809.2 1159.7,814.3 1160,811.6 1160.3,812.6 1160.6,811.7 1160.8,808.7 1161.1,812.6 1161.4,815.4 1161.7,812.5 1162,815.4 1162.3,813.6 1162.5,809.8 1162.8,811.6 1163.1,811.6 1163.4,813.2 1163.7,814.9 1164,818.9 1164.3,816.6 1164.5,817 1164.8,814.4 1165.1,813.9 1165.4,815.4 1165.7,818.9 1166,812.7 1166.2,814.1 1166.5,818.3 1166.8,817.6 1167.1,816.8 1167.4,818.4 1167.7,819.2 1167.9,818.1 1168.2,819.6 1168.5,819.4 1168.8,824.2 1169.1,824.5 1169.4,816.5 1169.6,824.9 1169.9,820.2 1170.2,820.9 1170.5,821.4 1170.8,824 1171.1,820 1171.3,822 1171.6,824 1171.9,827 1172.2,824.3 1172.5,825.5 1172.8,827.5 1173,823.6 1173.3,823.4 1173.6,823.1 1173.9,825.1 1174.2,826.4 1174.5,823.2 1174.7,824.4 1175,820.9 1175.3,825.5 1175.6,829.6 1175.9,825 1176.2,821.9 1176.5,827.3 1176.7,828.7 1177,830.1 1177.3,824 1177.6,829.6 1177.9,830 1178.2,828.9 1178.4,833.7 1178.7,831 1179,833.8 1179.3,831.2 1179.6,829.8 1179.9,829 1180.1,832.7 1180.4,829.8 1180.7,833.2 1181,836.9 1181.3,831.3 1181.6,833.6 1181.8,833 1182.1,840.6 1182.4,833.3 1182.7,833.5 1183,833.8 1183.3,832 1183.5,835.9 1183.8,829.7 1184.1,833.6 1184.4,834.4 1184.7,842.8 1185,841.6 1185.2,832.7 1185.5,835.9 1185.8,834.7 1186.1,838.4 1186.4,838 1186.7,836.4 1186.9,840.3 1187.2,835 1187.5,841.7 1187.8,838.4 1188.1,840 1188.4,838.6 1188.7,836.5 1188.9,843.1 1189.2,839.1 1189.5,840.3 1189.8,838.6 1190.1,841.2 1190.4,842.7 1190.6,840.3 1190.9,838.4 1191.2,840 1191.5,842.1 1191.8,841.6 1192.1,847.3 1192.3,844.8 1192.6,844.3 1192.9,845.3 1193.2,846 1193.5,844.5 1193.8,843.6 1194,839.8 1194.3,847.1 1194.6,848 1194.9,843.1 1195.2,845.6 1195.5,848.7 1195.7,842.4 1196,847.4 1196.3,848 1196.6,849.1 1196.9,850.2 1197.2,847.6 1197.4,850.8 1197.7,841.9 1198,847.8 1198.3,849.7 1198.6,851.4 1198.9,848.8 1199.1,847.1 1199.4,849.4 1199.7,853.6 1200,851.3 1200.3,855.7 1200.6,847.3 1200.9,849.6 1201.1,851.1 1201.4,851.2 1201.7,853.8 1202,852.9 1202.3,850.1 1202.6,853.2 1202.8,851.7 1203.1,853 1203.4,853.2 1203.7,853.2 1204,851.5 1204.3,855.4 1204.5,853 1204.8,857.4 1205.1,857 1205.4,857.7 1205.7,853.5 1206,857 1206.2,853 1206.5,859.6 1206.8,855.9 1207.1,860.5 1207.4,854.3 1207.7,859.7 1207.9,856.7 1208.2,860.2 1208.5,860.7 1208.8,858.1 1209.1,864 1209.4,862.7 1209.6,855.3 1209.9,862.2 1210.2,857.7 1210.5,862.8 1210.8,865.4 1211.1,862 1211.3,858.6 1211.6,861.4 1211.9,862.5 1212.2,859.4 1212.5,864.3 1212.8,860.3 1213.1,861.7 1213.3,865.9 1213.6,860.5 1213.9,860.2 1214.2,864.4 1214.5,863.6 1214.8,865 1215,867.8 1215.3,862.4 1215.6,867.9 1215.9,863.7 1216.2,867.1 1216.5,868.8 1216.7,864.2 1217,865.6 1217.3,861.2 1217.6,867 1217.9,866.6 1218.2,866.9 1218.4,868.3 1218.7,863.9 1219,863.7 1219.3,866.3 1219.6,871.5 1219.9,867.4 1220.1,868.8 1220.4,870.6 1220.7,874.2 1221,867.2 1221.3,866.5 1221.6,869.3 1221.8,869.2 1222.1,865.6 1222.4,865.4 1222.7,870.6 1223,880.3 1223.3,869.7 1223.5,871.6 1223.8,870.2 1224.1,874.1 1224.4,875.8 1224.7,871.5 1225,874.2 1225.3,873.2 1225.5,872.5 1225.8,873.7 1226.1,878.7 1226.4,872.8 1226.7,876.3 1227,875.7 1227.2,874 1227.5,880 1227.8,876.6 1228.1,881.7 1228.4,878 1228.7,875.6 1228.9,877.3 1229.2,878 1229.5,875.6 1229.8,878.9 1230.1,882.9 1230.4,874.9 1230.6,877.8 1230.9,876.3 1231.2,880.2 1231.5,880.6 1231.8,881.8 1232.1,885.8 1232.3,881.5 1232.6,882.1 1232.9,875.7 1233.2,886.8 1233.5,881 1233.8,881.9 1234,881.8 1234.3,882.3 1234.6,881.4 1234.9,879.7 1235.2,887.9 1235.5,880.3 1235.7,884 1236,886.5 1236.3,889.6 1236.6,889.7 1236.9,884.4 1237.2,888 1237.5,888.2 1237.7,886.5 1238,885.1 1238.3,886.9 1238.6,889.2 1238.9,887.9 1239.2,886.7 1239.4,889.7 1239.7,883.7 1240,882.8 1240.3,883 1240.6,888.3 1240.9,888.6 1241.1,890.7 1241.4,883.6 1241.7,889.7 1242,881.7 1242.3,895.3 1242.6,888.2 1242.8,887.5 1243.1,889.3 1243.4,887.7 1243.7,883.6 1244,890.2 1244.3,887.7 1244.5,891.9 1244.8,894.8 1245.1,894.4 1245.4,888.5 1245.7,890.4 1246,896.4 1246.2,890.9 1246.5,890.2 1246.8,890.8 1247.1,889 1247.4,897.6 1247.7,896.1 1247.9,896.8 1248.2,893 1248.5,889.5 1248.8,895.4 1249.1,893 1249.4,891.6 1249.7,896.1 1249.9,892.2 1250.2,895.4 1250.5,889.6 1250.8,891 1251.1,897.2 1251.4,897.7 1251.6,890.3 1251.9,899.3 1252.2,892.9 1252.5,898.2 1252.8,900.9 1253.1,891.8 1253.3,896.1 1253.6,901.2 1253.9,898.8 1254.2,900.7 1254.5,901.7 1254.8,899 1255,895.4 1255.3,903.9 1255.6,897.8 1255.9,904.5 1256.2,900.1 1256.5,905 1256.7,904.9 1257,902.9 1257.3,897.6 1257.6,898.3 1257.9,901.8 1258.2,902.6 1258.4,901.4 1258.7,892.9 1259,901.1 1259.3,902.9 1259.6,904.4 1259.9,904 1260.1,901.1 1260.4,901.5 1260.7,912 1261,897 1261.3,902.6 1261.6,904.7 1261.9,895.8 1262.1,910.1 1262.4,909.3 1262.7,901.5 1263,905.5 1263.3,902.7 1263.6,901.8 1263.8,900.1 1264.1,904.1 1264.4,908.8 1264.7,912.7 1265,906.6 1265.3,913.4 1265.5,907.3 1265.8,910.5 1266.1,906.7 1266.4,905.8 1266.7,908.6 1267,913.5 1267.2,908.4 1267.5,911.6 1267.8,908.3 1268.1,911.2 1268.4,902 1268.7,911.9 1268.9,917.1 1269.2,913.7 1269.5,910.4 1269.8,901.6 1270.1,906.4 1270.4,913.4 1270.6,911.6 1270.9,916.1 1271.2,917.2 1271.5,909 1271.8,911.1 1272.1,915.4 1272.3,915.5 1272.6,911.7 1272.9,911 1273.2,916.5 1273.5,920 1273.8,910.9 1274.1,916.9 1274.3,921.1 1274.6,915.4 1274.9,914.2 1275.2,911.8 1275.5,916.9 1275.8,914.6 1276,920.4 1276.3,914.4 1276.6,921.9 1276.9,914.3 1277.2,916.1 1277.5,922.5 1277.7,919.4 1278,911.6 1278.3,921.4 1278.6,923.8 1278.9,919.1 1279.2,917.7 1279.4,915.6 1279.7,919.2 1280,920.6 1280.3,920 1280.6,916.6 1280.9,920.2 1281.1,917.8 1281.4,926.6 1281.7,921.5 1282,920.8 1282.3,917 1282.6,919.2 1282.8,920.3 1283.1,917.5 1283.4,920.9 1283.7,910.8 1284,925.3 1284.3,921.7 1284.5,915.8 1284.8,919.8 1285.1,921.7 1285.4,919.4 1285.7,924.9 1286,923 1286.3,923 1286.5,916.9 1286.8,922.9 1287.1,916.9 1287.4,924.6 1287.7,923.7 1288,931.3 1288.2,922.9 1288.5,932.8 1288.8,923.1 1289.1,922.2 1289.4,924.5 1289.7,930.2 1289.9,927.5 1290.2,936.9 1290.5,929.6 1290.8,926.3 1291.1,927.3 1291.4,928.9 1291.6,923 1291.9,926.7 1292.2,928.2 1292.5,927.7 1292.8,932.7 1293.1,929.6 1293.3,936.6 1293.6,940.1 1293.9,930.9 1294.2,926.4 1294.5,934.2 1294.8,928.8 1295,937.2 1295.3,930.8 1295.6,930.8 1295.9,931.1 1296.2,936.8 1296.5,929.4 1296.7,929.1 1297,929.9 1297.3,923.8 1297.6,933.7 1297.9,931.8 1298.2,928.2 1298.5,938.1 1298.7,936.6 1299,929.2 1299.3,934.9 1299.6,936.8 1299.9,932.1 1300.2,939.4 1300.4,933.8 1300.7,938.6 1301,937.3 1301.3,945.5 1301.6,934.4 1301.9,934.5 1302.1,936.3 1302.4,938.4 1302.7,935.2 1303,930.7 1303.3,933.1 1303.6,939.4 1303.8,935.9 1304.1,938 1304.4,935.2 1304.7,940.6 1305,932.1 1305.3,940.9 1305.5,942 1305.8,937 1306.1,932.3 1306.4,945.3 1306.7,938.7 1307,936.7 1307.2,929.3 1307.5,945.4 1307.8,935.4 1308.1,942.8 1308.4,941.4 1308.7,936.7 1308.9,940.3 1309.2,946.1 1309.5,941.8 1309.8,942.7 1310.1,940.7 1310.4,945.3 1310.7,944.5 1310.9,943.4 1311.2,942.1 1311.5,943.1 1311.8,941 1312.1,940.4 1312.4,941.8 1312.6,945.9 1312.9,949.7 1313.2,947.3 1313.5,946.7 1313.8,945.2 1314.1,940.9 1314.3,945 1314.6,948.7 1314.9,950.4 1315.2,945.8 1315.5,946.6 1315.8,950 1316,952.7 1316.3,947.6 1316.6,944.9 1316.9,945.8 1317.2,952.7 1317.5,948.8 1317.7,948 1318,951.4 1318.3,948 1318.6,950.5 1318.9,944.4 1319.2,950.9 1319.4,942.2 1319.7,944.7 1320,947.3 1320.3,947.9 1320.6,943.6 1320.9,950.8 1321.2,947.8 1321.4,950.7 1321.7,943.8 1322,951.3 1322.3,951.3 1322.6,961.5 1322.9,949.7 1323.1,952.3 1323.4,948.8 1323.7,957.3 1324,955 1324.3,946.5 1324.6,955 1324.8,951.3 1325.1,948.6 1325.4,952.1 1325.7,952.4 1326,948 1326.3,955.2 1326.5,950.9 1326.8,954.5 1327.1,958.3 1327.4,953.7 1327.7,948.7 1328,954.9 1328.2,957.3 1328.5,955.5 1328.8,956.8 1329.1,952.9 1329.4,959.4 1329.7,951.8 1329.9,953.9 1330.2,950.9 1330.5,957.9 1330.8,952.4 1331.1,960.5 1331.4,954.1 1331.6,957.7 1331.9,961.7 1332.2,954 1332.5,951.5 1332.8,950.4 1333.1,955.9 1333.4,959 1333.6,952.2 1333.9,962.3 1334.2,958 1334.5,965 1334.8,958.4 1335.1,958.1 1335.3,961 1335.6,955.3 1335.9,960.3 1336.2,958 1336.5,957.9 1336.8,960.8 1337,971.6 1337.3,962.5 1337.6,960.2 1337.9,965.4 1338.2,961.1 1338.5,967.9 1338.7,959.1 1339,959.3 1339.3,960.4 1339.6,964.4 1339.9,961.3 1340.2,968.1 1340.4,966.3 1340.7,961.3 1341,966.2 1341.3,964.6 1341.6,963.8 1341.9,959.5 1342.1,967 1342.4,966.7 1342.7,967.5 1343,971.9 1343.3,964.1 1343.6,974.2 1343.8,968.8 1344.1,960.1 1344.4,965.7 1344.7,975.9 1345,970.5 1345.3,959.4 1345.6,967.7 1345.8,959 1346.1,969.3 1346.4,978 1346.7,966.2 1347,968.5 1347.3,966.5 1347.5,972.5 1347.8,972.8 1348.1,970.9 1348.4,973.2 1348.7,965.1 1349,964.2 1349.2,970 1349.5,965.3 1349.8,972.5 1350.1,971 1350.4,977.3 1350.7,964.7 1350.9,972.6 1351.2,965.1 1351.5,965.3 1351.8,968.5 1352.1,969.9 1352.4,975.6 1352.6,967.6 1352.9,968.8 1353.2,966.9 1353.5,970.2 1353.8,977.4 1354.1,977.1 1354.3,968.3 1354.6,965.5 1354.9,973.8 1355.2,973.2 1355.5,971.6 1355.8,972.3 1356,972.1 1356.3,974.8 1356.6,973 1356.9,976.5 1357.2,974.7 1357.5,971.5 1357.8,974.4 1358,977.6 1358.3,973.7 1358.6,980.1 1358.9,978.3 1359.2,980.3 1359.5,974.6 1359.7,973.2 1360,977.8 1360.3,980.4 1360.6,974.5 1360.9,975.6 1361.2,984.1 1361.4,972.9 1361.7,973.3 1362,978.7 1362.3,978 1362.6,978.4 1362.9,980.3 1363.1,976.4 1363.4,981.8 1363.7,980.1 1364,978.3 1364.3,986.9 1364.6,981.7 1364.8,985.3 1365.1,981.8 1365.4,982.3 1365.7,981.1 1366,979.8 1366.3,985.3 1366.5,979.6 1366.8,989 1367.1,977.2 1367.4,981.9 1367.7,978.2 1368,990.8 1368.2,976 1368.5,983.6 1368.8,981 1369.1,982.2 1369.4,983.2 1369.7,985.2 1370,992.6 1370.2,977.9 1370.5,975.3 1370.8,986.5 1371.1,977.9 1371.4,979.8 1371.7,982.6 1371.9,985 1372.2,981.8 1372.5,987.6 1372.8,986.4 1373.1,987.5 1373.4,988.6 1373.6,987.9 1373.9,982.8 1374.2,982.7 1374.5,989.6 1374.8,986.4 1375.1,987.1 1375.3,994.6 1375.6,981.5 1375.9,991.9 1376.2,981.8 1376.5,998.3 1376.8,990.9 1377,984 1377.3,985.6 1377.6,985.5 1377.9,988.1 1378.2,978.9 1378.5,988 1378.7,986.9 1379,992 1379.3,992.5 1379.6,982.7 1379.9,982.9 1380.2,998 1380.4,992.1 1380.7,983.9 1381,989.4 1381.3,985.5 1381.6,998.8 1381.9,989.4 1382.2,990.4 1382.4,990.3 1382.7,993.9 1383,991.2 1383.3,983.1 1383.6,996.5 1383.9,991.8 1384.1,993.1 1384.4,993.1 1384.7,983.8 1385,985 1385.3,994.2 1385.6,990.1 1385.8,996.7 1386.1,991.4 1386.4,994.9 1386.7,986.5 1387,991.3 1387.3,998.7 1387.5,1002.6 1387.8,999.4 1388.1,984.5 1388.4,999.1 1388.7,1001.5 1389,998 1389.2,997.3 1389.5,992.2 1389.8,998.9 1390.1,987.7 1390.4,995.6 1390.7,994.3 1390.9,989.3 1391.2,995.3 1391.5,994.8 1391.8,993.4 1392.1,1000.2 1392.4,999.4 1392.6,993.8 1392.9,1001 1393.2,1000.1 1393.5,993.1 1393.8,994.9 1394.1,996.3 1394.4,1003.7 1394.6,989 1394.9,999.2 1395.2,1000.2 1395.5,999.7 1395.8,1003.1 1396.1,1000.5 1396.3,990 1396.6,1007 1396.9,989.3 1397.2,1004.6 1397.5,1004.8 1397.8,993.8 1398,991.4 1398.3,1002.6 1398.6,996.8 1398.9,1004.9 1399.2,1003 1399.5,1005.2 1399.7,1001 1400,1005 1400.3,1001.4 1400.6,1003.9 1400.9,1002.4 1401.2,1002.3 1401.4,1006.2 1401.7,1004.9 1402,1009 1402.3,1001 1402.6,1000 1402.9,1005.6 1403.1,1005.4 1403.4,1007 1403.7,1006.7 1404,1003.9 1404.3,1013.4 1404.6,1012.3 1404.8,1004.8 1405.1,1001 1405.4,1009 1405.7,1001.8 1406,1001.3 1406.3,1005.5 1406.6,995.6 1406.8,1007 1407.1,1005.9 1407.4,1012.5 1407.7,1012.1 1408,1006.6 1408.3,1004.4 1408.5,1008.5 1408.8,1007.9 1409.1,1007.3 1409.4,1004.4 1409.7,1017 1410,1004.6 1410.2,1012.9 1410.5,1006.4 1410.8,1005.2 1411.1,1016.4 1411.4,1004 1411.7,1009.3 1411.9,1012.5 1412.2,1001.3 1412.5,1016.7 1412.8,1018.2 1413.1,1009.6 1413.4,1008.6 1413.6,1012.1 1413.9,1008.3 1414.2,1023.8 1414.5,1006.5 1414.8,1010.7 1415.1,1017.4 1415.3,1018.1 1415.6,1009.8 1415.9,1010.2 1416.2,1015.8 1416.5,1012 1416.8,1012.5 1417,1007.5 1417.3,1017.8 1417.6,1008.1 1417.9,1012.7 1418.2,1013.1 1418.5,1010.9 1418.8,1016.2 1419,1021.3 1419.3,1022.6 1419.6,1009.1 1419.9,1023.5 1420.2,1009.3 1420.5,1018.3 1420.7,1009.3 1421,1019.8 1421.3,1013.6 1421.6,1014.4 1421.9,1011.5 1422.2,1017.7 1422.4,1013.5 1422.7,1008.1 1423,1023.2 1423.3,1011 1423.6,1021.9 1423.9,1011.6 1424.1,1018.7 1424.4,1009.6 1424.7,1018.3 1425,1019.8 1425.3,1012 1425.6,1018.7 1425.8,1018.7 1426.1,1012.9 1426.4,1010.7 1426.7,1013.7 1427,1028.4 1427.3,1016.6 1427.5,1017 1427.8,1014.2 1428.1,1013.4 1428.4,1013.7 1428.7,1016.5 1429,1009 1429.2,1020 1429.5,1022.9 1429.8,1026.2 1430.1,1021.6 1430.4,1015.8 1430.7,1019.8 1431,1013 1431.2,1020.3 1431.5,1023.2 1431.8,1012.9 1432.1,1021.7 1432.4,1015 1432.7,1033.1 1432.9,1028.1 1433.2,1024.1 1433.5,1027 1433.8,1020.4 1434.1,1021.4 1434.4,1020.8 1434.6,1026.8 1434.9,1026.9 1435.2,1026 1435.5,1015.1 1435.8,1024.4 1436.1,1018.4 1436.3,1027.7 1436.6,1031.2 1436.9,1023.1 1437.2,1019 1437.5,1033.2 1437.8,1027.2 1438,1021.3 1438.3,1026.2 1438.6,1026.6 1438.9,1021.2 1439.2,1024.5 1439.5,1024.6 1439.7,1028.4 1440,1024.4 1440.3,1028.7 1440.6,1018.9 1440.9,1043.8 1441.2,1025.9 1441.4,1022.9 1441.7,1032 1442,1023.9 1442.3,1031 1442.6,1023.7 1442.9,1019 1443.2,1029 1443.4,1016.5 1443.7,1028.1 1444,1041.8 1444.3,1030.6 1444.6,1027.9 1444.9,1027.5 1445.1,1029 1445.4,1027 1445.7,1030.3 1446,1022.5 1446.3,1027.9 1446.6,1030.5 1446.8,1020.4 1447.1,1037.2 1447.4,1040.8 1447.7,1034.2 1448,1045.1 1448.3,1028.1 1448.5,1032.6 1448.8,1020.2 1449.1,1036.4 1449.4,1038.1 1449.7,1028 1450,1028.4 1450.2,1028.4 1450.5,1035.3 1450.8,1035.5 1451.1,1029.5 1451.4,1033.5 1451.7,1029.7 1451.9,1026.9 1452.2,1034.6 1452.5,1030.2 1452.8,1044.3 1453.1,1025.1 1453.4,1025.6 1453.6,1032.9 1453.9,1035.1 1454.2,1033.2 1454.5,1032.8 1454.8,1034.6 1455.1,1038 1455.4,1032.9 1455.6,1028.2 1455.9,1045.7 1456.2,1037.8 1456.5,1039.7 1456.8,1041.7 1457.1,1035.6 1457.3,1048.3 1457.6,1038.2 1457.9,1031.5 1458.2,1031.4 1458.5,1032.7 1458.8,1034.7 1459,1032.2 1459.3,1036 1459.6,1034.3 1459.9,1033.1 1460.2,1029.2 1460.5,1031.8 1460.7,1032.7 1461,1046.1 1461.3,1036.3 1461.6,1037 1461.9,1041.1 1462.2,1044.1 1462.4,1034.9 1462.7,1038.2 1463,1040.5 1463.3,1045.2 1463.6,1043.4 1463.9,1042.3 1464.1,1037.9 1464.4,1030.9 1464.7,1038.8 1465,1051.7 1465.3,1037.9 1465.6,1037.9 1465.8,1046.5 1466.1,1048.5 1466.4,1041 1466.7,1037.1 1467,1039.1 1467.3,1033.1 1467.6,1042.6 1467.8,1041.9 1468.1,1047.2 1468.4,1037 1468.7,1041.4 1469,1039.6 1469.3,1056.3 1469.5,1053.5 1469.8,1041.2 1470.1,1040.1 1470.4,1046.1 1470.7,1045.6 1471,1040 1471.2,1048.9 1471.5,1044.3 1471.8,1050.1 1472.1,1048.1 1472.4,1040.3 1472.7,1055.3 1472.9,1049.5 1473.2,1060.3 1473.5,1043.7 1473.8,1044.5 1474.1,1030.3 1474.4,1048.3 1474.6,1044.8 1474.9,1040.2 1475.2,1042.6 1475.5,1048.2 1475.8,1039.8 1476.1,1063.4 1476.3,1044.3 1476.6,1051.5 1476.9,1051.9 1477.2,1053.7 1477.5,1045.8 1477.8,1054 1478.1,1047.2 1478.3,1038.6 1478.6,1052.6 1478.9,1048 1479.2,1052.3 1479.5,1056.8 1479.8,1045.8 1480,1042.4 1480.3,1053.4 1480.6,1049.3 1480.9,1050.6 1481.2,1054.3 1481.5,1045.4 1481.7,1062.4 1482,1042 1482.3,1053.8 1482.6,1040.9 1482.9,1048.1 1483.2,1051.6 1483.4,1061.5 1483.7,1059.4 1484,1047.8 1484.3,1056.2 1484.6,1046.9 1484.9,1059.9 1485.1,1046.2 1485.4,1052.6 1485.7,1050.3 1486,1058.1 1486.3,1055.5 1486.6,1050.2 1486.8,1052.4 1487.1,1059.3 1487.4,1052.5 1487.7,1062.9 1488,1042.6 1488.3,1050.9 1488.5,1057.3 1488.8,1056.3 1489.1,1060.9 1489.4,1054.3 1489.7,1072.3 1490,1055.3 1490.3,1045.7 1490.5,1068.6 1490.8,1054.7 1491.1,1059.2 1491.4,1057 1491.7,1063.3 1492,1050.6 1492.2,1064.4 1492.5,1050.9 1492.8,1050.5 1493.1,1055.6 1493.4,1053.5 1493.7,1069.3 1493.9,1061.2 1494.2,1073.2 1494.5,1053.9 1494.8,1051 1495.1,1067.2 1495.4,1056.8 1495.6,1059.6 1495.9,1070.2 1496.2,1060.6 1496.5,1058.1 1496.8,1052.8 1497.1,1059.5 1497.3,1055.1 1497.6,1047.9 1497.9,1052.4 1498.2,1064.1 1498.5,1056.2 1498.8,1049.6 1499,1043.9 1499.3,1054.9 1499.6,1052.7 1499.9,1054.4 1500.2,1047.9 1500.5,1054.4 1500.7,1053.7 1501,1065.9 1501.3,1062.4 1501.6,1070.2 1501.9,1066.2 1502.2,1059 1502.5,1054.4 1502.7,1054.8 1503,1058.4 1503.3,1048.8 1503.6,1069.5 1503.9,1061.8 1504.2,1053 1504.4,1059.6 1504.7,1061 1505,1056.4 1505.3,1066.9 1505.6,1066.9 1505.9,1065 1506.1,1051.9 1506.4,1071.1 1506.7,1066.9 1507,1050 1507.3,1061 1507.6,1065.2 1507.8,1075.7 1508.1,1062.9 1508.4,1064.3 1508.7,1058.5 1509,1069.7 1509.3,1068.9 1509.5,1059.6 1509.8,1071 1510.1,1055.6 1510.4,1066.3 1510.7,1062.8 1511,1069.2 1511.2,1055.6 1511.5,1069.5 1511.8,1058 1512.1,1069.3 1512.4,1063.8 1512.7,1071.9 1512.9,1061.8 1513.2,1057.3 1513.5,1070.1 1513.8,1056 1514.1,1066.5 1514.4,1071.9 1514.7,1065.7 1514.9,1070.4 1515.2,1066.2 1515.5,1071 1515.8,1078.2 1516.1,1060.6 1516.4,1066.9 1516.6,1070.7 1516.9,1064.9 1517.2,1077.7 1517.5,1070.5 1517.8,1064.8 1518.1,1060.8 1518.3,1068.2 1518.6,1064.2 1518.9,1081.2 1519.2,1070 1519.5,1064.7 1519.8,1062 1520,1077.9 1520.3,1060.8 1520.6,1055.8 1520.9,1069.5 1521.2,1082.2 1521.5,1066.8 1521.7,1067.1 1522,1074.2 1522.3,1063 1522.6,1060.7 1522.9,1078.4 1523.2,1078.9 1523.4,1070.6 1523.7,1065 1524,1080.8 1524.3,1078 1524.6,1074.9 1524.9,1078.6 1525.1,1075 1525.4,1067.4 1525.7,1079.7 1526,1069.4 1526.3,1074.1 1526.6,1076.1 1526.9,1083.7 1527.1,1073.1 1527.4,1071.3 1527.7,1080.2 1528,1069.2 1528.3,1068.8 1528.6,1074.3 1528.8,1081.2 1529.1,1076.2 1529.4,1069.7 1529.7,1070 1530,1076.5 1530.3,1077.5 1530.5,1071.4 1530.8,1072.1 1531.1,1070 1531.4,1083.9 1531.7,1077.5 1532,1071.2 1532.2,1081.8 1532.5,1076.4 1532.8,1082.1 1533.1,1071.3 1533.4,1069.2 1533.7,1081.1 1533.9,1063.3 1534.2,1072.6 1534.5,1080 1534.8,1074.8 1535.1,1081.3 1535.4,1071.9 1535.6,1079.6 1535.9,1084.5 1536.2,1080.6 1536.5,1087.5 1536.8,1095 1537.1,1089.1 1537.3,1076.2 1537.6,1083.7 1537.9,1077.6 1538.2,1083.4 1538.5,1080.8 1538.8,1078.6 1539.1,1075.3 1539.3,1087.4 1539.6,1086.7 1539.9,1080.8 1540.2,1071.3 1540.5,1079.7 1540.8,1082.8 1541,1082.8 1541.3,1083.5 1541.6,1086.2 1541.9,1076.5 1542.2,1070.5 1542.5,1080.7 1542.7,1092.4 1543,1095.3 1543.3,1070.6 1543.6,1095 1543.9,1068.5 1544.2,1080.2 1544.4,1084.4 1544.7,1078.1 1545,1083.5 1545.3,1073.3 1545.6,1087.3 1545.9,1082.1 1546.1,1087.9 1546.4,1081.1 1546.7,1079.3 1547,1093.8 1547.3,1096.2 1547.6,1078.6 1547.8,1080.1 1548.1,1082.3 1548.4,1090.3 1548.7,1093.7 1549,1092.8 1549.3,1085.9 1549.5,1092.9 1549.8,1093.1 1550.1,1084 1550.4,1075.8 1550.7,1074.3 1551,1085.2 1551.3,1079.5 1551.5,1083.8 1551.8,1084.7 1552.1,1087.9 1552.4,1091.7 1552.7,1091.2 1553,1086.2 1553.2,1078.5 1553.5,1097.4 1553.8,1092 1554.1,1096.4 1554.4,1084.1 1554.7,1073.1 1554.9,1085.6 1555.2,1098.1 1555.5,1086 1555.8,1076.5 1556.1,1094.9 1556.4,1106.1 1556.6,1104.2 1556.9,1087 1557.2,1103.9 1557.5,1080.2 1557.8,1108.1 1558.1,1091.9 1558.3,1100.1 1558.6,1085.3 1558.9,1088.8 1559.2,1087.1 1559.5,1086.6 1559.8,1097.3 1560,1091.1 1560.3,1098.4 1560.6,1094.7 1560.9,1091 1561.2,1095.3 1561.5,1102.7 1561.7,1102.2 1562,1101.3 1562.3,1100.9 1562.6,1101.5 1562.9,1084.2 1563.2,1087.9 1563.5,1091.6 1563.7,1084.5 1564,1090.4 1564.3,1097.5 1564.6,1086.4 1564.9,1090.9 1565.2,1109.9 1565.4,1079.8 1565.7,1095.7 1566,1107.7 1566.3,1086.2 1566.6,1094.4 1566.9,1094.3 1567.1,1085.9 1567.4,1089.7 1567.7,1093.5 1568,1094.4 1568.3,1095.4 1568.6,1097.5 1568.8,1106.4 1569.1,1089.2 1569.4,1096.6 1569.7,1097.6 1570,1091.8 1570.3,1102 1570.5,1100.2 1570.8,1092.7 1571.1,1099.2 1571.4,1105.7 1571.7,1105.5 1572,1078.9 1572.2,1102.1 1572.5,1083.5 1572.8,1103.7 1573.1,1096.1 1573.4,1102.1 1573.7,1107.6 1573.9,1101.5 1574.2,1085.2 1574.5,1105.1 1574.8,1107.1 1575.1,1097 1575.4,1107.4 1575.7,1106.1 1575.9,1111 1576.2,1093.7 1576.5,1095.8 1576.8,1119 1577.1,1096.1 1577.4,1102.8 1577.6,1101.8 1577.9,1106.9 1578.2,1100 1578.5,1097.3 1578.8,1107.8 1579.1,1102.1 1579.3,1102.5 1579.6,1108.3 1579.9,1106.5 1580.2,1103.4 1580.5,1096.9 1580.8,1107.8 1581,1103 1581.3,1096.1 1581.6,1093.7 1581.9,1114.3 1582.2,1102.1 1582.5,1105.4 1582.7,1107.8 1583,1109.3 1583.3,1092.5 1583.6,1097.2 1583.9,1106.3 1584.2,1103.8 1584.4,1105.3 1584.7,1106.2 1585,1099.2 1585.3,1108.5 1585.6,1100.1 1585.9,1116.1 1586.1,1103.6 1586.4,1106.4 1586.7,1109.9 1587,1102.8 1587.3,1105 1587.6,1108.4 1587.9,1097 1588.1,1107.2 1588.4,1107.9 1588.7,1110.5 1589,1099.1 1589.3,1100.2 1589.6,1125.2 1589.8,1113.9 1590.1,1104.8 1590.4,1100.7 1590.7,1103.9 1591,1108.4 1591.3,1097.6 1591.5,1111.7 1591.8,1107.3 1592.1,1108.1 1592.4,1107.4 1592.7,1115.3 1593,1110.5 1593.2,1103.7 1593.5,1101.7 1593.8,1103.1 1594.1,1105.7 1594.4,1111.1 1594.7,1104.7 1594.9,1109.7 1595.2,1108.6 1595.5,1106.6 1595.8,1116 1596.1,1106 1596.4,1102.3 1596.6,1122.6 1596.9,1112.8 1597.2,1113.4 1597.5,1099.7 1597.8,1110.2 1598.1,1106.8 1598.3,1106 1598.6,1117.2 1598.9,1121.6 1599.2,1103.8 1599.5,1102.8 1599.8,1105.8 1600.1,1106.3 1600.3,1117.7 1600.6,1117.9 1600.9,1112.6 1601.2,1108.1 1601.5,1115.4 1601.8,1115.4 1602,1109.7 1602.3,1102.2 1602.6,1125.6 1602.9,1115.4 1603.2,1125.3 1603.5,1128 1603.7,1106.2 1604,1122 1604.3,1111.8 1604.6,1106.6 1604.9,1109.7 1605.2,1122.4 1605.4,1112.3 1605.7,1115.7 1606,1120.7 1606.3,1117.9 1606.6,1119.7 1606.9,1108.5 1607.1,1116.1 1607.4,1119.2 1607.7,1113.3 1608,1113.4 1608.3,1112.1 1608.6,1109.5 1608.8,1122.5 1609.1,1121.1 1609.4,1109 1609.7,1122.5 1610,1112.2 1610.3,1135.1 1610.5,1117.9 1610.8,1124.4 1611.1,1119.6 1611.4,1115.2 1611.7,1133.9 1612,1130.4 1612.3,1118.9 1612.5,1127.9 1612.8,1117.3 1613.1,1118.6 1613.4,1127.3 1613.7,1112.7 1614,1114.3 1614.2,1116.5 1614.5,1124.2 1614.8,1124.1 1615.1,1131.2 1615.4,1136.7 1615.7,1123.3 1615.9,1115.3 1616.2,1122.7 1616.5,1116.6 1616.8,1125.3 1617.1,1124.6 1617.4,1124.6 1617.6,1112.6 1617.9,1130.5 1618.2,1127 1618.5,1116.2 1618.8,1114.8 1619.1,1117.5 1619.3,1103.7 1619.6,1123.3 1619.9,1122.4 1620.2,1127 1620.5,1125.2 1620.8,1110.1 1621,1115.2 1621.3,1125.7 1621.6,1113.6 1621.9,1130.6 1622.2,1110.3 1622.5,1126.6 1622.7,1117.7 1623,1134.3 1623.3,1122.8 1623.6,1127.4 1623.9,1126.1 1624.2,1125.3 1624.5,1138.2 1624.7,1138 1625,1114.8 1625.3,1134.4 1625.6,1143.5 1625.9,1122.1 1626.2,1125.6 1626.4,1124.5 1626.7,1129.4 1627,1120.9 1627.3,1119.3 1627.6,1128 1627.9,1123.3 1628.1,1142.4 1628.4,1128.8 1628.7,1134.1 1629,1136.1 1629.3,1120 1629.6,1145 1629.8,1125.6 1630.1,1138.8 1630.4,1119.5 1630.7,1126.9 1631,1121.3 1631.3,1130.3 1631.5,1140.1 1631.8,1111 1632.1,1130 1632.4,1137.8 1632.7,1120.6 1633,1113.6 1633.2,1128.9 1633.5,1133 1633.8,1124.3 1634.1,1122.7 1634.4,1122.3 1634.7,1132 1634.9,1129.9 1635.2,1126.4 1635.5,1115.3 1635.8,1120.5 1636.1,1134.9 1636.4,1127 1636.7,1124.1 1636.9,1135.4 1637.2,1155.9 1637.5,1130.1 1637.8,1135.4 1638.1,1129.3 1638.4,1128.4 1638.6,1130.3 1638.9,1131.4 1639.2,1123.4 1639.5,1135.4 1639.8,1144.3 1640.1,1151.4 1640.3,1128 1640.6,1143.5 1640.9,1133.8 1641.2,1132.1 1641.5,1126.5 1641.8,1126.1 1642,1132.5 1642.3,1132.6 1642.6,1120.6 1642.9,1151.4 1643.2,1135.2 1643.5,1140.2 1643.7,1135 1644,1120.4 1644.3,1138 1644.6,1144.5 1644.9,1146.4 1645.2,1134.7 1645.4,1140.4 1645.7,1143.3 1646,1125.9 1646.3,1119.2 1646.6,1139.2 1646.9,1142.5 1647.2,1130.6 1647.4,1138.5 1647.7,1129.1 1648,1127.2 1648.3,1132.1 1648.6,1134.8 1648.9,1143.5 1649.1,1128.6 1649.4,1127.1 1649.7,1148.1 1650,1141.4 1650.3,1132.6 1650.6,1134.7 1650.8,1127.8 1651.1,1145.4 1651.4,1139.2 1651.7,1137.6 1652,1137.5 1652.3,1129.1 1652.5,1131.4 1652.8,1126.6 1653.1,1138.5 1653.4,1142.5 1653.7,1131.8 1654,1135.1 1654.2,1148.1 1654.5,1148.6 1654.8,1137.3 1655.1,1131.5 1655.4,1147.6 1655.7,1125.8 1655.9,1134.9 1656.2,1139.6 1656.5,1130.6 1656.8,1139.4 1657.1,1152.5 1657.4,1144.3 1657.6,1133.8 1657.9,1133.8 1658.2,1144.7 1658.5,1142.4 1658.8,1141.8 1659.1,1158.3 1659.4,1148 1659.6,1147.4 1659.9,1135.8 1660.2,1153.6 1660.5,1136.4 1660.8,1144.4 1661.1,1144.6 1661.3,1159.6 1661.6,1131 1661.9,1125.8 1662.2,1157.2 1662.5,1147.6 1662.8,1164.3 1663,1144.1 1663.3,1143.3 1663.6,1142.8 1663.9,1157.1 1664.2,1128.4 1664.5,1137.3 1664.7,1159.7 1665,1151.9 1665.3,1147.8 1665.6,1146.1 1665.9,1131.9 1666.2,1155.2 1666.4,1150.6 1666.7,1148.5 1667,1148.5 1667.3,1146.9 1667.6,1143.5 1667.9,1131.9 1668.1,1135.2 1668.4,1143.1 1668.7,1159.7 1669,1155.3 1669.3,1155.4 1669.6,1148.6 1669.8,1157.6 1670.1,1153.1 1670.4,1140.9 1670.7,1137.4 1671,1149.5 1671.3,1136 1671.6,1174.8 1671.8,1148.6 1672.1,1153.7 1672.4,1142.4 1672.7,1150 1673,1147 1673.3,1144.8 1673.5,1150.8 1673.8,1144.3 1674.1,1153.5 1674.4,1160.7 1674.7,1155.6 1675,1148.5 1675.2,1154.4 1675.5,1156.7 1675.8,1166.1 1676.1,1158.7 1676.4,1145.5 1676.7,1147.5 1676.9,1144.5 1677.2,1154.8 1677.5,1153.1 1677.8,1145.4 1678.1,1161.4 1678.4,1127.9 1678.6,1161.2 1678.9,1147.1 1679.2,1138.8 1679.5,1158.4 1679.8,1176.5 1680.1,1166.5 1680.3,1173.6 1680.6,1174.5 1680.9,1137.8 1681.2,1145.3 1681.5,1146.2 1681.8,1161.9 1682,1153.2 1682.3,1157.9 1682.6,1156.3 1682.9,1156.3 1683.2,1145.1 1683.5,1151.4 1683.8,1152.8 1684,1156.3 1684.3,1169.7 1684.6,1150.9 1684.9,1154.2 1685.2,1139.9 1685.5,1172.5 1685.7,1164.4 1686,1155.1 1686.3,1151.8 1686.6,1151.3 1686.9,1156.6 1687.2,1161.3 1687.4,1155.3 1687.7,1141.1 1688,1148.2 1688.3,1168 1688.6,1161.3 1688.9,1173 1689.1,1167.6 1689.4,1149.3 1689.7,1146.1 1690,1163.4 1690.3,1151.3 1690.6,1168.7 1690.8,1149 1691.1,1161.4 1691.4,1159.6 1691.7,1165.5 1692,1163.5 1692.3,1142.6 1692.5,1154.9 1692.8,1153.1 1693.1,1161.9 1693.4,1161.7 1693.7,1162.2 1694,1167.6 1694.2,1153.2 1694.5,1169 1694.8,1153.8 1695.1,1147.3 1695.4,1152.8 1695.7,1169.8 1696,1146.3 1696.2,1168.3 1696.5,1162.7 1696.8,1165.3 1697.1,1169.2 1697.4,1170.6 1697.7,1165.3 1697.9,1161.5 1698.2,1160 1698.5,1175.2 1698.8,1148.5 1699.1,1159.5 1699.4,1160.7 1699.6,1160.8 1699.9,1155.1 1700.2,1157.8 1700.5,1159.9 1700.8,1170 1701.1,1156.5 1701.3,1162.8 1701.6,1162.9 1701.9,1166 1702.2,1159.7 1702.5,1159.3 1702.8,1160.4 1703,1149.2 1703.3,1156.1 1703.6,1162.9 1703.9,1159.6 1704.2,1179.7 1704.5,1156.6 1704.7,1168.5 1705,1171.6 1705.3,1159.2 1705.6,1174.5 1705.9,1158.9 1706.2,1171.2 1706.4,1178.6 1706.7,1167.2 1707,1158.2 1707.3,1171 1707.6,1160.2 1707.9,1166.7 1708.2,1165.9 1708.4,1157.6 1708.7,1165.9 1709,1143.2 1709.3,1169.5 1709.6,1175.1 1709.9,1186.2 1710.1,1178.9 1710.4,1167.9 1710.7,1185 1711,1181.8 1711.3,1164 1711.6,1170.7 1711.8,1177.3 1712.1,1185.3 1712.4,1176.3 1712.7,1170.8 1713,1171.7 1713.3,1171.2 1713.5,1172.3 1713.8,1173.4 1714.1,1166.5 1714.4,1161.2 1714.7,1163.9 1715,1175 1715.2,1162.4 1715.5,1165.6 1715.8,1165.7 1716.1,1164.4 1716.4,1164.7 1716.7,1181 1716.9,1170.7 1717.2,1174.4 1717.5,1181 1717.8,1146.4 1718.1,1174 1718.4,1178.8 1718.6,1166.7 1718.9,1174 1719.2,1176.6 1719.5,1169.6 1719.8,1165.9 1720.1,1168.4 1720.4,1165.2 1720.6,1180.3 1720.9,1181.3 1721.2,1160.3 1721.5,1183 1721.8,1167.9 1722.1,1176.9 1722.3,1186.7 1722.6,1168 1722.9,1166.2 1723.2,1197.1 1723.5,1181.9 1723.8,1173.2 1724,1194.5 1724.3,1170 1724.6,1196.5 1724.9,1162.1 1725.2,1185.4 1725.5,1174 1725.7,1189.2 1726,1163.7 1726.3,1180.1 1726.6,1184.6 1726.9,1174.7 1727.2,1178.7 1727.4,1206.3 1727.7,1182.1 1728,1174.4 1728.3,1185.6 1728.6,1174.9 1728.9,1179.3 1729.1,1169.7 1729.4,1182.1 1729.7,1163.6 1730,1183 1730.3,1178 1730.6,1181.9 1730.8,1189 1731.1,1179 1731.4,1184.2 1731.7,1170.4 1732,1178.9 1732.3,1169.8 1732.6,1170.1 1732.8,1182.4 1733.1,1180 1733.4,1155.4 1733.7,1169.6 1734,1176.1 1734.3,1163.3 1734.5,1185.6 1734.8,1194.7 1735.1,1170.1 1735.4,1182.9 1735.7,1195.8 1736,1187 1736.2,1179 1736.5,1190.2 1736.8,1179.3 1737.1,1173.9 1737.4,1175.6 1737.7,1170.2 1737.9,1195.3 1738.2,1160.7 1738.5,1203 1738.8,1188.6 1739.1,1193.4 1739.4,1175.8 1739.6,1179.2 1739.9,1169.2 1740.2,1172.4 1740.5,1174.3 1740.8,1182.3 1741.1,1178.2 1741.3,1185 1741.6,1172.1 1741.9,1175.8 1742.2,1170.5 1742.5,1180.8 1742.8,1184 1743,1177.1 1743.3,1187.3 1743.6,1185.2 1743.9,1192 1744.2,1178.2 1744.5,1181.2 1744.8,1190.1 1745,1165.7 1745.3,1178.6 1745.6,1186.3 1745.9,1193.3 1746.2,1192.8 1746.5,1186 1746.7,1201.8 1747,1194 1747.3,1183.2 1747.6,1177.4 1747.9,1197.4 1748.2,1174.9 1748.4,1178.3 1748.7,1196.6 1749,1200.9 1749.3,1180.8 1749.6,1180.4 1749.9,1189 1750.1,1179.7 1750.4,1159.3 1750.7,1187.2 1751,1174 1751.3,1192.1 1751.6,1201.6 1751.8,1197.9 1752.1,1204 1752.4,1178 1752.7,1185.6 1753,1183.8 1753.3,1182.6 1753.5,1195.2 1753.8,1187.3 1754.1,1193.3 1754.4,1192.4 1754.7,1200 1755,1205.4 1755.2,1189.3 1755.5,1197.5 1755.8,1196.7 1756.1,1180.5 1756.4,1188.3 1756.7,1190.1 1757,1192.2 1757.2,1191.2 1757.5,1180.6 1757.8,1193.9 1758.1,1174.9 1758.4,1177.5 1758.7,1204 1758.9,1194.4 1759.2,1182.3 1759.5,1199.1 1759.8,1208.3 1760.1,1188.8 1760.4,1178.6 1760.6,1209.1 1760.9,1182.1 1761.2,1206.1 1761.5,1201.4 1761.8,1188.5 1762.1,1196.4 1762.3,1198.5 1762.6,1197.2 1762.9,1213.2 1763.2,1180 1763.5,1198.3 1763.8,1204.9 1764,1206.1 1764.3,1189 1764.6,1191.6 1764.9,1213.4 1765.2,1199.8 1765.5,1210.3 1765.7,1191.3 1766,1201.9 1766.3,1189.5 1766.6,1189.1 1766.9,1185 1767.2,1199.5 1767.4,1200.6 1767.7,1194.3 1768,1186.8 1768.3,1199.9 1768.6,1200.8 1768.9,1186.8 1769.2,1215.9 1769.4,1182.5 1769.7,1197.8 1770,1193.3 1770.3,1186.2 1770.6,1205.5 1770.9,1194.5 1771.1,1185.6 1771.4,1194.1 1771.7,1189.8 1772,1204.3 1772.3,1190.2 1772.6,1195.6 1772.8,1201.8 1773.1,1211.7 1773.4,1193.7 1773.7,1209.2 1774,1195 1774.3,1184.4 1774.5,1202.2 1774.8,1195 1775.1,1210.4 1775.4,1191.4 1775.7,1221.9 1776,1199.2 1776.2,1211.8 1776.5,1210 1776.8,1210 1777.1,1184.6 1777.4,1209.6 1777.7,1186.5 1777.9,1201.3 1778.2,1207.7 1778.5,1201.2 1778.8,1202.6 1779.1,1202.2 1779.4,1191.1 1779.6,1219.6 1779.9,1198.4 1780.2,1201.8 1780.5,1197.7 1780.8,1209.6 1781.1,1184.8 1781.4,1198.3 1781.6,1212 1781.9,1206.9 1782.2,1205 1782.5,1207.6 1782.8,1193.4 1783.1,1214.5 1783.3,1179.3 1783.6,1207.9 1783.9,1204.9 1784.2,1205.1 1784.5,1197.6 1784.8,1227.4 1785,1204.2 1785.3,1196.4 1785.6,1207.8 1785.9,1199.8 1786.2,1187.3 1786.5,1215.8 1786.7,1213.4 1787,1205 1787.3,1202.9 1787.6,1205.7 1787.9,1214.5 1788.2,1212.9 1788.4,1210.8 1788.7,1201 1789,1181.7 1789.3,1204.7 1789.6,1222.7 1789.9,1189.5 1790.1,1210.3 1790.4,1198.3 1790.7,1201.9 1791,1207.3 1791.3,1205.4 1791.6,1231 1791.8,1196.6 1792.1,1235.8 1792.4,1192.7 1792.7,1208.5 1793,1229.5 1793.3,1204 1793.6,1190.3 1793.8,1191 1794.1,1202.1 1794.4,1201.7 1794.7,1205 1795,1198.8 1795.3,1210.4 1795.5,1200.9 1795.8,1221.4 1796.1,1204 1796.4,1223.2 1796.7,1221.2 1797,1194.9 1797.2,1206.4 1797.5,1189.7 1797.8,1220.3 1798.1,1230.6 1798.4,1221.1 1798.7,1200.4 1798.9,1202.5 1799.2,1226.1 1799.5,1216.4 1799.8,1209.2 1800.1,1215.6 1800.4,1235.9 1800.6,1185.6 1800.9,1190.3 1801.2,1202.7 1801.5,1222.9 1801.8,1231.9 1802.1,1203.6 1802.3,1205.8 1802.6,1200.3 1802.9,1198.8 1803.2,1215.1 1803.5,1215.8 1803.8,1210.8 1804.1,1215.6 1804.3,1226.2 1804.6,1213 1804.9,1199.8 1805.2,1212.5 1805.5,1209.8 1805.8,1194.1 1806,1220.2 1806.3,1213.6 1806.6,1216.5 1806.9,1214.4 1807.2,1210.1 1807.5,1225.8 1807.7,1215.9 1808,1191.9 1808.3,1226.7 1808.6,1211.6 1808.9,1200.2 1809.2,1194 1809.4,1206.3 1809.7,1226.5 1810,1218.5 1810.3,1201.8 1810.6,1202.2 1810.9,1222 1811.1,1216.4 1811.4,1201.4 1811.7,1227.9 1812,1200.6 1812.3,1238.7 1812.6,1229.2 1812.8,1210.6 1813.1,1211.7 1813.4,1229.4 1813.7,1198.4 1814,1226.5 1814.3,1213.3 1814.5,1198.4 1814.8,1211.9 1815.1,1205.2 1815.4,1231.4 1815.7,1224.2 1816,1233.3 1816.3,1215.8 1816.5,1219.1 1816.8,1226.9 1817.1,1211.9 1817.4,1224.2 1817.7,1206 1818,1214 1818.2,1225.3 1818.5,1211.3 1818.8,1217.3 1819.1,1203.3 1819.4,1231.6 1819.7,1208.6 1819.9,1221.7 1820.2,1229.8 1820.5,1210 1820.8,1232.4 1821.1,1223.6 1821.4,1218.7 1821.6,1212.6 1821.9,1219.1 1822.2,1231.3 1822.5,1216.7 1822.8,1240.5 1823.1,1241.4 1823.3,1234.6 1823.6,1215.5 1823.9,1232 1824.2,1219.1 1824.5,1224.6 1824.8,1229.1 1825,1224.6 1825.3,1204.1 1825.6,1212.2 1825.9,1223.2 1826.2,1225.1 1826.5,1249 1826.7,1210.2 1827,1221.5 1827.3,1215.7 1827.6,1208.7 1827.9,1228.9 1828.2,1205.7 1828.5,1244.3 1828.7,1230 1829,1234.7 1829.3,1233.6 1829.6,1210.7 1829.9,1217.4 1830.2,1216.2 1830.4,1232.9 1830.7,1221.3 1831,1245.7 1831.3,1218.5 1831.6,1244.1" stroke="#0a1cc4" stroke-width="3.2"/>
<polyline points="1067.5,1291.5 1067.5,655.5 1069.4,660.8 1071.3,665.9 1073.2,670.9 1075.1,675.8 1077,680.5 1078.8,685.1 1080.7,689.6 1082.6,694 1084.5,698.2 1086.4,702.4 1088.3,706.4 1090.2,710.3 1092.1,714.2 1094,717.9 1095.9,721.6 1097.8,725.1 1099.7,728.6 1101.5,732 1103.4,735.3 1105.3,738.5 1114.8,753.7 1124.2,767.4 1133.7,780 1143.2,791.7 1152.6,802.6 1162.1,813.1 1171.5,823 1181,832.6 1190.4,841.9 1199.9,850.9 1209.4,859.6 1218.8,868.1 1228.3,876.5 1237.7,884.6 1247.2,892.6 1256.7,900.3 1266.1,908 1275.6,915.4 1285,922.7 1294.5,929.9 1303.9,936.9 1313.4,943.8 1322.9,950.6 1332.3,957.2 1341.8,963.8 1351.2,970.2 1360.7,976.5 1370.1,982.7 1379.6,988.8 1389.1,994.8 1398.5,1000.7 1408,1006.6 1417.4,1012.3 1426.9,1018 1436.3,1023.6 1445.8,1029.1 1455.3,1034.6 1464.7,1040 1474.2,1045.4 1483.6,1050.6 1493.1,1055.9 1502.5,1061.1 1512,1066.2 1521.5,1071.3 1530.9,1076.4 1540.4,1081.4 1549.8,1086.4 1559.3,1091.4 1568.7,1096.3 1578.2,1101.2 1587.7,1106.1 1597.1,1110.9 1606.6,1115.7 1616,1120.5 1625.5,1125.3 1634.9,1130 1644.4,1134.8 1653.9,1139.5 1663.3,1144.2 1672.8,1148.9 1682.2,1153.5 1691.7,1158.2 1701.2,1162.9 1710.6,1167.5 1720.1,1172.1 1729.5,1176.7 1739,1181.3 1748.4,1185.9 1757.9,1190.5 1767.4,1195.1 1776.8,1199.7 1786.3,1204.2 1795.7,1208.8 1805.2,1213.4 1814.6,1217.9 1824.1,1222.5" stroke="#000" stroke-width="2"/>
</g>
<rect x="1058.2" y="656.5" width="4.4" height="625.0" fill="#8a8a8a"/>
<rect x="1062.6" y="780" width="3.6" height="501.5" fill="#6c6c6c"/>
<rect x="1821.6" y="656.5" width="2.6" height="625.0" fill="#a8a8a8"/>
<rect x="1824.2" y="656.5" width="2.6" height="625.0" fill="#505050"/>
<line x1="1047" y1="656.5" x2="1826.8" y2="656.5" stroke="#000" stroke-width="2.3"/>
<line x1="1047" y1="1281.5" x2="1826.8" y2="1281.5" stroke="#000" stroke-width="2.4"/>
<path d="M1067.5,1281.5 v14.3 M1105.3,1281.5 v6.2 M1105.3,656.5 v6.2 M1143.2,1281.5 v14.3 M1143.2,656.5 v14.3 M1181,1281.5 v6.2 M1181,656.5 v6.2 M1218.8,1281.5 v14.3 M1218.8,656.5 v14.3 M1256.7,1281.5 v6.2 M1256.7,656.5 v6.2 M1294.5,1281.5 v14.3 M1294.5,656.5 v14.3 M1332.3,1281.5 v6.2 M1332.3,656.5 v6.2 M1370.1,1281.5 v14.3 M1370.1,656.5 v14.3 M1408,1281.5 v6.2 M1408,656.5 v6.2 M1445.8,1281.5 v14.3 M1445.8,656.5 v14.3 M1483.6,1281.5 v6.2 M1483.6,656.5 v6.2 M1521.5,1281.5 v14.3 M1521.5,656.5 v14.3 M1559.3,1281.5 v6.2 M1559.3,656.5 v6.2 M1597.1,1281.5 v14.3 M1597.1,656.5 v14.3 M1634.9,1281.5 v6.2 M1634.9,656.5 v6.2 M1672.8,1281.5 v14.3 M1672.8,656.5 v14.3 M1710.6,1281.5 v6.2 M1710.6,656.5 v6.2 M1748.4,1281.5 v14.3 M1748.4,656.5 v14.3 M1786.3,1281.5 v6.2 M1786.3,656.5 v6.2 M1824.1,1281.5 v14.3 M1060.3,1187.4 h-8 M1821.6,1187.4 h-5.5 M1060.3,1132.4 h-8 M1821.6,1132.4 h-5.5 M1060.3,1093.4 h-8 M1821.6,1093.4 h-5.5 M1060.3,1063.1 h-8 M1821.6,1063.1 h-5.5 M1060.3,1038.3 h-8 M1821.6,1038.3 h-5.5 M1060.3,1017.4 h-8 M1821.6,1017.4 h-5.5 M1060.3,999.3 h-8 M1821.6,999.3 h-5.5 M1060.3,983.3 h-8 M1821.6,983.3 h-5.5 M1060.3,874.9 h-8 M1821.6,874.9 h-5.5 M1060.3,819.9 h-8 M1821.6,819.9 h-5.5 M1060.3,780.9 h-8 M1821.6,780.9 h-5.5 M1060.3,750.6 h-8 M1821.6,750.6 h-5.5 M1060.3,725.8 h-8 M1821.6,725.8 h-5.5 M1060.3,704.9 h-8 M1821.6,704.9 h-5.5 M1060.3,686.8 h-8 M1821.6,686.8 h-5.5 M1060.3,670.8 h-8 M1821.6,670.8 h-5.5 M1060.3,969 h-14 M1821.6,969 h-11" stroke="#000" stroke-width="2.2" fill="none"/>
<line x1="1069.6" y1="656.5" x2="1067.4" y2="1281.5" stroke="#000" stroke-width="2.8"/>
<line x1="1067.5" y1="1281.5" x2="1067.5" y2="1295.5" stroke="#000" stroke-width="2.4"/>
<line x1="496.2" y1="1057.5" x2="615.8" y2="1057.5" stroke="#444444" stroke-width="7"/>
<text x="628" y="1074.4" font-family="'Liberation Sans', Arial, sans-serif" font-size="51.5">Monomer</text>
<line x1="496.2" y1="1120.5" x2="615.8" y2="1120.5" stroke="#d20a0a" stroke-width="7"/>
<text x="628" y="1137.6" font-family="'Liberation Sans', Arial, sans-serif" font-size="51.5">Transverse Dimer</text>
<line x1="496.2" y1="1185.5" x2="615.8" y2="1185.5" stroke="#0a1cc4" stroke-width="7"/>
<text x="628" y="1200.9" font-family="'Liberation Sans', Arial, sans-serif" font-size="51.5">Adjacent Dimer</text>
<line x1="496.2" y1="1248.5" x2="615.8" y2="1248.5" stroke="#000" stroke-width="7"/>
<text x="628" y="1265.6" font-family="'Liberation Sans', Arial, sans-serif" font-size="51.5">Fit</text>
<line x1="496.2" y1="1312" x2="615.8" y2="1312" stroke="#c3c3c3" stroke-width="7"/>
<text x="628" y="1328.8" font-family="'Liberation Sans', Arial, sans-serif" font-size="51.5">IRF</text>
<g font-family="'Liberation Sans', Arial, sans-serif" fill="#000">
<text x="207" y="67.9" font-size="63" text-anchor="end">10,000</text>
<text transform="translate(201.5,1402.3) scale(0.96,1)" font-size="65" text-anchor="end">2000</text>
<text transform="translate(400.9,1484) scale(0.91,1)" font-size="66.7" text-anchor="middle">0.0</text>
<text transform="translate(695.4,1484) scale(0.91,1)" font-size="66.7" text-anchor="middle">0.2</text>
<text transform="translate(989.9,1484) scale(0.91,1)" font-size="66.7" text-anchor="middle">0.4</text>
<text transform="translate(1284.4,1484) scale(0.91,1)" font-size="66.7" text-anchor="middle">0.6</text>
<text transform="translate(1578.8,1484) scale(0.91,1)" font-size="66.7" text-anchor="middle">0.8</text>
<text transform="translate(1873.3,1484) scale(0.91,1)" font-size="66.7" text-anchor="middle">1.0</text>
<text x="1062" y="1593.4" font-size="69.3" text-anchor="middle">Time (ns)</text>
<text transform="translate(62,713) rotate(-90)" font-size="68" text-anchor="middle">Counts</text>
<text x="1045.5" y="676.3" font-size="40" text-anchor="end" font-family="'DejaVu Sans', sans-serif">10,000</text>
<text x="1035" y="979.6" font-size="41" text-anchor="end">1000</text>
<text x="1037.5" y="1293.4" font-size="41" text-anchor="end">100</text>
<text transform="translate(1067.5,1344) scale(0.89,1)" font-size="52.5" text-anchor="middle">0</text>
<text transform="translate(1143.2,1344) scale(0.89,1)" font-size="52.5" text-anchor="middle">2</text>
<text transform="translate(1218.8,1344) scale(0.89,1)" font-size="52.5" text-anchor="middle">4</text>
<text transform="translate(1294.5,1344) scale(0.89,1)" font-size="52.5" text-anchor="middle">6</text>
<text transform="translate(1370.1,1344) scale(0.89,1)" font-size="52.5" text-anchor="middle">8</text>
<text transform="translate(1445.8,1344) scale(0.89,1)" font-size="52.5" text-anchor="middle">10</text>
<text transform="translate(1521.5,1344) scale(0.89,1)" font-size="52.5" text-anchor="middle">12</text>
<text transform="translate(1597.1,1344) scale(0.89,1)" font-size="52.5" text-anchor="middle">14</text>
<text transform="translate(1672.8,1344) scale(0.89,1)" font-size="52.5" text-anchor="middle">16</text>
<text transform="translate(1748.4,1344) scale(0.89,1)" font-size="52.5" text-anchor="middle">18</text>
<text transform="translate(1824.1,1344) scale(0.89,1)" font-size="52.5" text-anchor="middle">20</text>
</g>
</svg>
</body></html>
